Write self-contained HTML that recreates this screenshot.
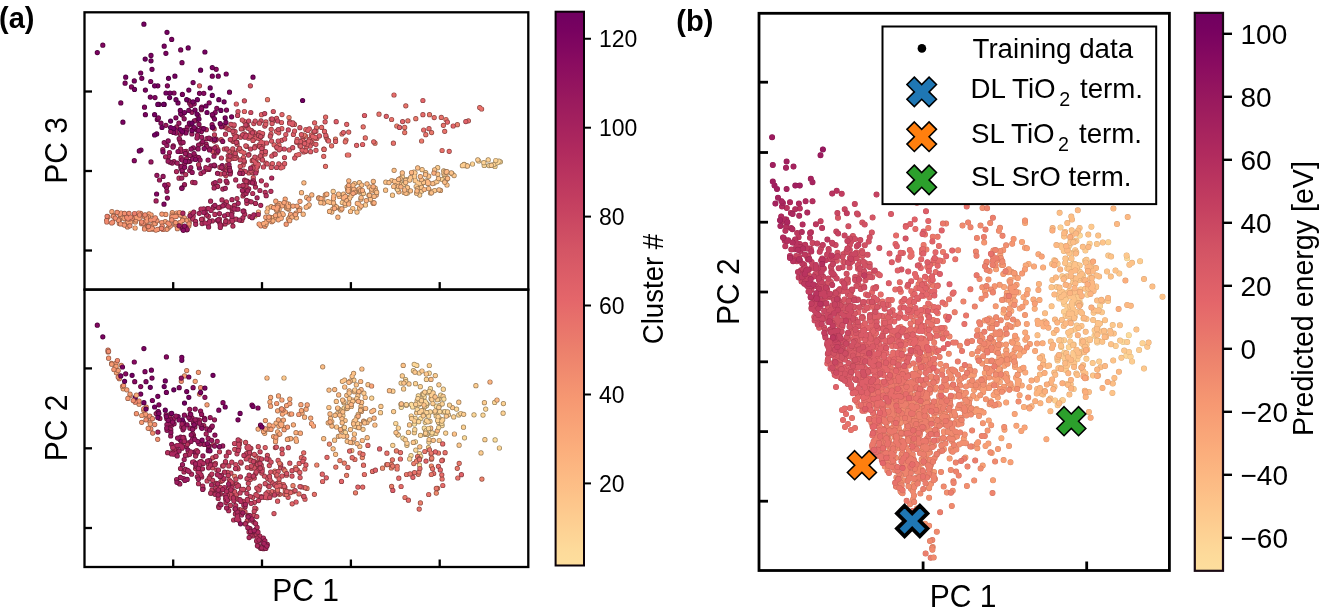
<!DOCTYPE html>
<html><head><meta charset="utf-8"><style>
html,body{margin:0;padding:0;background:#fff;width:1322px;height:608px;overflow:hidden}
svg{display:block;font-family:"Liberation Sans",sans-serif;filter:blur(0.35px)}
</style></head><body>
<svg width="1322" height="608" viewBox="0 0 1322 608" font-family="Liberation Sans, sans-serif"><defs><linearGradient id="ga" x1="0" y1="1" x2="0" y2="0"><stop offset="0.0000" stop-color="#fdde9d"/><stop offset="0.0300" stop-color="#fdda9a"/><stop offset="0.1200" stop-color="#fdc48a"/><stop offset="0.2100" stop-color="#fbae7c"/><stop offset="0.3000" stop-color="#f69872"/><stop offset="0.3900" stop-color="#ec806c"/><stop offset="0.4800" stop-color="#e4666a"/><stop offset="0.5700" stop-color="#d45565"/><stop offset="0.6600" stop-color="#c33e60"/><stop offset="0.7500" stop-color="#b02a5e"/><stop offset="0.8400" stop-color="#9a1a5e"/><stop offset="0.9060" stop-color="#8a0c60"/><stop offset="0.9660" stop-color="#780260"/><stop offset="1.0000" stop-color="#700060"/></linearGradient><linearGradient id="gb" x1="0" y1="1" x2="0" y2="0"><stop offset="0.0000" stop-color="#fdde9d"/><stop offset="0.0300" stop-color="#fdda9a"/><stop offset="0.1200" stop-color="#fdc48a"/><stop offset="0.2100" stop-color="#fbae7c"/><stop offset="0.3000" stop-color="#f69872"/><stop offset="0.3900" stop-color="#ec806c"/><stop offset="0.4800" stop-color="#e4666a"/><stop offset="0.5700" stop-color="#d45565"/><stop offset="0.6600" stop-color="#c33e60"/><stop offset="0.7500" stop-color="#b02a5e"/><stop offset="0.8400" stop-color="#9a1a5e"/><stop offset="0.9060" stop-color="#8a0c60"/><stop offset="0.9660" stop-color="#780260"/><stop offset="1.0000" stop-color="#700060"/></linearGradient><clipPath id="ca1"><rect x="84.5" y="12.3" width="443.79999999999995" height="277.3"/></clipPath><clipPath id="ca2"><rect x="84.5" y="289.6" width="443.79999999999995" height="277.4"/></clipPath><clipPath id="cb"><rect x="759" y="13.3" width="410.4000000000001" height="557.2"/></clipPath></defs>
<g clip-path="url(#ca1)" fill="none" stroke-linecap="round">
<path d="M407.4 193.0h0" stroke="#9c825b" stroke-width="5.20"/>
<path d="M407.4 193.0h0" stroke="#fdd294" stroke-width="3.80"/>
<path d="M428.2 182.3h0M422.0 183.5h0M426.3 180.9h0M446.2 179.7h0M437.7 167.7h0" stroke="#9c7f59" stroke-width="5.20"/>
<path d="M428.2 182.3h0M422.0 183.5h0M426.3 180.9h0M446.2 179.7h0M437.7 167.7h0" stroke="#fdcd91" stroke-width="3.80"/>
<path d="M401.2 184.6h0M444.9 176.6h0M333.2 191.4h0M400.2 181.3h0M425.7 172.6h0M446.0 174.2h0" stroke="#9c7c57" stroke-width="5.20"/>
<path d="M401.2 184.6h0M444.9 176.6h0M333.2 191.4h0M400.2 181.3h0M425.7 172.6h0M446.0 174.2h0" stroke="#fdc88d" stroke-width="3.80"/>
<path d="M385.8 182.2h0M385.6 190.2h0M359.4 182.7h0M404.1 192.5h0M407.5 187.7h0M347.1 187.1h0M391.8 180.5h0" stroke="#9c7854" stroke-width="5.20"/>
<path d="M385.8 182.2h0M385.6 190.2h0M359.4 182.7h0M404.1 192.5h0M407.5 187.7h0M347.1 187.1h0M391.8 180.5h0" stroke="#fdc389" stroke-width="3.80"/>
<path d="M440.5 190.4h0M308.2 206.2h0M394.1 170.3h0M375.2 188.1h0" stroke="#9c7553" stroke-width="5.20"/>
<path d="M440.5 190.4h0M308.2 206.2h0M394.1 170.3h0M375.2 188.1h0" stroke="#fcbe86" stroke-width="3.80"/>
<path d="M303.2 214.2h0M371.7 191.0h0M398.8 191.8h0M289.7 217.0h0M298.7 208.6h0M301.5 192.7h0M375.8 190.9h0M306.7 197.4h0M354.7 189.5h0M322.8 199.2h0M303.9 182.8h0M355.4 192.0h0M360.9 199.2h0" stroke="#9c7251" stroke-width="5.20"/>
<path d="M303.2 214.2h0M371.7 191.0h0M398.8 191.8h0M289.7 217.0h0M298.7 208.6h0M301.5 192.7h0M375.8 190.9h0M306.7 197.4h0M354.7 189.5h0M322.8 199.2h0M303.9 182.8h0M355.4 192.0h0M360.9 199.2h0" stroke="#fcb983" stroke-width="3.80"/>
<path d="M309.2 204.8h0M318.7 197.8h0M311.8 194.9h0M306.2 207.2h0M348.8 180.8h0M288.6 204.2h0M347.7 189.7h0M323.7 203.1h0M376.2 194.9h0" stroke="#9c6f4f" stroke-width="5.20"/>
<path d="M309.2 204.8h0M318.7 197.8h0M311.8 194.9h0M306.2 207.2h0M348.8 180.8h0M288.6 204.2h0M347.7 189.7h0M323.7 203.1h0M376.2 194.9h0" stroke="#fcb480" stroke-width="3.80"/>
<path d="M272.8 217.6h0M325.3 194.8h0M319.0 198.2h0M254.9 216.0h0M286.5 207.9h0" stroke="#9b6b4c" stroke-width="5.20"/>
<path d="M272.8 217.6h0M325.3 194.8h0M319.0 198.2h0M254.9 216.0h0M286.5 207.9h0" stroke="#fbae7c" stroke-width="3.80"/>
<path d="M321.0 198.7h0M285.2 199.1h0" stroke="#9b684b" stroke-width="5.20"/>
<path d="M321.0 198.7h0M285.2 199.1h0" stroke="#faa97a" stroke-width="3.80"/>
<path d="M271.8 221.7h0M308.8 199.1h0M290.6 214.4h0M270.3 218.4h0" stroke="#9a654a" stroke-width="5.20"/>
<path d="M271.8 221.7h0M308.8 199.1h0M290.6 214.4h0M270.3 218.4h0" stroke="#f9a478" stroke-width="3.80"/>
<path d="M259.1 224.0h0M260.9 225.8h0" stroke="#996248" stroke-width="5.20"/>
<path d="M259.1 224.0h0M260.9 225.8h0" stroke="#f89f75" stroke-width="3.80"/>
<path d="M286.2 224.2h0M264.9 226.2h0" stroke="#985f47" stroke-width="5.20"/>
<path d="M286.2 224.2h0M264.9 226.2h0" stroke="#f69a73" stroke-width="3.80"/>
<path d="M296.4 217.8h0M267.0 211.8h0M278.6 205.8h0M269.4 218.4h0M268.0 208.2h0M299.5 209.6h0" stroke="#9c7251" stroke-width="5.20"/>
<path d="M296.4 217.8h0M267.0 211.8h0M278.6 205.8h0M269.4 218.4h0M268.0 208.2h0M299.5 209.6h0" stroke="#fcb983" stroke-width="3.80"/>
<path d="M272.6 217.6h0M271.2 206.7h0M279.1 209.4h0M288.7 209.2h0" stroke="#9c6f4f" stroke-width="5.20"/>
<path d="M272.6 217.6h0M271.2 206.7h0M279.1 209.4h0M288.7 209.2h0" stroke="#fcb480" stroke-width="3.80"/>
<path d="M277.5 209.5h0M267.4 218.2h0M283.2 214.6h0M282.4 213.5h0M274.2 207.6h0M258.5 212.0h0M287.9 208.2h0M288.4 219.1h0M266.1 224.3h0M276.1 217.6h0M299.9 208.5h0M273.0 220.8h0M292.0 217.1h0M276.7 210.4h0" stroke="#9b6b4c" stroke-width="5.20"/>
<path d="M277.5 209.5h0M267.4 218.2h0M283.2 214.6h0M282.4 213.5h0M274.2 207.6h0M258.5 212.0h0M287.9 208.2h0M288.4 219.1h0M266.1 224.3h0M276.1 217.6h0M299.9 208.5h0M273.0 220.8h0M292.0 217.1h0M276.7 210.4h0" stroke="#fbae7c" stroke-width="3.80"/>
<path d="M279.6 203.7h0M279.1 214.8h0M268.3 217.6h0M286.4 203.5h0M289.7 220.7h0M278.3 219.8h0M269.4 217.2h0M296.0 213.1h0M299.5 210.4h0M266.4 222.0h0M282.3 205.8h0M281.2 218.2h0M288.4 206.7h0M263.6 223.7h0M276.4 206.4h0" stroke="#9b684b" stroke-width="5.20"/>
<path d="M279.6 203.7h0M279.1 214.8h0M268.3 217.6h0M286.4 203.5h0M289.7 220.7h0M278.3 219.8h0M269.4 217.2h0M296.0 213.1h0M299.5 210.4h0M266.4 222.0h0M282.3 205.8h0M281.2 218.2h0M288.4 206.7h0M263.6 223.7h0M276.4 206.4h0" stroke="#faa97a" stroke-width="3.80"/>
<path d="M297.1 206.1h0M284.1 202.6h0M300.0 201.3h0M268.8 219.7h0M275.8 201.2h0M278.0 205.3h0M295.4 214.6h0M275.5 215.6h0M265.8 217.2h0M293.0 206.1h0" stroke="#9a654a" stroke-width="5.20"/>
<path d="M297.1 206.1h0M284.1 202.6h0M300.0 201.3h0M268.8 219.7h0M275.8 201.2h0M278.0 205.3h0M295.4 214.6h0M275.5 215.6h0M265.8 217.2h0M293.0 206.1h0" stroke="#f9a478" stroke-width="3.80"/>
<path d="M268.9 217.1h0M273.5 207.6h0M276.8 209.0h0M277.6 207.1h0" stroke="#996248" stroke-width="5.20"/>
<path d="M268.9 217.1h0M273.5 207.6h0M276.8 209.0h0M277.6 207.1h0" stroke="#f89f75" stroke-width="3.80"/>
<path d="M372.8 202.5h0" stroke="#9c7f59" stroke-width="5.20"/>
<path d="M372.8 202.5h0" stroke="#fdcd91" stroke-width="3.80"/>
<path d="M359.5 192.1h0M349.1 197.7h0M332.8 209.2h0M342.3 202.5h0M365.5 205.0h0M363.4 193.4h0" stroke="#9c7c57" stroke-width="5.20"/>
<path d="M359.5 192.1h0M349.1 197.7h0M332.8 209.2h0M342.3 202.5h0M365.5 205.0h0M363.4 193.4h0" stroke="#fdc88d" stroke-width="3.80"/>
<path d="M339.9 208.8h0M352.8 208.5h0M357.0 212.1h0M348.9 191.4h0M354.6 183.6h0M347.8 189.4h0M350.0 189.1h0M360.0 191.2h0M345.2 205.2h0" stroke="#9c7854" stroke-width="5.20"/>
<path d="M339.9 208.8h0M352.8 208.5h0M357.0 212.1h0M348.9 191.4h0M354.6 183.6h0M347.8 189.4h0M350.0 189.1h0M360.0 191.2h0M345.2 205.2h0" stroke="#fdc389" stroke-width="3.80"/>
<path d="M340.9 209.9h0M369.2 186.9h0M334.6 205.7h0M351.1 195.7h0M370.4 199.3h0M343.5 194.2h0M331.8 212.1h0M359.5 207.9h0M349.7 187.8h0M376.7 192.4h0M330.5 202.4h0M339.3 196.5h0M350.5 211.5h0M327.9 201.7h0M349.6 198.3h0M361.7 185.1h0M336.5 207.5h0M368.9 195.2h0M348.7 202.6h0" stroke="#9c7553" stroke-width="5.20"/>
<path d="M340.9 209.9h0M369.2 186.9h0M334.6 205.7h0M351.1 195.7h0M370.4 199.3h0M343.5 194.2h0M331.8 212.1h0M359.5 207.9h0M349.7 187.8h0M376.7 192.4h0M330.5 202.4h0M339.3 196.5h0M350.5 211.5h0M327.9 201.7h0M349.6 198.3h0M361.7 185.1h0M336.5 207.5h0M368.9 195.2h0M348.7 202.6h0" stroke="#fcbe86" stroke-width="3.80"/>
<path d="M369.5 195.3h0M360.6 189.7h0M374.1 196.4h0M333.5 202.9h0M361.1 197.7h0M373.3 181.4h0M320.8 202.7h0M336.3 206.8h0M353.0 185.2h0M338.6 194.2h0M345.1 203.5h0M371.7 189.1h0M329.5 211.4h0M359.2 188.8h0M367.0 183.8h0" stroke="#9c7251" stroke-width="5.20"/>
<path d="M369.5 195.3h0M360.6 189.7h0M374.1 196.4h0M333.5 202.9h0M361.1 197.7h0M373.3 181.4h0M320.8 202.7h0M336.3 206.8h0M353.0 185.2h0M338.6 194.2h0M345.1 203.5h0M371.7 189.1h0M329.5 211.4h0M359.2 188.8h0M367.0 183.8h0" stroke="#fcb983" stroke-width="3.80"/>
<path d="M357.3 203.4h0M333.8 196.0h0M337.9 217.2h0M373.4 203.5h0M361.2 206.1h0M366.3 200.6h0M346.3 200.1h0M353.8 189.5h0M358.7 203.8h0M333.5 198.6h0M360.7 190.7h0" stroke="#9c6f4f" stroke-width="5.20"/>
<path d="M357.3 203.4h0M333.8 196.0h0M337.9 217.2h0M373.4 203.5h0M361.2 206.1h0M366.3 200.6h0M346.3 200.1h0M353.8 189.5h0M358.7 203.8h0M333.5 198.6h0M360.7 190.7h0" stroke="#fcb480" stroke-width="3.80"/>
<path d="M374.1 202.9h0M348.7 204.0h0M348.3 188.0h0M348.2 191.1h0M354.8 192.3h0M341.9 208.8h0M343.4 197.9h0M345.4 196.4h0M362.4 190.5h0M326.8 194.2h0M373.2 186.7h0" stroke="#9b6b4c" stroke-width="5.20"/>
<path d="M374.1 202.9h0M348.7 204.0h0M348.3 188.0h0M348.2 191.1h0M354.8 192.3h0M341.9 208.8h0M343.4 197.9h0M345.4 196.4h0M362.4 190.5h0M326.8 194.2h0M373.2 186.7h0" stroke="#fbae7c" stroke-width="3.80"/>
<path d="M334.4 208.5h0M348.7 185.3h0" stroke="#9b684b" stroke-width="5.20"/>
<path d="M334.4 208.5h0M348.7 185.3h0" stroke="#faa97a" stroke-width="3.80"/>
<path d="M353.1 193.3h0" stroke="#9a654a" stroke-width="5.20"/>
<path d="M353.1 193.3h0" stroke="#f9a478" stroke-width="3.80"/>
<path d="M396.9 188.4h0" stroke="#9c855e" stroke-width="5.20"/>
<path d="M396.9 188.4h0" stroke="#fdd798" stroke-width="3.80"/>
<path d="M442.2 179.6h0M452.1 173.7h0M406.9 179.6h0" stroke="#9c825b" stroke-width="5.20"/>
<path d="M442.2 179.6h0M452.1 173.7h0M406.9 179.6h0" stroke="#fdd294" stroke-width="3.80"/>
<path d="M421.7 191.1h0M402.3 176.7h0M397.6 189.6h0M420.4 187.6h0M444.1 174.4h0M419.7 195.1h0M403.5 184.6h0M398.8 180.4h0" stroke="#9c7f59" stroke-width="5.20"/>
<path d="M421.7 191.1h0M402.3 176.7h0M397.6 189.6h0M420.4 187.6h0M444.1 174.4h0M419.7 195.1h0M403.5 184.6h0M398.8 180.4h0" stroke="#fdcd91" stroke-width="3.80"/>
<path d="M445.0 181.6h0M422.1 169.7h0M430.5 193.0h0M437.0 181.6h0M443.7 170.9h0M415.2 180.7h0M454.1 175.6h0M415.0 172.8h0M417.9 182.8h0M416.2 186.5h0M414.4 176.5h0M405.5 180.1h0M431.6 191.3h0M420.2 183.9h0M434.1 183.0h0M415.3 180.4h0M413.9 172.2h0M392.5 195.2h0M443.9 172.8h0M434.7 190.6h0" stroke="#9c7c57" stroke-width="5.20"/>
<path d="M445.0 181.6h0M422.1 169.7h0M430.5 193.0h0M437.0 181.6h0M443.7 170.9h0M415.2 180.7h0M454.1 175.6h0M415.0 172.8h0M417.9 182.8h0M416.2 186.5h0M414.4 176.5h0M405.5 180.1h0M431.6 191.3h0M420.2 183.9h0M434.1 183.0h0M415.3 180.4h0M413.9 172.2h0M392.5 195.2h0M443.9 172.8h0M434.7 190.6h0" stroke="#fdc88d" stroke-width="3.80"/>
<path d="M400.1 178.6h0M445.2 171.6h0M409.7 180.1h0M416.6 193.2h0M421.6 187.4h0M451.3 172.9h0M428.7 176.2h0M438.5 178.6h0M396.0 183.5h0M447.0 185.0h0M437.8 174.2h0M423.6 182.4h0M434.6 169.8h0M410.6 177.6h0M405.6 180.5h0M417.5 188.8h0" stroke="#9c7854" stroke-width="5.20"/>
<path d="M400.1 178.6h0M445.2 171.6h0M409.7 180.1h0M416.6 193.2h0M421.6 187.4h0M451.3 172.9h0M428.7 176.2h0M438.5 178.6h0M396.0 183.5h0M447.0 185.0h0M437.8 174.2h0M423.6 182.4h0M434.6 169.8h0M410.6 177.6h0M405.6 180.5h0M417.5 188.8h0" stroke="#fdc389" stroke-width="3.80"/>
<path d="M432.7 183.6h0M428.6 188.6h0M439.0 189.8h0M402.3 172.9h0M394.5 181.3h0M398.5 186.3h0M410.5 190.8h0M397.8 182.0h0M425.5 174.7h0M405.7 182.5h0M393.7 186.5h0M406.0 193.3h0M431.5 192.8h0M389.0 182.6h0M444.8 182.2h0M417.7 167.9h0M421.4 179.5h0" stroke="#9c7553" stroke-width="5.20"/>
<path d="M432.7 183.6h0M428.6 188.6h0M439.0 189.8h0M402.3 172.9h0M394.5 181.3h0M398.5 186.3h0M410.5 190.8h0M397.8 182.0h0M425.5 174.7h0M405.7 182.5h0M393.7 186.5h0M406.0 193.3h0M431.5 192.8h0M389.0 182.6h0M444.8 182.2h0M417.7 167.9h0M421.4 179.5h0" stroke="#fcbe86" stroke-width="3.80"/>
<path d="M417.0 190.9h0M420.3 176.6h0M446.4 172.2h0M427.7 181.6h0M446.9 171.6h0M398.6 179.4h0M447.6 178.4h0M428.7 183.2h0M404.6 190.0h0M427.8 183.4h0M424.2 189.5h0" stroke="#9c7251" stroke-width="5.20"/>
<path d="M417.0 190.9h0M420.3 176.6h0M446.4 172.2h0M427.7 181.6h0M446.9 171.6h0M398.6 179.4h0M447.6 178.4h0M428.7 183.2h0M404.6 190.0h0M427.8 183.4h0M424.2 189.5h0" stroke="#fcb983" stroke-width="3.80"/>
<path d="M411.5 172.5h0M400.9 186.8h0" stroke="#9c6f4f" stroke-width="5.20"/>
<path d="M411.5 172.5h0M400.9 186.8h0" stroke="#fcb480" stroke-width="3.80"/>
<path d="M433.9 173.1h0" stroke="#9b6b4c" stroke-width="5.20"/>
<path d="M433.9 173.1h0" stroke="#fbae7c" stroke-width="3.80"/>
<path d="M500.4 161.8h0M495.0 166.5h0" stroke="#9c8760" stroke-width="5.20"/>
<path d="M500.4 161.8h0M495.0 166.5h0" stroke="#fddb9b" stroke-width="3.80"/>
<path d="M484.2 165.4h0M499.0 161.2h0M489.0 165.6h0M497.7 162.6h0M495.4 163.4h0" stroke="#9c855e" stroke-width="5.20"/>
<path d="M484.2 165.4h0M499.0 161.2h0M489.0 165.6h0M497.7 162.6h0M495.4 163.4h0" stroke="#fdd798" stroke-width="3.80"/>
<path d="M488.2 159.9h0M464.1 164.4h0M491.4 165.2h0M472.5 164.0h0M495.8 160.5h0M467.1 165.8h0M493.8 164.6h0M483.8 162.7h0M478.7 161.0h0" stroke="#9c825b" stroke-width="5.20"/>
<path d="M488.2 159.9h0M464.1 164.4h0M491.4 165.2h0M472.5 164.0h0M495.8 160.5h0M467.1 165.8h0M493.8 164.6h0M483.8 162.7h0M478.7 161.0h0" stroke="#fdd294" stroke-width="3.80"/>
<path d="M491.3 165.3h0M477.8 159.8h0M462.4 165.7h0M465.6 165.7h0M464.0 164.6h0" stroke="#9c7f59" stroke-width="5.20"/>
<path d="M491.3 165.3h0M477.8 159.8h0M462.4 165.7h0M465.6 165.7h0M464.0 164.6h0" stroke="#fdcd91" stroke-width="3.80"/>
<path d="M467.4 166.0h0" stroke="#9c7c57" stroke-width="5.20"/>
<path d="M467.4 166.0h0" stroke="#fdc88d" stroke-width="3.80"/>
<path d="M190.7 213.3h0M135.1 228.0h0" stroke="#9b684b" stroke-width="5.20"/>
<path d="M190.7 213.3h0M135.1 228.0h0" stroke="#faa97a" stroke-width="3.80"/>
<path d="M153.0 224.1h0M168.2 227.9h0M172.3 212.7h0M111.9 211.7h0M165.3 221.6h0M148.0 225.8h0M135.4 221.9h0M184.4 217.8h0M183.1 217.9h0" stroke="#9a654a" stroke-width="5.20"/>
<path d="M153.0 224.1h0M168.2 227.9h0M172.3 212.7h0M111.9 211.7h0M165.3 221.6h0M148.0 225.8h0M135.4 221.9h0M184.4 217.8h0M183.1 217.9h0" stroke="#f9a478" stroke-width="3.80"/>
<path d="M135.2 215.3h0M130.4 222.3h0M172.0 215.2h0M144.8 222.3h0M182.6 220.0h0M155.3 223.4h0M124.2 218.5h0M176.7 213.0h0M136.0 219.9h0M175.4 224.8h0M149.0 213.9h0M127.5 216.1h0M127.4 222.1h0M120.5 216.9h0M180.3 224.7h0M148.5 227.2h0M152.5 229.2h0M173.6 215.3h0M151.1 214.8h0M165.8 214.4h0" stroke="#996248" stroke-width="5.20"/>
<path d="M135.2 215.3h0M130.4 222.3h0M172.0 215.2h0M144.8 222.3h0M182.6 220.0h0M155.3 223.4h0M124.2 218.5h0M176.7 213.0h0M136.0 219.9h0M175.4 224.8h0M149.0 213.9h0M127.5 216.1h0M127.4 222.1h0M120.5 216.9h0M180.3 224.7h0M148.5 227.2h0M152.5 229.2h0M173.6 215.3h0M151.1 214.8h0M165.8 214.4h0" stroke="#f89f75" stroke-width="3.80"/>
<path d="M177.4 228.7h0M127.5 226.9h0M139.2 214.8h0M174.7 222.9h0M182.6 227.0h0M148.3 216.8h0M178.3 214.3h0M189.2 222.6h0M132.3 218.3h0M138.9 216.6h0M108.0 216.9h0M119.6 213.8h0M161.9 214.1h0M154.9 223.7h0M182.5 220.4h0M180.8 215.3h0M180.1 222.3h0M119.5 219.8h0M144.4 216.8h0M144.8 227.8h0M171.8 218.0h0M139.2 218.5h0M128.0 214.5h0M113.8 215.6h0M172.8 216.4h0M124.3 224.0h0M187.1 220.3h0M136.2 217.2h0M175.9 215.8h0M147.1 217.7h0M166.8 229.3h0M141.5 223.7h0M119.3 223.5h0" stroke="#985f47" stroke-width="5.20"/>
<path d="M177.4 228.7h0M127.5 226.9h0M139.2 214.8h0M174.7 222.9h0M182.6 227.0h0M148.3 216.8h0M178.3 214.3h0M189.2 222.6h0M132.3 218.3h0M138.9 216.6h0M108.0 216.9h0M119.6 213.8h0M161.9 214.1h0M154.9 223.7h0M182.5 220.4h0M180.8 215.3h0M180.1 222.3h0M119.5 219.8h0M144.4 216.8h0M144.8 227.8h0M171.8 218.0h0M139.2 218.5h0M128.0 214.5h0M113.8 215.6h0M172.8 216.4h0M124.3 224.0h0M187.1 220.3h0M136.2 217.2h0M175.9 215.8h0M147.1 217.7h0M166.8 229.3h0M141.5 223.7h0M119.3 223.5h0" stroke="#f69a73" stroke-width="3.80"/>
<path d="M146.5 217.7h0M118.4 220.2h0M188.8 226.1h0M190.3 218.8h0M170.3 226.0h0M144.5 229.0h0M174.7 216.7h0M149.6 226.1h0M124.4 225.1h0M150.4 228.6h0M113.4 216.3h0M175.7 222.6h0M172.0 217.0h0M156.9 220.7h0M149.1 229.5h0M176.1 216.4h0M161.8 222.5h0M147.4 220.8h0M120.5 223.9h0M157.6 229.4h0M145.1 222.1h0M160.6 228.5h0M152.2 228.3h0M140.6 213.4h0M155.9 230.1h0M120.0 214.3h0M179.5 212.5h0M121.0 213.0h0" stroke="#975c46" stroke-width="5.20"/>
<path d="M146.5 217.7h0M118.4 220.2h0M188.8 226.1h0M190.3 218.8h0M170.3 226.0h0M144.5 229.0h0M174.7 216.7h0M149.6 226.1h0M124.4 225.1h0M150.4 228.6h0M113.4 216.3h0M175.7 222.6h0M172.0 217.0h0M156.9 220.7h0M149.1 229.5h0M176.1 216.4h0M161.8 222.5h0M147.4 220.8h0M120.5 223.9h0M157.6 229.4h0M145.1 222.1h0M160.6 228.5h0M152.2 228.3h0M140.6 213.4h0M155.9 230.1h0M120.0 214.3h0M179.5 212.5h0M121.0 213.0h0" stroke="#f59571" stroke-width="3.80"/>
<path d="M143.1 223.5h0M147.9 226.6h0M154.1 219.4h0M132.0 218.5h0M129.9 225.8h0M150.7 220.1h0M155.3 217.8h0M111.7 222.9h0M163.0 229.5h0M138.7 213.0h0M171.8 219.9h0M129.3 218.9h0M117.1 212.3h0M162.2 226.1h0M115.3 218.1h0M124.5 213.4h0M169.3 224.1h0M112.7 222.2h0M189.0 223.9h0M168.0 223.1h0" stroke="#965845" stroke-width="5.20"/>
<path d="M143.1 223.5h0M147.9 226.6h0M154.1 219.4h0M132.0 218.5h0M129.9 225.8h0M150.7 220.1h0M155.3 217.8h0M111.7 222.9h0M163.0 229.5h0M138.7 213.0h0M171.8 219.9h0M129.3 218.9h0M117.1 212.3h0M162.2 226.1h0M115.3 218.1h0M124.5 213.4h0M169.3 224.1h0M112.7 222.2h0M189.0 223.9h0M168.0 223.1h0" stroke="#f28f70" stroke-width="3.80"/>
<path d="M139.6 215.0h0M148.4 226.6h0M130.7 217.1h0M141.7 222.0h0M106.8 222.0h0M106.6 220.3h0M128.0 218.8h0M129.0 213.3h0M126.7 217.3h0M145.0 214.9h0" stroke="#945544" stroke-width="5.20"/>
<path d="M139.6 215.0h0M148.4 226.6h0M130.7 217.1h0M141.7 222.0h0M106.8 222.0h0M106.6 220.3h0M128.0 218.8h0M129.0 213.3h0M126.7 217.3h0M145.0 214.9h0" stroke="#f08a6e" stroke-width="3.80"/>
<path d="M161.6 228.4h0M107.1 216.3h0" stroke="#935143" stroke-width="5.20"/>
<path d="M161.6 228.4h0M107.1 216.3h0" stroke="#ee846d" stroke-width="3.80"/>
<path d="M134.5 213.5h0" stroke="#914e42" stroke-width="5.20"/>
<path d="M134.5 213.5h0" stroke="#eb7e6c" stroke-width="3.80"/>
<path d="M313.7 132.1h0" stroke="#935143" stroke-width="5.20"/>
<path d="M313.7 132.1h0" stroke="#ee846d" stroke-width="3.80"/>
<path d="M457.4 124.7h0M396.8 126.0h0M375.0 143.2h0M335.5 139.2h0" stroke="#914e42" stroke-width="5.20"/>
<path d="M457.4 124.7h0M396.8 126.0h0M375.0 143.2h0M335.5 139.2h0" stroke="#eb7e6c" stroke-width="3.80"/>
<path d="M407.9 120.8h0M415.8 118.7h0M429.5 114.7h0M446.0 119.5h0M431.6 132.6h0M404.7 127.4h0M404.7 132.6h0M421.6 141.0h0M342.0 134.0h0M346.0 140.0h0" stroke="#914a42" stroke-width="5.20"/>
<path d="M407.9 120.8h0M415.8 118.7h0M429.5 114.7h0M446.0 119.5h0M431.6 132.6h0M404.7 127.4h0M404.7 132.6h0M421.6 141.0h0M342.0 134.0h0M346.0 140.0h0" stroke="#ea786b" stroke-width="3.80"/>
<path d="M405.8 105.8h0M479.7 107.6h0M481.6 109.0h0M379.0 114.2h0M391.6 119.5h0M434.2 117.6h0M441.3 117.4h0M468.4 120.8h0M443.4 125.3h0M444.7 131.3h0M425.8 134.7h0M442.1 150.5h0M393.4 143.2h0M363.2 126.8h0M365.3 137.9h0M345.3 141.8h0M326.3 137.4h0M347.4 155.0h0M348.7 155.0h0M325.5 166.3h0M331.6 145.8h0" stroke="#8f4642" stroke-width="5.20"/>
<path d="M405.8 105.8h0M479.7 107.6h0M481.6 109.0h0M379.0 114.2h0M391.6 119.5h0M434.2 117.6h0M441.3 117.4h0M468.4 120.8h0M443.4 125.3h0M444.7 131.3h0M425.8 134.7h0M442.1 150.5h0M393.4 143.2h0M363.2 126.8h0M365.3 137.9h0M345.3 141.8h0M326.3 137.4h0M347.4 155.0h0M348.7 155.0h0M325.5 166.3h0M331.6 145.8h0" stroke="#e8726b" stroke-width="3.80"/>
<path d="M394.0 95.0h0M422.9 114.7h0M423.7 130.0h0M429.0 128.7h0M449.2 151.3h0M373.7 141.8h0M348.7 132.1h0M321.6 127.4h0M305.8 129.5h0M323.7 156.3h0" stroke="#8e4241" stroke-width="5.20"/>
<path d="M394.0 95.0h0M422.9 114.7h0M423.7 130.0h0M429.0 128.7h0M449.2 151.3h0M373.7 141.8h0M348.7 132.1h0M321.6 127.4h0M305.8 129.5h0M323.7 156.3h0" stroke="#e66c6a" stroke-width="3.80"/>
<path d="M422.9 100.5h0M402.6 121.6h0M447.4 122.1h0M453.2 126.0h0M362.6 144.5h0M356.6 145.3h0M327.6 140.0h0M312.6 136.6h0" stroke="#8d3f41" stroke-width="5.20"/>
<path d="M422.9 100.5h0M402.6 121.6h0M447.4 122.1h0M453.2 126.0h0M362.6 144.5h0M356.6 145.3h0M327.6 140.0h0M312.6 136.6h0" stroke="#e4666a" stroke-width="3.80"/>
<path d="M386.3 116.3h0M465.8 121.6h0M399.5 127.4h0M343.4 132.6h0" stroke="#8a3c41" stroke-width="5.20"/>
<path d="M386.3 116.3h0M465.8 121.6h0M399.5 127.4h0M343.4 132.6h0" stroke="#e06269" stroke-width="3.80"/>
<path d="M364.5 115.5h0" stroke="#893a40" stroke-width="5.20"/>
<path d="M364.5 115.5h0" stroke="#dd5e68" stroke-width="3.80"/>
<path d="M304.0 136.8h0" stroke="#914a42" stroke-width="5.20"/>
<path d="M304.0 136.8h0" stroke="#ea786b" stroke-width="3.80"/>
<path d="M305.5 136.0h0M305.3 151.5h0M312.2 143.6h0" stroke="#8f4642" stroke-width="5.20"/>
<path d="M305.5 136.0h0M305.3 151.5h0M312.2 143.6h0" stroke="#e8726b" stroke-width="3.80"/>
<path d="M316.8 138.5h0M311.3 135.1h0M299.8 143.8h0M314.3 137.2h0" stroke="#8e4241" stroke-width="5.20"/>
<path d="M316.8 138.5h0M311.3 135.1h0M299.8 143.8h0M314.3 137.2h0" stroke="#e66c6a" stroke-width="3.80"/>
<path d="M323.9 149.2h0M312.2 139.7h0" stroke="#8d3f41" stroke-width="5.20"/>
<path d="M323.9 149.2h0M312.2 139.7h0" stroke="#e4666a" stroke-width="3.80"/>
<path d="M303.8 151.9h0M309.4 139.3h0M312.6 136.5h0M304.0 141.9h0M302.4 140.0h0M306.3 147.0h0M315.4 137.5h0" stroke="#8a3c41" stroke-width="5.20"/>
<path d="M303.8 151.9h0M309.4 139.3h0M312.6 136.5h0M304.0 141.9h0M302.4 140.0h0M306.3 147.0h0M315.4 137.5h0" stroke="#e06269" stroke-width="3.80"/>
<path d="M310.2 146.1h0M310.6 151.7h0M310.7 141.7h0M307.7 142.2h0" stroke="#893a40" stroke-width="5.20"/>
<path d="M310.2 146.1h0M310.6 151.7h0M310.7 141.7h0M307.7 142.2h0" stroke="#dd5e68" stroke-width="3.80"/>
<path d="M324.1 149.4h0M325.6 117.1h0M316.5 127.8h0M294.5 124.4h0" stroke="#8e4241" stroke-width="5.20"/>
<path d="M324.1 149.4h0M325.6 117.1h0M316.5 127.8h0M294.5 124.4h0" stroke="#e66c6a" stroke-width="3.80"/>
<path d="M314.6 122.8h0M324.5 131.4h0M346.7 124.3h0M328.6 140.9h0M296.6 142.3h0" stroke="#8d3f41" stroke-width="5.20"/>
<path d="M314.6 122.8h0M324.5 131.4h0M346.7 124.3h0M328.6 140.9h0M296.6 142.3h0" stroke="#e4666a" stroke-width="3.80"/>
<path d="M305.8 150.9h0M307.0 144.5h0M315.9 144.3h0M315.9 131.3h0M297.1 139.4h0M335.6 141.4h0M300.0 145.9h0M325.1 121.8h0M302.1 150.1h0M308.8 141.1h0M316.0 150.3h0" stroke="#8a3c41" stroke-width="5.20"/>
<path d="M305.8 150.9h0M307.0 144.5h0M315.9 144.3h0M315.9 131.3h0M297.1 139.4h0M335.6 141.4h0M300.0 145.9h0M325.1 121.8h0M302.1 150.1h0M308.8 141.1h0M316.0 150.3h0" stroke="#e06269" stroke-width="3.80"/>
<path d="M293.4 134.4h0M336.2 121.7h0M300.5 141.7h0M309.3 128.8h0M307.9 130.5h0M302.7 136.3h0M319.4 135.9h0M325.8 135.4h0M285.8 134.5h0" stroke="#893a40" stroke-width="5.20"/>
<path d="M293.4 134.4h0M336.2 121.7h0M300.5 141.7h0M309.3 128.8h0M307.9 130.5h0M302.7 136.3h0M319.4 135.9h0M325.8 135.4h0M285.8 134.5h0" stroke="#dd5e68" stroke-width="3.80"/>
<path d="M314.6 131.2h0" stroke="#86373f" stroke-width="5.20"/>
<path d="M314.6 131.2h0" stroke="#d95a67" stroke-width="3.80"/>
<path d="M299.9 127.7h0" stroke="#84353e" stroke-width="5.20"/>
<path d="M299.9 127.7h0" stroke="#d55665" stroke-width="3.80"/>
<path d="M289.0 117.6h0" stroke="#914e42" stroke-width="5.20"/>
<path d="M289.0 117.6h0" stroke="#eb7e6c" stroke-width="3.80"/>
<path d="M304.1 135.1h0" stroke="#914a42" stroke-width="5.20"/>
<path d="M304.1 135.1h0" stroke="#ea786b" stroke-width="3.80"/>
<path d="M279.0 145.0h0M274.1 154.1h0" stroke="#8e4241" stroke-width="5.20"/>
<path d="M279.0 145.0h0M274.1 154.1h0" stroke="#e66c6a" stroke-width="3.80"/>
<path d="M282.0 114.6h0M274.1 144.8h0M298.9 154.5h0M281.8 128.7h0M296.4 155.3h0M256.3 166.1h0" stroke="#8d3f41" stroke-width="5.20"/>
<path d="M282.0 114.6h0M274.1 144.8h0M298.9 154.5h0M281.8 128.7h0M296.4 155.3h0M256.3 166.1h0" stroke="#e4666a" stroke-width="3.80"/>
<path d="M278.7 132.8h0M271.0 134.0h0M257.1 163.5h0M265.9 121.9h0M300.8 146.1h0M265.1 154.0h0M262.6 146.7h0M296.9 141.5h0M262.0 135.7h0M282.3 165.5h0M249.8 134.9h0M272.4 163.7h0M282.8 167.0h0M262.0 135.1h0M246.6 146.4h0M289.3 149.9h0M272.8 121.1h0M280.9 167.8h0M276.4 131.3h0M281.5 122.5h0" stroke="#8a3c41" stroke-width="5.20"/>
<path d="M278.7 132.8h0M271.0 134.0h0M257.1 163.5h0M265.9 121.9h0M300.8 146.1h0M265.1 154.0h0M262.6 146.7h0M296.9 141.5h0M262.0 135.7h0M282.3 165.5h0M249.8 134.9h0M272.4 163.7h0M282.8 167.0h0M262.0 135.1h0M246.6 146.4h0M289.3 149.9h0M272.8 121.1h0M280.9 167.8h0M276.4 131.3h0M281.5 122.5h0" stroke="#e06269" stroke-width="3.80"/>
<path d="M271.2 119.2h0M261.7 156.0h0M294.6 131.0h0M233.4 152.1h0M281.7 140.3h0M258.2 157.9h0M271.2 129.3h0M243.5 157.5h0M278.8 163.9h0M265.9 163.0h0M260.3 137.6h0M241.3 151.2h0M284.6 163.7h0M244.0 152.8h0M233.3 131.0h0M261.5 158.2h0M255.6 158.7h0M248.8 138.2h0M301.4 134.7h0M277.1 147.9h0M289.8 121.8h0M238.5 149.8h0M304.7 143.6h0M252.2 160.7h0M255.5 134.8h0" stroke="#893a40" stroke-width="5.20"/>
<path d="M271.2 119.2h0M261.7 156.0h0M294.6 131.0h0M233.4 152.1h0M281.7 140.3h0M258.2 157.9h0M271.2 129.3h0M243.5 157.5h0M278.8 163.9h0M265.9 163.0h0M260.3 137.6h0M241.3 151.2h0M284.6 163.7h0M244.0 152.8h0M233.3 131.0h0M261.5 158.2h0M255.6 158.7h0M248.8 138.2h0M301.4 134.7h0M277.1 147.9h0M289.8 121.8h0M238.5 149.8h0M304.7 143.6h0M252.2 160.7h0M255.5 134.8h0" stroke="#dd5e68" stroke-width="3.80"/>
<path d="M292.4 124.6h0M294.7 158.1h0M271.3 167.4h0M276.6 118.4h0M245.8 145.8h0M257.1 136.5h0M261.1 142.0h0M233.3 141.4h0M261.4 133.5h0M248.9 172.9h0M233.5 125.9h0M226.9 128.2h0M284.7 139.0h0M257.5 166.4h0M272.1 123.6h0M262.6 133.5h0M253.3 177.7h0M292.9 122.9h0M254.3 132.6h0M254.7 138.6h0M289.6 123.2h0M236.6 136.4h0M253.1 166.7h0M259.3 144.9h0M255.6 162.2h0M271.6 141.1h0M259.5 132.7h0M228.1 159.7h0M244.5 121.5h0M217.8 149.3h0M258.6 138.3h0M264.1 143.0h0M243.2 165.0h0M262.5 151.1h0M253.2 159.9h0" stroke="#86373f" stroke-width="5.20"/>
<path d="M292.4 124.6h0M294.7 158.1h0M271.3 167.4h0M276.6 118.4h0M245.8 145.8h0M257.1 136.5h0M261.1 142.0h0M233.3 141.4h0M261.4 133.5h0M248.9 172.9h0M233.5 125.9h0M226.9 128.2h0M284.7 139.0h0M257.5 166.4h0M272.1 123.6h0M262.6 133.5h0M253.3 177.7h0M292.9 122.9h0M254.3 132.6h0M254.7 138.6h0M289.6 123.2h0M236.6 136.4h0M253.1 166.7h0M259.3 144.9h0M255.6 162.2h0M271.6 141.1h0M259.5 132.7h0M228.1 159.7h0M244.5 121.5h0M217.8 149.3h0M258.6 138.3h0M264.1 143.0h0M243.2 165.0h0M262.5 151.1h0M253.2 159.9h0" stroke="#d95a67" stroke-width="3.80"/>
<path d="M248.2 135.5h0M240.2 166.4h0M279.2 149.8h0M253.6 160.3h0M267.2 163.9h0M228.9 151.3h0M255.4 163.0h0M244.5 133.9h0M271.8 156.0h0M231.7 156.1h0M258.9 135.8h0M225.1 170.2h0M243.0 128.3h0M258.3 164.4h0M284.5 157.6h0M216.4 146.8h0M243.8 171.1h0M251.8 130.8h0M253.8 123.6h0M249.7 136.7h0M246.9 124.9h0M232.8 158.5h0M276.8 147.1h0M261.9 152.2h0M259.9 146.8h0M252.6 172.5h0M255.1 146.3h0M256.9 167.0h0M264.8 126.1h0M266.6 143.0h0M280.4 148.7h0M292.7 147.7h0M278.2 141.0h0M236.4 157.3h0M237.1 144.2h0M256.4 170.9h0M254.3 168.0h0M253.0 140.4h0M251.5 135.3h0M239.6 148.3h0" stroke="#84353e" stroke-width="5.20"/>
<path d="M248.2 135.5h0M240.2 166.4h0M279.2 149.8h0M253.6 160.3h0M267.2 163.9h0M228.9 151.3h0M255.4 163.0h0M244.5 133.9h0M271.8 156.0h0M231.7 156.1h0M258.9 135.8h0M225.1 170.2h0M243.0 128.3h0M258.3 164.4h0M284.5 157.6h0M216.4 146.8h0M243.8 171.1h0M251.8 130.8h0M253.8 123.6h0M249.7 136.7h0M246.9 124.9h0M232.8 158.5h0M276.8 147.1h0M261.9 152.2h0M259.9 146.8h0M252.6 172.5h0M255.1 146.3h0M256.9 167.0h0M264.8 126.1h0M266.6 143.0h0M280.4 148.7h0M292.7 147.7h0M278.2 141.0h0M236.4 157.3h0M237.1 144.2h0M256.4 170.9h0M254.3 168.0h0M253.0 140.4h0M251.5 135.3h0M239.6 148.3h0" stroke="#d55665" stroke-width="3.80"/>
<path d="M248.1 128.2h0M241.3 128.9h0M250.8 130.3h0M224.4 149.0h0M260.5 155.9h0M262.5 159.9h0M229.1 159.9h0M261.0 120.9h0M244.4 161.9h0M211.5 149.0h0M240.5 137.2h0M258.6 135.4h0M232.8 148.8h0M240.7 172.7h0M255.2 121.0h0M263.4 167.0h0M254.9 157.1h0M235.1 131.6h0M234.2 124.9h0M254.6 147.8h0M250.9 170.9h0M247.5 126.7h0M265.5 151.6h0M230.9 124.3h0M276.6 167.5h0M235.0 158.5h0M278.3 129.6h0M253.0 167.9h0M270.3 136.2h0M259.7 146.5h0M234.0 133.7h0M236.8 142.0h0M275.2 154.2h0" stroke="#81323e" stroke-width="5.20"/>
<path d="M248.1 128.2h0M241.3 128.9h0M250.8 130.3h0M224.4 149.0h0M260.5 155.9h0M262.5 159.9h0M229.1 159.9h0M261.0 120.9h0M244.4 161.9h0M211.5 149.0h0M240.5 137.2h0M258.6 135.4h0M232.8 148.8h0M240.7 172.7h0M255.2 121.0h0M263.4 167.0h0M254.9 157.1h0M235.1 131.6h0M234.2 124.9h0M254.6 147.8h0M250.9 170.9h0M247.5 126.7h0M265.5 151.6h0M230.9 124.3h0M276.6 167.5h0M235.0 158.5h0M278.3 129.6h0M253.0 167.9h0M270.3 136.2h0M259.7 146.5h0M234.0 133.7h0M236.8 142.0h0M275.2 154.2h0" stroke="#d15264" stroke-width="3.80"/>
<path d="M229.1 129.6h0M214.2 128.9h0M235.1 155.2h0M212.9 151.6h0M224.9 127.0h0M261.8 148.4h0M246.5 125.3h0M244.0 160.8h0M228.2 155.8h0M235.2 154.5h0M232.9 131.3h0M228.0 167.3h0M221.2 139.5h0M216.9 152.8h0M234.6 138.2h0M240.2 159.9h0M284.3 149.0h0M288.3 129.9h0M260.7 136.6h0M249.0 154.5h0M225.9 175.6h0M242.7 134.9h0M236.0 136.5h0M231.8 140.0h0" stroke="#7f2f3d" stroke-width="5.20"/>
<path d="M229.1 129.6h0M214.2 128.9h0M235.1 155.2h0M212.9 151.6h0M224.9 127.0h0M261.8 148.4h0M246.5 125.3h0M244.0 160.8h0M228.2 155.8h0M235.2 154.5h0M232.9 131.3h0M228.0 167.3h0M221.2 139.5h0M216.9 152.8h0M234.6 138.2h0M240.2 159.9h0M284.3 149.0h0M288.3 129.9h0M260.7 136.6h0M249.0 154.5h0M225.9 175.6h0M242.7 134.9h0M236.0 136.5h0M231.8 140.0h0" stroke="#ce4c63" stroke-width="3.80"/>
<path d="M235.2 153.4h0M227.3 165.2h0M214.2 141.1h0M250.5 149.0h0M252.5 132.8h0M230.3 139.6h0M248.5 155.1h0M220.6 174.0h0M214.5 134.8h0M246.1 135.5h0M245.3 171.5h0M237.6 115.4h0M245.1 137.2h0" stroke="#7d2c3c" stroke-width="5.20"/>
<path d="M235.2 153.4h0M227.3 165.2h0M214.2 141.1h0M250.5 149.0h0M252.5 132.8h0M230.3 139.6h0M248.5 155.1h0M220.6 174.0h0M214.5 134.8h0M246.1 135.5h0M245.3 171.5h0M237.6 115.4h0M245.1 137.2h0" stroke="#ca4762" stroke-width="3.80"/>
<path d="M225.5 134.2h0M240.8 170.8h0M219.9 167.3h0M221.4 158.0h0M226.8 148.9h0M236.3 142.3h0M245.8 124.9h0" stroke="#7a283c" stroke-width="5.20"/>
<path d="M225.5 134.2h0M240.8 170.8h0M219.9 167.3h0M221.4 158.0h0M226.8 148.9h0M236.3 142.3h0M245.8 124.9h0" stroke="#c64261" stroke-width="3.80"/>
<path d="M216.8 151.7h0M230.0 156.1h0M216.2 139.2h0" stroke="#78253b" stroke-width="5.20"/>
<path d="M216.8 151.7h0M230.0 156.1h0M216.2 139.2h0" stroke="#c23d60" stroke-width="3.80"/>
<path d="M201.8 128.7h0" stroke="#721f3a" stroke-width="5.20"/>
<path d="M201.8 128.7h0" stroke="#b9335f" stroke-width="3.80"/>
<path d="M186.2 151.3h0" stroke="#6f1d3a" stroke-width="5.20"/>
<path d="M186.2 151.3h0" stroke="#b42f5e" stroke-width="3.80"/>
<path d="M206.3 129.7h0" stroke="#6d1a3a" stroke-width="5.20"/>
<path d="M206.3 129.7h0" stroke="#b02a5e" stroke-width="3.80"/>
<path d="M180.6 148.9h0M180.8 151.4h0M215.9 140.0h0M201.1 143.7h0M214.8 147.8h0M206.9 138.7h0" stroke="#6a173a" stroke-width="5.20"/>
<path d="M180.6 148.9h0M180.8 151.4h0M215.9 140.0h0M201.1 143.7h0M214.8 147.8h0M206.9 138.7h0" stroke="#ab265e" stroke-width="3.80"/>
<path d="M197.0 138.1h0M180.4 134.0h0M181.1 143.2h0M197.5 135.2h0M189.7 170.5h0M197.5 157.4h0M208.9 169.4h0M174.0 161.6h0M169.5 152.5h0M186.4 158.8h0M214.0 156.2h0M194.4 155.5h0M187.0 154.0h0" stroke="#66153a" stroke-width="5.20"/>
<path d="M197.0 138.1h0M180.4 134.0h0M181.1 143.2h0M197.5 135.2h0M189.7 170.5h0M197.5 157.4h0M208.9 169.4h0M174.0 161.6h0M169.5 152.5h0M186.4 158.8h0M214.0 156.2h0M194.4 155.5h0M187.0 154.0h0" stroke="#a6235e" stroke-width="3.80"/>
<path d="M181.1 159.1h0M179.8 140.2h0M168.6 156.5h0M206.1 144.2h0M177.2 163.1h0M201.6 137.2h0M198.5 145.1h0M181.2 157.5h0M180.6 141.8h0M176.8 127.5h0M184.4 151.5h0M172.2 163.1h0M191.9 133.9h0M195.2 156.7h0M176.8 126.9h0M162.8 149.6h0M211.0 139.2h0M173.3 145.8h0M180.8 166.4h0" stroke="#63133a" stroke-width="5.20"/>
<path d="M181.1 159.1h0M179.8 140.2h0M168.6 156.5h0M206.1 144.2h0M177.2 163.1h0M201.6 137.2h0M198.5 145.1h0M181.2 157.5h0M180.6 141.8h0M176.8 127.5h0M184.4 151.5h0M172.2 163.1h0M191.9 133.9h0M195.2 156.7h0M176.8 126.9h0M162.8 149.6h0M211.0 139.2h0M173.3 145.8h0M180.8 166.4h0" stroke="#a11f5e" stroke-width="3.80"/>
<path d="M179.2 138.6h0M210.9 165.9h0M208.1 160.1h0M198.7 157.6h0M185.4 153.7h0M190.0 155.5h0M209.4 148.8h0M218.0 151.0h0M196.8 120.2h0M190.8 167.5h0M176.0 130.8h0M184.7 163.5h0M183.1 142.4h0M206.7 146.6h0M176.0 133.1h0M182.3 172.0h0M184.1 130.4h0M209.0 138.1h0M170.1 162.2h0" stroke="#60103a" stroke-width="5.20"/>
<path d="M179.2 138.6h0M210.9 165.9h0M208.1 160.1h0M198.7 157.6h0M185.4 153.7h0M190.0 155.5h0M209.4 148.8h0M218.0 151.0h0M196.8 120.2h0M190.8 167.5h0M176.0 130.8h0M184.7 163.5h0M183.1 142.4h0M206.7 146.6h0M176.0 133.1h0M182.3 172.0h0M184.1 130.4h0M209.0 138.1h0M170.1 162.2h0" stroke="#9c1b5e" stroke-width="3.80"/>
<path d="M192.2 172.4h0M198.1 148.9h0M164.2 142.6h0M173.0 147.1h0M182.3 160.0h0M194.0 153.7h0M222.2 165.7h0M200.7 129.6h0M193.3 147.9h0M187.3 127.1h0M195.7 129.1h0M200.1 160.0h0M189.8 161.3h0M209.5 149.9h0M166.9 145.4h0M181.5 166.3h0M202.8 141.7h0M181.1 168.6h0" stroke="#5d0e3a" stroke-width="5.20"/>
<path d="M192.2 172.4h0M198.1 148.9h0M164.2 142.6h0M173.0 147.1h0M182.3 160.0h0M194.0 153.7h0M222.2 165.7h0M200.7 129.6h0M193.3 147.9h0M187.3 127.1h0M195.7 129.1h0M200.1 160.0h0M189.8 161.3h0M209.5 149.9h0M166.9 145.4h0M181.5 166.3h0M202.8 141.7h0M181.1 168.6h0" stroke="#97175e" stroke-width="3.80"/>
<path d="M188.0 161.6h0M191.1 149.1h0M214.8 165.8h0M168.2 140.9h0M182.2 170.4h0M192.7 158.9h0M178.0 151.5h0M186.4 130.7h0M199.4 168.0h0M222.7 141.4h0" stroke="#5a0b3a" stroke-width="5.20"/>
<path d="M188.0 161.6h0M191.1 149.1h0M214.8 165.8h0M168.2 140.9h0M182.2 170.4h0M192.7 158.9h0M178.0 151.5h0M186.4 130.7h0M199.4 168.0h0M222.7 141.4h0" stroke="#92135f" stroke-width="3.80"/>
<path d="M184.7 167.3h0M185.5 161.3h0M204.2 148.6h0M185.9 132.9h0M192.2 129.6h0M214.6 139.6h0M195.6 159.5h0" stroke="#56083b" stroke-width="5.20"/>
<path d="M184.7 167.3h0M185.5 161.3h0M204.2 148.6h0M185.9 132.9h0M192.2 129.6h0M214.6 139.6h0M195.6 159.5h0" stroke="#8c0e60" stroke-width="3.80"/>
<path d="M173.5 132.5h0" stroke="#53063b" stroke-width="5.20"/>
<path d="M173.5 132.5h0" stroke="#870a60" stroke-width="3.80"/>
<path d="M201.4 109.7h0" stroke="#66153a" stroke-width="5.20"/>
<path d="M201.4 109.7h0" stroke="#a6235e" stroke-width="3.80"/>
<path d="M192.0 112.3h0M201.3 108.0h0M189.7 103.2h0M223.0 125.7h0" stroke="#60103a" stroke-width="5.20"/>
<path d="M192.0 112.3h0M201.3 108.0h0M189.7 103.2h0M223.0 125.7h0" stroke="#9c1b5e" stroke-width="3.80"/>
<path d="M198.2 115.5h0M194.4 120.9h0M170.7 131.4h0M221.4 126.8h0M178.9 123.2h0M191.1 105.5h0M165.9 125.3h0" stroke="#5d0e3a" stroke-width="5.20"/>
<path d="M198.2 115.5h0M194.4 120.9h0M170.7 131.4h0M221.4 126.8h0M178.9 123.2h0M191.1 105.5h0M165.9 125.3h0" stroke="#97175e" stroke-width="3.80"/>
<path d="M212.1 124.7h0M197.4 130.2h0M190.3 124.4h0M182.3 115.0h0M201.4 131.5h0M188.7 100.6h0M194.2 103.8h0M199.0 124.4h0M184.2 118.8h0" stroke="#5a0b3a" stroke-width="5.20"/>
<path d="M212.1 124.7h0M197.4 130.2h0M190.3 124.4h0M182.3 115.0h0M201.4 131.5h0M188.7 100.6h0M194.2 103.8h0M199.0 124.4h0M184.2 118.8h0" stroke="#92135f" stroke-width="3.80"/>
<path d="M213.2 127.3h0M209.2 102.8h0M201.7 107.1h0M216.8 108.3h0M213.0 116.2h0M198.7 130.5h0" stroke="#56083b" stroke-width="5.20"/>
<path d="M213.2 127.3h0M209.2 102.8h0M201.7 107.1h0M216.8 108.3h0M213.0 116.2h0M198.7 130.5h0" stroke="#8c0e60" stroke-width="3.80"/>
<path d="M175.9 117.8h0M215.2 112.5h0M201.7 108.7h0M226.5 110.1h0" stroke="#53063b" stroke-width="5.20"/>
<path d="M175.9 117.8h0M215.2 112.5h0M201.7 108.7h0M226.5 110.1h0" stroke="#870a60" stroke-width="3.80"/>
<path d="M189.4 123.1h0M225.9 122.4h0M157.3 119.4h0M180.7 113.8h0M220.2 123.7h0" stroke="#4f043b" stroke-width="5.20"/>
<path d="M189.4 123.1h0M225.9 122.4h0M157.3 119.4h0M180.7 113.8h0M220.2 123.7h0" stroke="#810760" stroke-width="3.80"/>
<path d="M192.0 130.6h0" stroke="#4b013b" stroke-width="5.20"/>
<path d="M192.0 130.6h0" stroke="#7a0360" stroke-width="3.80"/>
<path d="M206.6 169.4h0M247.5 182.4h0" stroke="#78253b" stroke-width="5.20"/>
<path d="M206.6 169.4h0M247.5 182.4h0" stroke="#c23d60" stroke-width="3.80"/>
<path d="M244.1 185.7h0M225.4 171.1h0M198.6 164.7h0" stroke="#75223a" stroke-width="5.20"/>
<path d="M244.1 185.7h0M225.4 171.1h0M198.6 164.7h0" stroke="#bd385f" stroke-width="3.80"/>
<path d="M179.0 178.2h0M192.6 182.3h0M255.8 173.0h0M185.7 174.6h0M224.4 173.7h0" stroke="#721f3a" stroke-width="5.20"/>
<path d="M179.0 178.2h0M192.6 182.3h0M255.8 173.0h0M185.7 174.6h0M224.4 173.7h0" stroke="#b9335f" stroke-width="3.80"/>
<path d="M229.3 167.5h0M229.7 171.1h0M248.7 188.8h0M244.6 180.2h0M235.7 179.9h0M219.8 180.9h0M227.1 182.7h0M213.5 183.5h0M250.7 168.2h0M168.1 184.7h0" stroke="#6f1d3a" stroke-width="5.20"/>
<path d="M229.3 167.5h0M229.7 171.1h0M248.7 188.8h0M244.6 180.2h0M235.7 179.9h0M219.8 180.9h0M227.1 182.7h0M213.5 183.5h0M250.7 168.2h0M168.1 184.7h0" stroke="#b42f5e" stroke-width="3.80"/>
<path d="M200.9 173.5h0M222.8 168.6h0M242.6 173.4h0M217.6 186.4h0M176.5 171.6h0M230.5 172.2h0M271.7 178.0h0M208.9 168.4h0M222.8 189.1h0M250.7 182.1h0M205.8 167.6h0" stroke="#6d1a3a" stroke-width="5.20"/>
<path d="M200.9 173.5h0M222.8 168.6h0M242.6 173.4h0M217.6 186.4h0M176.5 171.6h0M230.5 172.2h0M271.7 178.0h0M208.9 168.4h0M222.8 189.1h0M250.7 182.1h0M205.8 167.6h0" stroke="#b02a5e" stroke-width="3.80"/>
<path d="M226.2 181.1h0M221.8 167.5h0M247.0 181.1h0M229.4 167.8h0M195.0 182.7h0M230.2 174.0h0M214.1 188.0h0" stroke="#6a173a" stroke-width="5.20"/>
<path d="M226.2 181.1h0M221.8 167.5h0M247.0 181.1h0M229.4 167.8h0M195.0 182.7h0M230.2 174.0h0M214.1 188.0h0" stroke="#ab265e" stroke-width="3.80"/>
<path d="M181.8 178.1h0M203.7 171.8h0M217.5 173.3h0M229.9 170.3h0M239.7 173.3h0M215.2 182.6h0M225.3 188.3h0" stroke="#66153a" stroke-width="5.20"/>
<path d="M181.8 178.1h0M203.7 171.8h0M217.5 173.3h0M229.9 170.3h0M239.7 173.3h0M215.2 182.6h0M225.3 188.3h0" stroke="#a6235e" stroke-width="3.80"/>
<path d="M184.5 184.7h0M214.2 165.1h0M229.0 164.5h0" stroke="#63133a" stroke-width="5.20"/>
<path d="M184.5 184.7h0M214.2 165.1h0M229.0 164.5h0" stroke="#a11f5e" stroke-width="3.80"/>
<path d="M243.0 195.9h0M243.8 194.4h0M244.3 190.2h0" stroke="#78253b" stroke-width="5.20"/>
<path d="M243.0 195.9h0M243.8 194.4h0M244.3 190.2h0" stroke="#c23d60" stroke-width="3.80"/>
<path d="M246.1 181.5h0M246.1 186.0h0M266.3 185.0h0M249.0 201.4h0M261.4 180.8h0" stroke="#75223a" stroke-width="5.20"/>
<path d="M246.1 181.5h0M246.1 186.0h0M266.3 185.0h0M249.0 201.4h0M261.4 180.8h0" stroke="#bd385f" stroke-width="3.80"/>
<path d="M265.2 192.3h0M252.7 193.5h0M239.2 186.0h0M270.9 191.3h0M255.5 187.1h0M243.0 185.4h0" stroke="#721f3a" stroke-width="5.20"/>
<path d="M265.2 192.3h0M252.7 193.5h0M239.2 186.0h0M270.9 191.3h0M255.5 187.1h0M243.0 185.4h0" stroke="#b9335f" stroke-width="3.80"/>
<path d="M266.2 195.7h0M259.9 190.5h0M255.5 203.4h0M244.1 194.3h0" stroke="#6f1d3a" stroke-width="5.20"/>
<path d="M266.2 195.7h0M259.9 190.5h0M255.5 203.4h0M244.1 194.3h0" stroke="#b42f5e" stroke-width="3.80"/>
<path d="M254.4 183.2h0M246.1 193.4h0M253.5 180.9h0" stroke="#6d1a3a" stroke-width="5.20"/>
<path d="M254.4 183.2h0M246.1 193.4h0M253.5 180.9h0" stroke="#b02a5e" stroke-width="3.80"/>
<path d="M257.1 197.8h0M252.5 182.8h0M242.4 190.6h0M247.6 190.8h0" stroke="#6a173a" stroke-width="5.20"/>
<path d="M257.1 197.8h0M252.5 182.8h0M242.4 190.6h0M247.6 190.8h0" stroke="#ab265e" stroke-width="3.80"/>
<path d="M231.6 220.9h0M219.5 219.1h0M192.4 218.1h0" stroke="#78253b" stroke-width="5.20"/>
<path d="M231.6 220.9h0M219.5 219.1h0M192.4 218.1h0" stroke="#c23d60" stroke-width="3.80"/>
<path d="M202.7 219.0h0M232.2 209.5h0M207.5 208.5h0M228.2 222.1h0M226.2 220.5h0M246.8 203.3h0M241.8 220.4h0M237.0 198.6h0M220.1 207.0h0M226.4 201.8h0" stroke="#75223a" stroke-width="5.20"/>
<path d="M202.7 219.0h0M232.2 209.5h0M207.5 208.5h0M228.2 222.1h0M226.2 220.5h0M246.8 203.3h0M241.8 220.4h0M237.0 198.6h0M220.1 207.0h0M226.4 201.8h0" stroke="#bd385f" stroke-width="3.80"/>
<path d="M258.2 214.5h0M232.3 221.2h0M232.0 219.5h0M214.9 214.4h0M236.1 219.2h0M232.9 226.1h0M201.5 219.4h0M208.4 216.3h0M225.1 223.9h0M249.9 216.5h0M213.3 207.7h0M227.7 214.4h0M231.8 207.8h0M192.9 219.1h0M236.0 209.1h0M193.2 216.2h0" stroke="#721f3a" stroke-width="5.20"/>
<path d="M258.2 214.5h0M232.3 221.2h0M232.0 219.5h0M214.9 214.4h0M236.1 219.2h0M232.9 226.1h0M201.5 219.4h0M208.4 216.3h0M225.1 223.9h0M249.9 216.5h0M213.3 207.7h0M227.7 214.4h0M231.8 207.8h0M192.9 219.1h0M236.0 209.1h0M193.2 216.2h0" stroke="#b9335f" stroke-width="3.80"/>
<path d="M212.4 220.9h0M221.1 225.3h0M232.0 213.0h0M222.0 199.9h0M202.1 223.6h0M227.1 205.6h0M243.9 211.0h0M234.4 205.3h0M201.0 209.0h0M225.7 221.3h0M218.5 207.7h0M195.6 221.4h0M203.6 208.9h0M244.7 214.2h0M251.2 201.8h0M242.9 217.8h0M219.4 222.3h0M228.7 206.9h0" stroke="#6f1d3a" stroke-width="5.20"/>
<path d="M212.4 220.9h0M221.1 225.3h0M232.0 213.0h0M222.0 199.9h0M202.1 223.6h0M227.1 205.6h0M243.9 211.0h0M234.4 205.3h0M201.0 209.0h0M225.7 221.3h0M218.5 207.7h0M195.6 221.4h0M203.6 208.9h0M244.7 214.2h0M251.2 201.8h0M242.9 217.8h0M219.4 222.3h0M228.7 206.9h0" stroke="#b42f5e" stroke-width="3.80"/>
<path d="M252.3 217.7h0M205.1 223.0h0M232.0 199.7h0M208.3 208.5h0M220.2 225.0h0M208.3 223.9h0M246.6 200.3h0M191.8 214.3h0M239.4 220.1h0M220.3 227.5h0M193.8 212.2h0M260.7 205.3h0M199.2 213.3h0M224.2 204.6h0M213.4 206.9h0M182.9 213.2h0M211.1 210.5h0M206.5 214.9h0M209.5 221.4h0M219.5 213.6h0M210.6 201.2h0M217.4 220.3h0M195.7 224.3h0" stroke="#6d1a3a" stroke-width="5.20"/>
<path d="M252.3 217.7h0M205.1 223.0h0M232.0 199.7h0M208.3 208.5h0M220.2 225.0h0M208.3 223.9h0M246.6 200.3h0M191.8 214.3h0M239.4 220.1h0M220.3 227.5h0M193.8 212.2h0M260.7 205.3h0M199.2 213.3h0M224.2 204.6h0M213.4 206.9h0M182.9 213.2h0M211.1 210.5h0M206.5 214.9h0M209.5 221.4h0M219.5 213.6h0M210.6 201.2h0M217.4 220.3h0M195.7 224.3h0" stroke="#b02a5e" stroke-width="3.80"/>
<path d="M238.2 203.3h0M208.6 227.0h0M237.9 209.2h0M222.9 205.8h0M234.1 208.9h0M218.2 219.9h0M253.9 214.8h0M232.0 216.5h0M205.2 212.1h0M252.0 217.5h0M231.4 214.6h0M224.5 215.8h0M243.1 211.2h0" stroke="#6a173a" stroke-width="5.20"/>
<path d="M238.2 203.3h0M208.6 227.0h0M237.9 209.2h0M222.9 205.8h0M234.1 208.9h0M218.2 219.9h0M253.9 214.8h0M232.0 216.5h0M205.2 212.1h0M252.0 217.5h0M231.4 214.6h0M224.5 215.8h0M243.1 211.2h0" stroke="#ab265e" stroke-width="3.80"/>
<path d="M203.9 212.5h0M189.9 215.8h0M214.9 205.3h0" stroke="#66153a" stroke-width="5.20"/>
<path d="M203.9 212.5h0M189.9 215.8h0M214.9 205.3h0" stroke="#a6235e" stroke-width="3.80"/>
<path d="M186.9 229.8h0" stroke="#63133a" stroke-width="5.20"/>
<path d="M186.9 229.8h0" stroke="#a11f5e" stroke-width="3.80"/>
<path d="M179.2 225.8h0" stroke="#60103a" stroke-width="5.20"/>
<path d="M179.2 225.8h0" stroke="#9c1b5e" stroke-width="3.80"/>
<path d="M183.1 228.0h0M182.6 228.7h0M187.1 229.5h0M185.9 227.6h0" stroke="#5d0e3a" stroke-width="5.20"/>
<path d="M183.1 228.0h0M182.6 228.7h0M187.1 229.5h0M185.9 227.6h0" stroke="#97175e" stroke-width="3.80"/>
<path d="M184.5 226.0h0" stroke="#5a0b3a" stroke-width="5.20"/>
<path d="M184.5 226.0h0" stroke="#92135f" stroke-width="3.80"/>
<path d="M183.3 230.3h0" stroke="#56083b" stroke-width="5.20"/>
<path d="M183.3 230.3h0" stroke="#8c0e60" stroke-width="3.80"/>
<path d="M131.5 86.9h0M167.4 85.8h0M174.0 93.0h0M216.2 69.3h0M203.8 93.3h0M158.4 117.9h0M161.0 123.2h0M134.3 160.7h0M163.0 151.8h0" stroke="#53063b" stroke-width="5.20"/>
<path d="M131.5 86.9h0M167.4 85.8h0M174.0 93.0h0M216.2 69.3h0M203.8 93.3h0M158.4 117.9h0M161.0 123.2h0M134.3 160.7h0M163.0 151.8h0" stroke="#870a60" stroke-width="3.80"/>
<path d="M102.8 45.2h0M180.7 49.9h0M182.0 62.7h0M125.1 83.2h0M150.7 81.5h0M155.0 97.6h0M193.1 82.6h0M212.3 76.2h0M218.3 76.2h0M226.2 74.0h0M199.5 93.3h0M229.5 92.2h0M120.8 102.9h0M144.5 107.2h0M158.9 104.4h0M188.8 110.4h0M194.2 127.5h0M212.3 114.7h0M214.5 119.0h0M231.6 116.8h0M203.8 128.6h0M141.0 150.0h0M164.0 204.2h0" stroke="#4f043b" stroke-width="5.20"/>
<path d="M102.8 45.2h0M180.7 49.9h0M182.0 62.7h0M125.1 83.2h0M150.7 81.5h0M155.0 97.6h0M193.1 82.6h0M212.3 76.2h0M218.3 76.2h0M226.2 74.0h0M199.5 93.3h0M229.5 92.2h0M120.8 102.9h0M144.5 107.2h0M158.9 104.4h0M188.8 110.4h0M194.2 127.5h0M212.3 114.7h0M214.5 119.0h0M231.6 116.8h0M203.8 128.6h0M141.0 150.0h0M164.0 204.2h0" stroke="#810760" stroke-width="3.80"/>
<path d="M97.3 52.6h0M171.7 39.4h0M164.2 46.2h0M165.9 53.3h0M151.0 55.4h0M152.0 69.3h0M140.7 73.0h0M134.3 80.9h0M141.8 78.3h0M145.4 90.1h0M157.8 85.8h0M150.3 97.1h0M178.0 102.9h0M182.4 94.4h0M188.8 90.1h0M212.3 67.6h0M253.0 77.2h0M193.0 101.8h0M122.9 122.2h0M145.4 114.7h0M180.3 129.6h0M182.4 131.8h0M180.3 110.4h0M184.5 112.5h0M195.0 110.0h0M206.0 106.0h0M224.1 101.8h0M225.2 117.9h0M139.3 150.9h0" stroke="#4b013b" stroke-width="5.20"/>
<path d="M97.3 52.6h0M171.7 39.4h0M164.2 46.2h0M165.9 53.3h0M151.0 55.4h0M152.0 69.3h0M140.7 73.0h0M134.3 80.9h0M141.8 78.3h0M145.4 90.1h0M157.8 85.8h0M150.3 97.1h0M178.0 102.9h0M182.4 94.4h0M188.8 90.1h0M212.3 67.6h0M253.0 77.2h0M193.0 101.8h0M122.9 122.2h0M145.4 114.7h0M180.3 129.6h0M182.4 131.8h0M180.3 110.4h0M184.5 112.5h0M195.0 110.0h0M206.0 106.0h0M224.1 101.8h0M225.2 117.9h0M139.3 150.9h0" stroke="#7a0360" stroke-width="3.80"/>
<path d="M143.9 24.2h0M167.0 32.3h0M188.2 47.9h0M204.9 52.0h0M151.0 60.8h0M125.7 77.2h0M134.5 89.4h0M154.6 85.8h0M174.9 76.2h0M166.0 93.0h0M170.0 93.0h0M200.6 70.2h0M210.2 87.9h0M197.4 99.7h0M154.6 114.7h0M164.2 104.4h0M162.0 127.5h0M156.7 133.9h0M170.6 127.5h0M173.8 128.6h0M197.0 114.0h0M199.0 119.0h0M207.0 112.5h0M218.8 99.7h0M220.9 110.4h0" stroke="#48003b" stroke-width="5.20"/>
<path d="M143.9 24.2h0M167.0 32.3h0M188.2 47.9h0M204.9 52.0h0M151.0 60.8h0M125.7 77.2h0M134.5 89.4h0M154.6 85.8h0M174.9 76.2h0M166.0 93.0h0M170.0 93.0h0M200.6 70.2h0M210.2 87.9h0M197.4 99.7h0M154.6 114.7h0M164.2 104.4h0M162.0 127.5h0M156.7 133.9h0M170.6 127.5h0M173.8 128.6h0M197.0 114.0h0M199.0 119.0h0M207.0 112.5h0M218.8 99.7h0M220.9 110.4h0" stroke="#750160" stroke-width="3.80"/>
<path d="M145.2 59.1h0M157.8 104.4h0M163.6 104.4h0M168.5 78.3h0M169.6 97.6h0M176.0 99.7h0M212.3 95.4h0M186.7 99.7h0M154.6 135.0h0M170.6 121.1h0M192.0 123.2h0M212.3 127.5h0M302.6 100.5h0" stroke="#45003b" stroke-width="5.20"/>
<path d="M145.2 59.1h0M157.8 104.4h0M163.6 104.4h0M168.5 78.3h0M169.6 97.6h0M176.0 99.7h0M212.3 95.4h0M186.7 99.7h0M154.6 135.0h0M170.6 121.1h0M192.0 123.2h0M212.3 127.5h0M302.6 100.5h0" stroke="#700060" stroke-width="3.80"/>
<path d="M267.5 99.7h0" stroke="#914a42" stroke-width="5.20"/>
<path d="M267.5 99.7h0" stroke="#ea786b" stroke-width="3.80"/>
<path d="M244.4 111.5h0M261.5 114.7h0" stroke="#8d3f41" stroke-width="5.20"/>
<path d="M244.4 111.5h0M261.5 114.7h0" stroke="#e4666a" stroke-width="3.80"/>
<path d="M236.3 104.0h0" stroke="#8a3c41" stroke-width="5.20"/>
<path d="M236.3 104.0h0" stroke="#e06269" stroke-width="3.80"/>
<path d="M199.5 85.8h0M265.8 124.3h0" stroke="#893a40" stroke-width="5.20"/>
<path d="M199.5 85.8h0M265.8 124.3h0" stroke="#dd5e68" stroke-width="3.80"/>
<path d="M242.3 120.0h0" stroke="#86373f" stroke-width="5.20"/>
<path d="M242.3 120.0h0" stroke="#d95a67" stroke-width="3.80"/>
<path d="M250.4 85.8h0M244.4 100.8h0M273.3 111.5h0M259.4 123.2h0" stroke="#84353e" stroke-width="5.20"/>
<path d="M250.4 85.8h0M244.4 100.8h0M273.3 111.5h0M259.4 123.2h0" stroke="#d55665" stroke-width="3.80"/>
<path d="M238.0 111.5h0" stroke="#81323e" stroke-width="5.20"/>
<path d="M238.0 111.5h0" stroke="#d15264" stroke-width="3.80"/>
<path d="M250.8 112.5h0M272.2 119.0h0" stroke="#7f2f3d" stroke-width="5.20"/>
<path d="M250.8 112.5h0M272.2 119.0h0" stroke="#ce4c63" stroke-width="3.80"/>
<path d="M264.7 113.6h0M248.7 121.0h0M277.6 121.0h0" stroke="#7d2c3c" stroke-width="5.20"/>
<path d="M264.7 113.6h0M248.7 121.0h0M277.6 121.0h0" stroke="#ca4762" stroke-width="3.80"/>
<path d="M165.6 156.8h0" stroke="#6a173a" stroke-width="5.20"/>
<path d="M165.6 156.8h0" stroke="#ab265e" stroke-width="3.80"/>
<path d="M156.1 200.9h0" stroke="#66153a" stroke-width="5.20"/>
<path d="M156.1 200.9h0" stroke="#a6235e" stroke-width="3.80"/>
<path d="M159.5 180.0h0" stroke="#63133a" stroke-width="5.20"/>
<path d="M159.5 180.0h0" stroke="#a11f5e" stroke-width="3.80"/>
<path d="M166.9 191.3h0M168.1 161.2h0" stroke="#60103a" stroke-width="5.20"/>
<path d="M166.9 191.3h0M168.1 161.2h0" stroke="#9c1b5e" stroke-width="3.80"/>
<path d="M151.0 161.9h0M163.1 176.4h0M166.5 187.5h0M156.9 175.3h0" stroke="#5d0e3a" stroke-width="5.20"/>
<path d="M151.0 161.9h0M163.1 176.4h0M166.5 187.5h0M156.9 175.3h0" stroke="#97175e" stroke-width="3.80"/>
<path d="M167.4 198.1h0M182.0 187.9h0M164.7 185.1h0" stroke="#5a0b3a" stroke-width="5.20"/>
<path d="M167.4 198.1h0M182.0 187.9h0M164.7 185.1h0" stroke="#92135f" stroke-width="3.80"/>
<path d="M181.8 188.3h0" stroke="#56083b" stroke-width="5.20"/>
<path d="M181.8 188.3h0" stroke="#8c0e60" stroke-width="3.80"/>
<path d="M156.6 194.0h0" stroke="#4f043b" stroke-width="5.20"/>
<path d="M156.6 194.0h0" stroke="#810760" stroke-width="3.80"/>
</g>
<g clip-path="url(#ca2)" fill="none" stroke-linecap="round">
<path d="M288.8 438.9h0" stroke="#9c7251" stroke-width="5.20"/>
<path d="M288.8 438.9h0" stroke="#fcb983" stroke-width="3.80"/>
<path d="M283.1 409.8h0M304.6 417.2h0M264.7 433.3h0M277.6 431.8h0M278.5 434.5h0M267.6 429.2h0M276.1 423.2h0" stroke="#9c6f4f" stroke-width="5.20"/>
<path d="M283.1 409.8h0M304.6 417.2h0M264.7 433.3h0M277.6 431.8h0M278.5 434.5h0M267.6 429.2h0M276.1 423.2h0" stroke="#fcb480" stroke-width="3.80"/>
<path d="M296.0 432.7h0M295.9 438.8h0M302.1 413.1h0M290.7 438.7h0M289.8 399.1h0M278.9 426.2h0M258.1 429.1h0M293.4 424.8h0M284.3 427.8h0M296.4 441.2h0" stroke="#9b6b4c" stroke-width="5.20"/>
<path d="M296.0 432.7h0M295.9 438.8h0M302.1 413.1h0M290.7 438.7h0M289.8 399.1h0M278.9 426.2h0M258.1 429.1h0M293.4 424.8h0M284.3 427.8h0M296.4 441.2h0" stroke="#fbae7c" stroke-width="3.80"/>
<path d="M269.9 402.0h0M270.6 397.4h0M263.5 431.4h0M290.0 414.1h0M285.4 412.0h0M273.6 436.6h0M301.4 410.7h0M278.5 395.9h0M281.4 408.8h0M306.1 409.2h0M277.6 410.8h0M275.7 439.5h0M281.5 425.5h0M287.4 439.4h0M281.8 424.2h0M283.4 420.1h0M310.7 418.1h0M275.5 441.7h0M280.4 424.2h0M300.4 433.2h0M278.4 419.8h0M282.4 414.1h0" stroke="#9b684b" stroke-width="5.20"/>
<path d="M269.9 402.0h0M270.6 397.4h0M263.5 431.4h0M290.0 414.1h0M285.4 412.0h0M273.6 436.6h0M301.4 410.7h0M278.5 395.9h0M281.4 408.8h0M306.1 409.2h0M277.6 410.8h0M275.7 439.5h0M281.5 425.5h0M287.4 439.4h0M281.8 424.2h0M283.4 420.1h0M310.7 418.1h0M275.5 441.7h0M280.4 424.2h0M300.4 433.2h0M278.4 419.8h0M282.4 414.1h0" stroke="#faa97a" stroke-width="3.80"/>
<path d="M269.3 425.1h0M279.8 434.0h0M311.5 423.5h0M313.5 426.0h0M300.9 404.7h0M281.9 400.0h0M273.1 426.0h0M270.6 406.2h0M307.2 404.9h0M265.4 420.6h0" stroke="#9a654a" stroke-width="5.20"/>
<path d="M269.3 425.1h0M279.8 434.0h0M311.5 423.5h0M313.5 426.0h0M300.9 404.7h0M281.9 400.0h0M273.1 426.0h0M270.6 406.2h0M307.2 404.9h0M265.4 420.6h0" stroke="#f9a478" stroke-width="3.80"/>
<path d="M265.3 428.9h0M286.6 405.6h0M289.8 403.6h0M291.7 414.0h0M275.9 437.1h0M284.1 429.7h0M271.0 429.4h0" stroke="#996248" stroke-width="5.20"/>
<path d="M265.3 428.9h0M286.6 405.6h0M289.8 403.6h0M291.7 414.0h0M275.9 437.1h0M284.1 429.7h0M271.0 429.4h0" stroke="#f89f75" stroke-width="3.80"/>
<path d="M298.8 414.5h0M276.7 403.5h0M287.5 427.1h0M283.0 409.9h0" stroke="#985f47" stroke-width="5.20"/>
<path d="M298.8 414.5h0M276.7 403.5h0M287.5 427.1h0M283.0 409.9h0" stroke="#f69a73" stroke-width="3.80"/>
<path d="M281.8 409.0h0" stroke="#975c46" stroke-width="5.20"/>
<path d="M281.8 409.0h0" stroke="#f59571" stroke-width="3.80"/>
<path d="M371.7 398.1h0" stroke="#9c825b" stroke-width="5.20"/>
<path d="M371.7 398.1h0" stroke="#fdd294" stroke-width="3.80"/>
<path d="M357.5 400.5h0M342.9 415.6h0M340.0 409.9h0M356.8 426.9h0M353.9 380.2h0" stroke="#9c7f59" stroke-width="5.20"/>
<path d="M357.5 400.5h0M342.9 415.6h0M340.0 409.9h0M356.8 426.9h0M353.9 380.2h0" stroke="#fdcd91" stroke-width="3.80"/>
<path d="M356.9 417.2h0M363.9 393.2h0M354.7 426.3h0M358.2 414.4h0M343.9 402.8h0M366.5 422.1h0" stroke="#9c7c57" stroke-width="5.20"/>
<path d="M356.9 417.2h0M363.9 393.2h0M354.7 426.3h0M358.2 414.4h0M343.9 402.8h0M366.5 422.1h0" stroke="#fdc88d" stroke-width="3.80"/>
<path d="M357.9 395.9h0M336.3 401.4h0M368.0 384.7h0M358.8 392.3h0M352.1 376.3h0M336.6 427.0h0M361.0 406.4h0M342.4 381.3h0M352.2 442.6h0M334.6 440.2h0M328.9 407.5h0M353.6 373.3h0M337.0 413.8h0M365.2 397.5h0M350.4 429.6h0M356.3 384.8h0M347.2 441.3h0M344.6 380.1h0M343.7 427.8h0" stroke="#9c7854" stroke-width="5.20"/>
<path d="M357.9 395.9h0M336.3 401.4h0M368.0 384.7h0M358.8 392.3h0M352.1 376.3h0M336.6 427.0h0M361.0 406.4h0M342.4 381.3h0M352.2 442.6h0M334.6 440.2h0M328.9 407.5h0M353.6 373.3h0M337.0 413.8h0M365.2 397.5h0M350.4 429.6h0M356.3 384.8h0M347.2 441.3h0M344.6 380.1h0M343.7 427.8h0" stroke="#fdc389" stroke-width="3.80"/>
<path d="M361.6 402.4h0M338.4 436.3h0M346.8 395.3h0M363.7 421.0h0M344.7 387.0h0M367.2 437.7h0M330.5 418.3h0M359.8 446.5h0M333.1 448.8h0M350.2 381.2h0M367.0 422.5h0M361.0 409.4h0M352.5 400.0h0M323.7 438.7h0M331.8 421.5h0M374.9 425.0h0M329.0 390.1h0M359.8 424.3h0M354.4 391.7h0M328.2 422.8h0M335.1 415.3h0M335.6 454.3h0M341.3 430.9h0" stroke="#9c7553" stroke-width="5.20"/>
<path d="M361.6 402.4h0M338.4 436.3h0M346.8 395.3h0M363.7 421.0h0M344.7 387.0h0M367.2 437.7h0M330.5 418.3h0M359.8 446.5h0M333.1 448.8h0M350.2 381.2h0M367.0 422.5h0M361.0 409.4h0M352.5 400.0h0M323.7 438.7h0M331.8 421.5h0M374.9 425.0h0M329.0 390.1h0M359.8 424.3h0M354.4 391.7h0M328.2 422.8h0M335.1 415.3h0M335.6 454.3h0M341.3 430.9h0" stroke="#fcbe86" stroke-width="3.80"/>
<path d="M371.8 411.6h0M330.0 413.9h0M362.3 440.5h0M363.8 421.6h0M361.4 411.4h0M349.2 390.9h0M351.8 450.6h0M360.7 381.5h0M346.7 436.2h0M331.9 426.1h0M373.7 410.3h0M348.9 382.3h0M334.7 389.6h0M338.7 394.9h0M365.7 408.5h0M338.0 408.5h0" stroke="#9c7251" stroke-width="5.20"/>
<path d="M371.8 411.6h0M330.0 413.9h0M362.3 440.5h0M363.8 421.6h0M361.4 411.4h0M349.2 390.9h0M351.8 450.6h0M360.7 381.5h0M346.7 436.2h0M331.9 426.1h0M373.7 410.3h0M348.9 382.3h0M334.7 389.6h0M338.7 394.9h0M365.7 408.5h0M338.0 408.5h0" stroke="#fcb983" stroke-width="3.80"/>
<path d="M353.9 438.8h0M374.1 418.2h0M361.1 389.6h0" stroke="#9c6f4f" stroke-width="5.20"/>
<path d="M353.9 438.8h0M374.1 418.2h0M361.1 389.6h0" stroke="#fcb480" stroke-width="3.80"/>
<path d="M358.1 416.2h0M340.5 429.6h0M330.1 421.9h0" stroke="#9b6b4c" stroke-width="5.20"/>
<path d="M358.1 416.2h0M340.5 429.6h0M330.1 421.9h0" stroke="#fbae7c" stroke-width="3.80"/>
<path d="M371.6 386.0h0" stroke="#9a654a" stroke-width="5.20"/>
<path d="M371.6 386.0h0" stroke="#f9a478" stroke-width="3.80"/>
<path d="M345.4 432.6h0M344.2 408.2h0" stroke="#9c825b" stroke-width="5.20"/>
<path d="M345.4 432.6h0M344.2 408.2h0" stroke="#fdd294" stroke-width="3.80"/>
<path d="M344.5 427.4h0M346.7 408.6h0" stroke="#9c7f59" stroke-width="5.20"/>
<path d="M344.5 427.4h0M346.7 408.6h0" stroke="#fdcd91" stroke-width="3.80"/>
<path d="M357.5 423.5h0M354.8 390.0h0M363.0 429.3h0M356.8 398.6h0M349.7 402.7h0" stroke="#9c7c57" stroke-width="5.20"/>
<path d="M357.5 423.5h0M354.8 390.0h0M363.0 429.3h0M356.8 398.6h0M349.7 402.7h0" stroke="#fdc88d" stroke-width="3.80"/>
<path d="M349.4 398.7h0M354.1 421.4h0M347.3 408.2h0M355.6 420.0h0M349.2 393.0h0M359.0 427.7h0M345.1 420.5h0M343.9 401.7h0M352.8 401.3h0M351.3 406.5h0M354.4 434.0h0M369.6 419.8h0" stroke="#9c7854" stroke-width="5.20"/>
<path d="M349.4 398.7h0M354.1 421.4h0M347.3 408.2h0M355.6 420.0h0M349.2 393.0h0M359.0 427.7h0M345.1 420.5h0M343.9 401.7h0M352.8 401.3h0M351.3 406.5h0M354.4 434.0h0M369.6 419.8h0" stroke="#fdc389" stroke-width="3.80"/>
<path d="M360.5 410.3h0M342.6 400.1h0M342.8 411.9h0M353.5 423.8h0M337.7 408.0h0M347.6 406.6h0M343.6 436.2h0M341.9 418.6h0M357.1 443.6h0M340.3 435.8h0M364.7 422.9h0M358.8 427.5h0M342.2 422.8h0" stroke="#9c7553" stroke-width="5.20"/>
<path d="M360.5 410.3h0M342.6 400.1h0M342.8 411.9h0M353.5 423.8h0M337.7 408.0h0M347.6 406.6h0M343.6 436.2h0M341.9 418.6h0M357.1 443.6h0M340.3 435.8h0M364.7 422.9h0M358.8 427.5h0M342.2 422.8h0" stroke="#fcbe86" stroke-width="3.80"/>
<path d="M339.8 415.1h0M350.4 442.4h0M358.9 391.6h0" stroke="#9c7251" stroke-width="5.20"/>
<path d="M339.8 415.1h0M350.4 442.4h0M358.9 391.6h0" stroke="#fcb983" stroke-width="3.80"/>
<path d="M351.2 404.6h0" stroke="#9c6f4f" stroke-width="5.20"/>
<path d="M351.2 404.6h0" stroke="#fcb480" stroke-width="3.80"/>
<path d="M358.4 401.3h0" stroke="#9b6b4c" stroke-width="5.20"/>
<path d="M358.4 401.3h0" stroke="#fbae7c" stroke-width="3.80"/>
<path d="M420.8 418.5h0M403.0 438.1h0M415.4 441.8h0M401.3 407.3h0" stroke="#9c8961" stroke-width="5.20"/>
<path d="M420.8 418.5h0M403.0 438.1h0M415.4 441.8h0M401.3 407.3h0" stroke="#fdde9d" stroke-width="3.80"/>
<path d="M411.0 455.6h0M419.5 453.7h0M440.7 395.1h0M442.1 425.6h0M428.0 392.7h0M436.2 413.3h0M400.9 404.3h0M397.9 434.8h0M405.6 379.7h0M419.5 465.2h0" stroke="#9c8760" stroke-width="5.20"/>
<path d="M411.0 455.6h0M419.5 453.7h0M440.7 395.1h0M442.1 425.6h0M428.0 392.7h0M436.2 413.3h0M400.9 404.3h0M397.9 434.8h0M405.6 379.7h0M419.5 465.2h0" stroke="#fddb9b" stroke-width="3.80"/>
<path d="M439.3 405.6h0M422.9 410.3h0M429.2 373.2h0M420.7 456.4h0M395.8 423.5h0M414.2 364.3h0M435.9 433.4h0M436.2 415.9h0M416.8 365.4h0M439.7 405.5h0M413.4 370.7h0M415.8 450.1h0M428.9 442.1h0" stroke="#9c855e" stroke-width="5.20"/>
<path d="M439.3 405.6h0M422.9 410.3h0M429.2 373.2h0M420.7 456.4h0M395.8 423.5h0M414.2 364.3h0M435.9 433.4h0M436.2 415.9h0M416.8 365.4h0M439.7 405.5h0M413.4 370.7h0M415.8 450.1h0M428.9 442.1h0" stroke="#fdd798" stroke-width="3.80"/>
<path d="M463.5 427.2h0M429.3 365.5h0M438.9 399.3h0M453.7 416.9h0M409.7 458.9h0M417.1 400.9h0M438.5 420.8h0M428.5 447.6h0M401.1 383.1h0M411.2 416.0h0M445.7 433.1h0M430.0 421.3h0M420.5 435.3h0M405.8 381.6h0M419.2 373.0h0M406.9 445.3h0M426.9 434.5h0M414.3 432.7h0M434.7 412.2h0M398.3 428.0h0M426.4 379.4h0M427.2 404.1h0M392.8 445.3h0M429.8 428.7h0" stroke="#9c825b" stroke-width="5.20"/>
<path d="M463.5 427.2h0M429.3 365.5h0M438.9 399.3h0M453.7 416.9h0M409.7 458.9h0M417.1 400.9h0M438.5 420.8h0M428.5 447.6h0M401.1 383.1h0M411.2 416.0h0M445.7 433.1h0M430.0 421.3h0M420.5 435.3h0M405.8 381.6h0M419.2 373.0h0M406.9 445.3h0M426.9 434.5h0M414.3 432.7h0M434.7 412.2h0M398.3 428.0h0M426.4 379.4h0M427.2 404.1h0M392.8 445.3h0M429.8 428.7h0" stroke="#fdd294" stroke-width="3.80"/>
<path d="M435.3 375.6h0M408.4 432.4h0M440.4 419.2h0M442.9 412.0h0M425.2 434.4h0M438.6 422.4h0M416.6 412.8h0M380.5 412.7h0M392.9 391.2h0M438.9 384.8h0M443.1 396.3h0M405.2 439.7h0M402.3 375.9h0M403.6 388.9h0M407.0 443.3h0M393.6 411.6h0M398.2 434.8h0M448.4 414.8h0M422.7 393.9h0" stroke="#9c7f59" stroke-width="5.20"/>
<path d="M435.3 375.6h0M408.4 432.4h0M440.4 419.2h0M442.9 412.0h0M425.2 434.4h0M438.6 422.4h0M416.6 412.8h0M380.5 412.7h0M392.9 391.2h0M438.9 384.8h0M443.1 396.3h0M405.2 439.7h0M402.3 375.9h0M403.6 388.9h0M407.0 443.3h0M393.6 411.6h0M398.2 434.8h0M448.4 414.8h0M422.7 393.9h0" stroke="#fdcd91" stroke-width="3.80"/>
<path d="M415.0 372.2h0M425.3 429.7h0M452.4 407.6h0M426.3 374.0h0M406.3 405.2h0M413.3 442.4h0M439.2 440.5h0M429.1 439.6h0M427.9 412.5h0M380.9 406.4h0M409.5 424.9h0M431.1 398.7h0M409.0 383.9h0M446.3 416.1h0" stroke="#9c7c57" stroke-width="5.20"/>
<path d="M415.0 372.2h0M425.3 429.7h0M452.4 407.6h0M426.3 374.0h0M406.3 405.2h0M413.3 442.4h0M439.2 440.5h0M429.1 439.6h0M427.9 412.5h0M380.9 406.4h0M409.5 424.9h0M431.1 398.7h0M409.0 383.9h0M446.3 416.1h0" stroke="#fdc88d" stroke-width="3.80"/>
<path d="M396.0 432.6h0M403.9 383.1h0M419.8 446.8h0M433.3 440.3h0" stroke="#9c7854" stroke-width="5.20"/>
<path d="M396.0 432.6h0M403.9 383.1h0M419.8 446.8h0M433.3 440.3h0" stroke="#fdc389" stroke-width="3.80"/>
<path d="M430.7 428.2h0M401.4 403.9h0M431.0 379.4h0M389.4 390.7h0" stroke="#9c7553" stroke-width="5.20"/>
<path d="M430.7 428.2h0M401.4 403.9h0M431.0 379.4h0M389.4 390.7h0" stroke="#fcbe86" stroke-width="3.80"/>
<path d="M437.3 430.8h0" stroke="#9c7251" stroke-width="5.20"/>
<path d="M437.3 430.8h0" stroke="#fcb983" stroke-width="3.80"/>
<path d="M436.3 406.2h0M414.4 424.0h0M424.3 428.1h0M443.9 399.1h0M438.8 420.0h0" stroke="#9c8961" stroke-width="5.20"/>
<path d="M436.3 406.2h0M414.4 424.0h0M424.3 428.1h0M443.9 399.1h0M438.8 420.0h0" stroke="#fdde9d" stroke-width="3.80"/>
<path d="M426.3 430.7h0M422.9 413.4h0M426.4 405.8h0M418.3 395.8h0M430.4 388.7h0M412.7 406.9h0M411.4 404.4h0M441.8 423.5h0M425.3 422.3h0M423.4 415.1h0M431.7 434.3h0M424.2 396.9h0" stroke="#9c8760" stroke-width="5.20"/>
<path d="M426.3 430.7h0M422.9 413.4h0M426.4 405.8h0M418.3 395.8h0M430.4 388.7h0M412.7 406.9h0M411.4 404.4h0M441.8 423.5h0M425.3 422.3h0M423.4 415.1h0M431.7 434.3h0M424.2 396.9h0" stroke="#fddb9b" stroke-width="3.80"/>
<path d="M444.9 411.7h0M426.3 403.4h0M418.6 404.8h0M439.8 411.7h0M415.2 418.4h0M424.7 412.7h0M418.7 421.7h0M425.2 401.6h0M414.8 429.7h0M424.6 406.7h0M432.1 432.8h0M429.3 391.4h0M428.6 416.0h0M438.7 427.6h0M443.3 389.2h0M423.5 394.1h0M417.2 409.4h0M430.2 411.9h0M428.5 428.5h0M426.8 434.1h0" stroke="#9c855e" stroke-width="5.20"/>
<path d="M444.9 411.7h0M426.3 403.4h0M418.6 404.8h0M439.8 411.7h0M415.2 418.4h0M424.7 412.7h0M418.7 421.7h0M425.2 401.6h0M414.8 429.7h0M424.6 406.7h0M432.1 432.8h0M429.3 391.4h0M428.6 416.0h0M438.7 427.6h0M443.3 389.2h0M423.5 394.1h0M417.2 409.4h0M430.2 411.9h0M428.5 428.5h0M426.8 434.1h0" stroke="#fdd798" stroke-width="3.80"/>
<path d="M417.9 398.6h0M426.6 420.7h0M421.5 399.2h0M449.5 405.1h0M437.6 420.5h0M423.5 410.8h0M438.1 416.6h0M426.8 412.6h0M447.6 411.9h0M428.1 421.8h0M421.4 403.3h0M418.6 403.5h0M442.2 403.9h0M420.3 386.7h0M406.3 404.7h0M415.5 383.7h0M441.8 421.1h0M442.7 419.8h0M437.3 399.7h0" stroke="#9c825b" stroke-width="5.20"/>
<path d="M417.9 398.6h0M426.6 420.7h0M421.5 399.2h0M449.5 405.1h0M437.6 420.5h0M423.5 410.8h0M438.1 416.6h0M426.8 412.6h0M447.6 411.9h0M428.1 421.8h0M421.4 403.3h0M418.6 403.5h0M442.2 403.9h0M420.3 386.7h0M406.3 404.7h0M415.5 383.7h0M441.8 421.1h0M442.7 419.8h0M437.3 399.7h0" stroke="#fdd294" stroke-width="3.80"/>
<path d="M421.7 410.7h0M411.6 418.6h0M421.4 400.7h0M415.7 404.3h0M432.9 403.6h0M423.3 415.8h0M431.3 395.3h0M435.1 411.0h0M419.7 412.4h0M433.1 392.8h0M431.9 399.5h0M425.6 433.2h0M414.5 421.0h0M438.8 407.4h0M424.8 392.1h0" stroke="#9c7f59" stroke-width="5.20"/>
<path d="M421.7 410.7h0M411.6 418.6h0M421.4 400.7h0M415.7 404.3h0M432.9 403.6h0M423.3 415.8h0M431.3 395.3h0M435.1 411.0h0M419.7 412.4h0M433.1 392.8h0M431.9 399.5h0M425.6 433.2h0M414.5 421.0h0M438.8 407.4h0M424.8 392.1h0" stroke="#fdcd91" stroke-width="3.80"/>
<path d="M424.0 405.0h0M435.1 396.9h0" stroke="#9c7854" stroke-width="5.20"/>
<path d="M424.0 405.0h0M435.1 396.9h0" stroke="#fdc389" stroke-width="3.80"/>
<path d="M495.1 439.9h0" stroke="#9c8961" stroke-width="5.20"/>
<path d="M495.1 439.9h0" stroke="#fdde9d" stroke-width="3.80"/>
<path d="M464.5 437.8h0" stroke="#9c8760" stroke-width="5.20"/>
<path d="M464.5 437.8h0" stroke="#fddb9b" stroke-width="3.80"/>
<path d="M494.7 402.4h0M499.4 448.0h0M458.8 414.9h0M483.0 415.1h0M474.0 414.8h0M456.6 409.1h0M485.7 409.1h0" stroke="#9c855e" stroke-width="5.20"/>
<path d="M494.7 402.4h0M499.4 448.0h0M458.8 414.9h0M483.0 415.1h0M474.0 414.8h0M456.6 409.1h0M485.7 409.1h0" stroke="#fdd798" stroke-width="3.80"/>
<path d="M503.1 413.2h0M484.9 439.7h0M503.4 403.6h0M460.9 413.5h0" stroke="#9c825b" stroke-width="5.20"/>
<path d="M503.1 413.2h0M484.9 439.7h0M503.4 403.6h0M460.9 413.5h0" stroke="#fdd294" stroke-width="3.80"/>
<path d="M484.4 402.7h0M481.0 452.9h0M463.7 414.3h0M475.9 385.7h0" stroke="#9c7f59" stroke-width="5.20"/>
<path d="M484.4 402.7h0M481.0 452.9h0M463.7 414.3h0M475.9 385.7h0" stroke="#fdcd91" stroke-width="3.80"/>
<path d="M459.1 445.2h0M458.8 402.2h0" stroke="#9c7c57" stroke-width="5.20"/>
<path d="M459.1 445.2h0M458.8 402.2h0" stroke="#fdc88d" stroke-width="3.80"/>
<path d="M454.4 434.0h0" stroke="#9c7854" stroke-width="5.20"/>
<path d="M454.4 434.0h0" stroke="#fdc389" stroke-width="3.80"/>
<path d="M284.0 378.0h0M422.0 371.0h0" stroke="#9c7c57" stroke-width="5.20"/>
<path d="M284.0 378.0h0M422.0 371.0h0" stroke="#fdc88d" stroke-width="3.80"/>
<path d="M403.2 365.4h0" stroke="#9c7854" stroke-width="5.20"/>
<path d="M403.2 365.4h0" stroke="#fdc389" stroke-width="3.80"/>
<path d="M322.7 366.8h0M361.9 369.0h0" stroke="#9c7553" stroke-width="5.20"/>
<path d="M322.7 366.8h0M361.9 369.0h0" stroke="#fcbe86" stroke-width="3.80"/>
<path d="M267.0 378.0h0M497.0 400.0h0" stroke="#9c7251" stroke-width="5.20"/>
<path d="M267.0 378.0h0M497.0 400.0h0" stroke="#fcb983" stroke-width="3.80"/>
<path d="M490.0 382.0h0" stroke="#9c6f4f" stroke-width="5.20"/>
<path d="M490.0 382.0h0" stroke="#fcb480" stroke-width="3.80"/>
<path d="M436.3 493.1h0M391.4 467.9h0M362.3 457.6h0M382.5 468.2h0M431.4 466.0h0M329.4 444.1h0" stroke="#945544" stroke-width="5.20"/>
<path d="M436.3 493.1h0M391.4 467.9h0M362.3 457.6h0M382.5 468.2h0M431.4 466.0h0M329.4 444.1h0" stroke="#f08a6e" stroke-width="3.80"/>
<path d="M437.6 488.3h0M316.8 465.0h0M481.9 479.1h0M391.4 464.4h0M339.9 460.6h0" stroke="#935143" stroke-width="5.20"/>
<path d="M437.6 488.3h0M316.8 465.0h0M481.9 479.1h0M391.4 464.4h0M339.9 460.6h0" stroke="#ee846d" stroke-width="3.80"/>
<path d="M431.4 459.2h0M344.3 463.1h0M346.6 475.3h0M391.6 486.4h0M307.0 488.4h0M293.7 491.6h0M420.4 502.9h0M293.0 485.7h0M355.5 492.8h0M274.8 471.2h0M234.7 476.3h0M418.3 474.3h0" stroke="#914e42" stroke-width="5.20"/>
<path d="M431.4 459.2h0M344.3 463.1h0M346.6 475.3h0M391.6 486.4h0M307.0 488.4h0M293.7 491.6h0M420.4 502.9h0M293.0 485.7h0M355.5 492.8h0M274.8 471.2h0M234.7 476.3h0M418.3 474.3h0" stroke="#eb7e6c" stroke-width="3.80"/>
<path d="M297.5 470.0h0M354.9 459.5h0M459.2 463.3h0M360.0 453.0h0M457.3 468.3h0M335.8 467.1h0M405.0 497.5h0M279.7 494.3h0M436.3 488.4h0M417.6 456.6h0M295.7 467.5h0" stroke="#914a42" stroke-width="5.20"/>
<path d="M297.5 470.0h0M354.9 459.5h0M459.2 463.3h0M360.0 453.0h0M457.3 468.3h0M335.8 467.1h0M405.0 497.5h0M279.7 494.3h0M436.3 488.4h0M417.6 456.6h0M295.7 467.5h0" stroke="#ea786b" stroke-width="3.80"/>
<path d="M364.4 474.5h0M372.5 471.4h0M258.7 463.6h0M363.5 465.2h0M363.0 454.3h0M314.4 494.3h0M386.9 453.2h0M352.2 457.7h0M445.1 452.7h0M305.0 487.7h0M457.8 478.0h0M442.1 479.0h0M428.7 494.5h0M419.2 509.1h0M347.9 467.4h0" stroke="#8f4642" stroke-width="5.20"/>
<path d="M364.4 474.5h0M372.5 471.4h0M258.7 463.6h0M363.5 465.2h0M363.0 454.3h0M314.4 494.3h0M386.9 453.2h0M352.2 457.7h0M445.1 452.7h0M305.0 487.7h0M457.8 478.0h0M442.1 479.0h0M428.7 494.5h0M419.2 509.1h0M347.9 467.4h0" stroke="#e8726b" stroke-width="3.80"/>
<path d="M362.7 487.1h0M303.7 452.8h0M442.8 485.5h0M401.1 486.5h0M408.4 500.2h0M327.0 457.3h0M322.6 481.5h0M400.4 459.0h0M301.4 457.7h0M438.4 466.3h0M398.8 478.2h0M441.8 474.8h0M433.7 473.5h0M349.6 451.1h0M367.9 445.4h0M442.7 443.9h0" stroke="#8e4241" stroke-width="5.20"/>
<path d="M362.7 487.1h0M303.7 452.8h0M442.8 485.5h0M401.1 486.5h0M408.4 500.2h0M327.0 457.3h0M322.6 481.5h0M400.4 459.0h0M301.4 457.7h0M438.4 466.3h0M398.8 478.2h0M441.8 474.8h0M433.7 473.5h0M349.6 451.1h0M367.9 445.4h0M442.7 443.9h0" stroke="#e66c6a" stroke-width="3.80"/>
<path d="M357.9 487.1h0M322.3 474.2h0M341.5 481.4h0M412.9 477.3h0M440.3 469.9h0" stroke="#8d3f41" stroke-width="5.20"/>
<path d="M357.9 487.1h0M322.3 474.2h0M341.5 481.4h0M412.9 477.3h0M440.3 469.9h0" stroke="#e4666a" stroke-width="3.80"/>
<path d="M461.4 474.7h0M326.3 477.8h0M379.6 448.9h0M375.4 470.2h0" stroke="#8a3c41" stroke-width="5.20"/>
<path d="M461.4 474.7h0M326.3 477.8h0M379.6 448.9h0M375.4 470.2h0" stroke="#e06269" stroke-width="3.80"/>
<path d="M392.8 490.4h0" stroke="#893a40" stroke-width="5.20"/>
<path d="M392.8 490.4h0" stroke="#dd5e68" stroke-width="3.80"/>
<path d="M386.7 464.7h0" stroke="#935143" stroke-width="5.20"/>
<path d="M386.7 464.7h0" stroke="#ee846d" stroke-width="3.80"/>
<path d="M431.8 458.2h0M431.1 454.1h0M416.5 461.2h0M396.4 450.9h0M413.8 463.6h0M419.3 458.7h0" stroke="#914e42" stroke-width="5.20"/>
<path d="M431.8 458.2h0M431.1 454.1h0M416.5 461.2h0M396.4 450.9h0M413.8 463.6h0M419.3 458.7h0" stroke="#eb7e6c" stroke-width="3.80"/>
<path d="M406.5 474.5h0M392.4 459.8h0M397.1 469.0h0M424.8 451.5h0M438.5 453.0h0M392.7 466.1h0M387.6 464.5h0M397.2 466.3h0M419.0 471.9h0M431.3 453.1h0M429.5 449.8h0M431.3 474.5h0" stroke="#914a42" stroke-width="5.20"/>
<path d="M406.5 474.5h0M392.4 459.8h0M397.1 469.0h0M424.8 451.5h0M438.5 453.0h0M392.7 466.1h0M387.6 464.5h0M397.2 466.3h0M419.0 471.9h0M431.3 453.1h0M429.5 449.8h0M431.3 474.5h0" stroke="#ea786b" stroke-width="3.80"/>
<path d="M419.5 459.7h0M414.5 472.6h0M442.5 460.0h0M400.5 452.6h0M432.6 468.8h0M410.1 473.9h0" stroke="#8f4642" stroke-width="5.20"/>
<path d="M419.5 459.7h0M414.5 472.6h0M442.5 460.0h0M400.5 452.6h0M432.6 468.8h0M410.1 473.9h0" stroke="#e8726b" stroke-width="3.80"/>
<path d="M419.9 468.5h0M441.8 460.7h0" stroke="#8e4241" stroke-width="5.20"/>
<path d="M419.9 468.5h0M441.8 460.7h0" stroke="#e66c6a" stroke-width="3.80"/>
<path d="M426.0 461.1h0M435.4 451.8h0" stroke="#8d3f41" stroke-width="5.20"/>
<path d="M426.0 461.1h0M435.4 451.8h0" stroke="#e4666a" stroke-width="3.80"/>
<path d="M123.2 388.8h0" stroke="#9b6b4c" stroke-width="5.20"/>
<path d="M123.2 388.8h0" stroke="#fbae7c" stroke-width="3.80"/>
<path d="M116.4 372.7h0M130.1 395.6h0M122.5 386.3h0M147.0 417.7h0" stroke="#9a654a" stroke-width="5.20"/>
<path d="M116.4 372.7h0M130.1 395.6h0M122.5 386.3h0M147.0 417.7h0" stroke="#f9a478" stroke-width="3.80"/>
<path d="M139.1 404.2h0M143.8 410.5h0M116.2 369.1h0" stroke="#996248" stroke-width="5.20"/>
<path d="M139.1 404.2h0M143.8 410.5h0M116.2 369.1h0" stroke="#f89f75" stroke-width="3.80"/>
<path d="M146.2 407.2h0M111.6 363.4h0M121.3 365.3h0M144.9 414.4h0M119.5 376.0h0M145.8 414.5h0M141.7 422.3h0" stroke="#985f47" stroke-width="5.20"/>
<path d="M146.2 407.2h0M111.6 363.4h0M121.3 365.3h0M144.9 414.4h0M119.5 376.0h0M145.8 414.5h0M141.7 422.3h0" stroke="#f69a73" stroke-width="3.80"/>
<path d="M108.1 351.9h0M143.8 408.8h0M119.3 378.7h0M150.0 422.1h0M123.6 385.6h0M115.2 367.3h0M116.1 363.0h0M136.4 413.7h0" stroke="#975c46" stroke-width="5.20"/>
<path d="M108.1 351.9h0M143.8 408.8h0M119.3 378.7h0M150.0 422.1h0M123.6 385.6h0M115.2 367.3h0M116.1 363.0h0M136.4 413.7h0" stroke="#f59571" stroke-width="3.80"/>
<path d="M150.8 428.8h0M154.7 424.6h0M157.7 439.3h0M118.2 377.1h0M149.8 416.2h0M135.0 399.2h0" stroke="#965845" stroke-width="5.20"/>
<path d="M150.8 428.8h0M154.7 424.6h0M157.7 439.3h0M118.2 377.1h0M149.8 416.2h0M135.0 399.2h0" stroke="#f28f70" stroke-width="3.80"/>
<path d="M135.2 402.2h0M152.7 433.1h0M108.0 350.2h0M139.1 401.0h0M117.4 360.5h0" stroke="#945544" stroke-width="5.20"/>
<path d="M135.2 402.2h0M152.7 433.1h0M108.0 350.2h0M139.1 401.0h0M117.4 360.5h0" stroke="#f08a6e" stroke-width="3.80"/>
<path d="M195.2 381.3h0M184.5 375.9h0M207.0 404.8h0" stroke="#996248" stroke-width="5.20"/>
<path d="M195.2 381.3h0M184.5 375.9h0M207.0 404.8h0" stroke="#f89f75" stroke-width="3.80"/>
<path d="M186.7 370.6h0M198.4 372.3h0" stroke="#985f47" stroke-width="5.20"/>
<path d="M186.7 370.6h0M198.4 372.3h0" stroke="#f69a73" stroke-width="3.80"/>
<path d="M181.3 381.3h0M200.6 387.7h0" stroke="#965845" stroke-width="5.20"/>
<path d="M181.3 381.3h0M200.6 387.7h0" stroke="#f28f70" stroke-width="3.80"/>
<path d="M199.5 394.1h0" stroke="#945544" stroke-width="5.20"/>
<path d="M199.5 394.1h0" stroke="#f08a6e" stroke-width="3.80"/>
<path d="M272.1 491.7h0M275.4 447.6h0M275.3 472.7h0" stroke="#8d3f41" stroke-width="5.20"/>
<path d="M272.1 491.7h0M275.4 447.6h0M275.3 472.7h0" stroke="#e4666a" stroke-width="3.80"/>
<path d="M278.1 493.7h0M283.4 484.5h0M259.7 459.2h0M278.1 460.4h0M265.2 447.6h0M255.9 456.0h0" stroke="#8a3c41" stroke-width="5.20"/>
<path d="M278.1 493.7h0M283.4 484.5h0M259.7 459.2h0M278.1 460.4h0M265.2 447.6h0M255.9 456.0h0" stroke="#e06269" stroke-width="3.80"/>
<path d="M251.3 460.0h0M277.6 501.2h0M250.7 467.9h0M288.1 497.3h0M269.1 493.8h0M254.7 461.6h0M255.9 508.8h0" stroke="#893a40" stroke-width="5.20"/>
<path d="M251.3 460.0h0M277.6 501.2h0M250.7 467.9h0M288.1 497.3h0M269.1 493.8h0M254.7 461.6h0M255.9 508.8h0" stroke="#dd5e68" stroke-width="3.80"/>
<path d="M275.5 492.1h0M276.7 476.0h0M276.4 447.1h0M292.0 476.1h0M268.2 485.8h0M267.8 492.0h0M259.5 487.2h0M249.7 454.1h0M259.8 486.2h0M259.0 469.6h0M258.3 446.7h0M250.9 448.3h0M288.3 447.7h0M280.6 467.5h0M274.9 494.6h0M251.8 468.2h0M274.0 513.6h0M239.9 441.1h0" stroke="#86373f" stroke-width="5.20"/>
<path d="M275.5 492.1h0M276.7 476.0h0M276.4 447.1h0M292.0 476.1h0M268.2 485.8h0M267.8 492.0h0M259.5 487.2h0M249.7 454.1h0M259.8 486.2h0M259.0 469.6h0M258.3 446.7h0M250.9 448.3h0M288.3 447.7h0M280.6 467.5h0M274.9 494.6h0M251.8 468.2h0M274.0 513.6h0M239.9 441.1h0" stroke="#d95a67" stroke-width="3.80"/>
<path d="M247.3 467.6h0M258.2 489.7h0M245.6 442.4h0M277.3 483.3h0M259.3 458.4h0M269.3 465.6h0M284.7 494.3h0M249.1 450.8h0M269.2 476.9h0M267.8 478.7h0M282.0 449.2h0M256.0 465.8h0M270.7 472.0h0M242.4 510.3h0M241.2 463.1h0M269.9 496.4h0M280.5 464.3h0M272.2 482.6h0M278.2 471.4h0M264.4 476.1h0M245.0 511.7h0M239.9 512.1h0M292.0 470.7h0M250.3 479.6h0M254.3 454.4h0M274.7 485.1h0M259.7 470.1h0" stroke="#84353e" stroke-width="5.20"/>
<path d="M247.3 467.6h0M258.2 489.7h0M245.6 442.4h0M277.3 483.3h0M259.3 458.4h0M269.3 465.6h0M284.7 494.3h0M249.1 450.8h0M269.2 476.9h0M267.8 478.7h0M282.0 449.2h0M256.0 465.8h0M270.7 472.0h0M242.4 510.3h0M241.2 463.1h0M269.9 496.4h0M280.5 464.3h0M272.2 482.6h0M278.2 471.4h0M264.4 476.1h0M245.0 511.7h0M239.9 512.1h0M292.0 470.7h0M250.3 479.6h0M254.3 454.4h0M274.7 485.1h0M259.7 470.1h0" stroke="#d55665" stroke-width="3.80"/>
<path d="M236.4 494.8h0M264.8 497.5h0M267.4 497.7h0M265.9 493.8h0M270.1 480.1h0M212.7 457.8h0M252.7 497.3h0M239.9 509.6h0M238.1 468.8h0M283.7 469.2h0M247.3 520.7h0M269.0 459.7h0M250.8 460.7h0M221.0 481.3h0M258.9 490.0h0M256.8 488.1h0M253.8 515.4h0M265.2 483.7h0M261.8 473.1h0M266.8 495.1h0M254.6 468.0h0M234.6 491.6h0M269.5 476.5h0M212.6 467.8h0M234.7 449.3h0M230.6 496.8h0M248.2 515.3h0M262.2 468.6h0M261.3 465.0h0M230.9 473.2h0M261.4 496.6h0M284.9 487.3h0M252.1 466.7h0M267.4 455.3h0M271.1 462.1h0" stroke="#81323e" stroke-width="5.20"/>
<path d="M236.4 494.8h0M264.8 497.5h0M267.4 497.7h0M265.9 493.8h0M270.1 480.1h0M212.7 457.8h0M252.7 497.3h0M239.9 509.6h0M238.1 468.8h0M283.7 469.2h0M247.3 520.7h0M269.0 459.7h0M250.8 460.7h0M221.0 481.3h0M258.9 490.0h0M256.8 488.1h0M253.8 515.4h0M265.2 483.7h0M261.8 473.1h0M266.8 495.1h0M254.6 468.0h0M234.6 491.6h0M269.5 476.5h0M212.6 467.8h0M234.7 449.3h0M230.6 496.8h0M248.2 515.3h0M262.2 468.6h0M261.3 465.0h0M230.9 473.2h0M261.4 496.6h0M284.9 487.3h0M252.1 466.7h0M267.4 455.3h0M271.1 462.1h0" stroke="#d15264" stroke-width="3.80"/>
<path d="M227.7 472.3h0M250.0 448.1h0M255.9 494.7h0M236.1 498.4h0M269.2 486.6h0M231.5 495.3h0M248.5 455.9h0M247.4 448.1h0M231.0 495.1h0M248.7 446.5h0M246.2 458.9h0M257.5 495.8h0M254.8 508.0h0M240.7 462.1h0M248.5 488.3h0M235.9 479.2h0M254.3 478.1h0M256.1 494.7h0M258.0 470.6h0M235.8 464.5h0M248.3 483.3h0M255.7 473.6h0M257.1 463.6h0M242.7 490.0h0M280.7 464.7h0M201.4 461.6h0M247.0 447.3h0M239.5 444.0h0M237.3 467.3h0M274.9 484.8h0M222.4 480.6h0M251.3 466.0h0M229.4 480.0h0" stroke="#7f2f3d" stroke-width="5.20"/>
<path d="M227.7 472.3h0M250.0 448.1h0M255.9 494.7h0M236.1 498.4h0M269.2 486.6h0M231.5 495.3h0M248.5 455.9h0M247.4 448.1h0M231.0 495.1h0M248.7 446.5h0M246.2 458.9h0M257.5 495.8h0M254.8 508.0h0M240.7 462.1h0M248.5 488.3h0M235.9 479.2h0M254.3 478.1h0M256.1 494.7h0M258.0 470.6h0M235.8 464.5h0M248.3 483.3h0M255.7 473.6h0M257.1 463.6h0M242.7 490.0h0M280.7 464.7h0M201.4 461.6h0M247.0 447.3h0M239.5 444.0h0M237.3 467.3h0M274.9 484.8h0M222.4 480.6h0M251.3 466.0h0M229.4 480.0h0" stroke="#ce4c63" stroke-width="3.80"/>
<path d="M231.8 462.2h0M254.2 511.3h0M237.0 453.8h0M211.3 492.9h0M250.3 496.6h0M256.2 472.0h0M222.6 465.9h0M238.9 447.7h0M243.5 489.4h0M243.1 501.4h0M234.5 443.5h0M215.4 463.4h0M269.8 497.5h0M219.5 451.8h0M277.2 492.5h0M262.2 471.0h0M228.8 465.9h0M261.6 459.0h0M260.1 451.8h0M230.8 494.4h0M215.7 456.6h0M259.7 463.5h0M233.2 483.7h0M207.1 480.9h0M246.5 453.6h0M254.5 502.3h0M238.2 499.3h0M256.8 516.6h0M216.9 470.0h0M213.8 492.4h0M238.7 444.2h0M247.0 478.7h0M257.5 464.3h0M241.6 489.4h0M228.6 493.3h0M249.4 477.3h0M230.8 498.2h0" stroke="#7d2c3c" stroke-width="5.20"/>
<path d="M231.8 462.2h0M254.2 511.3h0M237.0 453.8h0M211.3 492.9h0M250.3 496.6h0M256.2 472.0h0M222.6 465.9h0M238.9 447.7h0M243.5 489.4h0M243.1 501.4h0M234.5 443.5h0M215.4 463.4h0M269.8 497.5h0M219.5 451.8h0M277.2 492.5h0M262.2 471.0h0M228.8 465.9h0M261.6 459.0h0M260.1 451.8h0M230.8 494.4h0M215.7 456.6h0M259.7 463.5h0M233.2 483.7h0M207.1 480.9h0M246.5 453.6h0M254.5 502.3h0M238.2 499.3h0M256.8 516.6h0M216.9 470.0h0M213.8 492.4h0M238.7 444.2h0M247.0 478.7h0M257.5 464.3h0M241.6 489.4h0M228.6 493.3h0M249.4 477.3h0M230.8 498.2h0" stroke="#ca4762" stroke-width="3.80"/>
<path d="M203.1 488.6h0M258.6 500.6h0M274.5 495.0h0M253.4 461.6h0M260.2 468.2h0M260.0 463.4h0M223.3 465.8h0M228.3 452.0h0M216.2 483.4h0M236.7 484.1h0M261.4 497.3h0M212.0 464.6h0M213.5 444.8h0M249.5 452.7h0M210.3 475.8h0M240.4 476.8h0M266.8 458.9h0M220.3 487.4h0M249.1 475.2h0M225.4 462.5h0M231.8 482.5h0M238.1 439.9h0M230.7 481.5h0" stroke="#7a283c" stroke-width="5.20"/>
<path d="M203.1 488.6h0M258.6 500.6h0M274.5 495.0h0M253.4 461.6h0M260.2 468.2h0M260.0 463.4h0M223.3 465.8h0M228.3 452.0h0M216.2 483.4h0M236.7 484.1h0M261.4 497.3h0M212.0 464.6h0M213.5 444.8h0M249.5 452.7h0M210.3 475.8h0M240.4 476.8h0M266.8 458.9h0M220.3 487.4h0M249.1 475.2h0M225.4 462.5h0M231.8 482.5h0M238.1 439.9h0M230.7 481.5h0" stroke="#c64261" stroke-width="3.80"/>
<path d="M227.4 495.3h0M253.4 476.1h0M238.5 485.7h0M243.9 455.4h0M251.1 503.3h0M212.7 480.3h0M228.2 475.4h0M237.1 486.3h0M226.3 456.0h0M235.5 468.6h0M216.0 456.3h0M229.2 452.5h0M220.8 475.8h0M225.6 499.0h0M246.9 493.3h0M247.5 500.9h0M247.3 499.4h0M212.0 490.1h0M225.5 461.7h0M240.1 493.0h0M238.3 450.4h0M209.2 478.2h0" stroke="#78253b" stroke-width="5.20"/>
<path d="M227.4 495.3h0M253.4 476.1h0M238.5 485.7h0M243.9 455.4h0M251.1 503.3h0M212.7 480.3h0M228.2 475.4h0M237.1 486.3h0M226.3 456.0h0M235.5 468.6h0M216.0 456.3h0M229.2 452.5h0M220.8 475.8h0M225.6 499.0h0M246.9 493.3h0M247.5 500.9h0M247.3 499.4h0M212.0 490.1h0M225.5 461.7h0M240.1 493.0h0M238.3 450.4h0M209.2 478.2h0" stroke="#c23d60" stroke-width="3.80"/>
<path d="M224.5 472.2h0M211.9 474.0h0M217.1 491.9h0M215.7 488.2h0M215.3 493.5h0M214.9 464.8h0M220.4 493.9h0M233.6 520.0h0" stroke="#75223a" stroke-width="5.20"/>
<path d="M224.5 472.2h0M211.9 474.0h0M217.1 491.9h0M215.7 488.2h0M215.3 493.5h0M214.9 464.8h0M220.4 493.9h0M233.6 520.0h0" stroke="#bd385f" stroke-width="3.80"/>
<path d="M216.6 490.9h0M202.7 486.2h0" stroke="#721f3a" stroke-width="5.20"/>
<path d="M216.6 490.9h0M202.7 486.2h0" stroke="#b9335f" stroke-width="3.80"/>
<path d="M211.6 484.9h0" stroke="#6d1a3a" stroke-width="5.20"/>
<path d="M211.6 484.9h0" stroke="#b02a5e" stroke-width="3.80"/>
<path d="M285.0 470.9h0" stroke="#914e42" stroke-width="5.20"/>
<path d="M285.0 470.9h0" stroke="#eb7e6c" stroke-width="3.80"/>
<path d="M279.6 463.3h0" stroke="#914a42" stroke-width="5.20"/>
<path d="M279.6 463.3h0" stroke="#ea786b" stroke-width="3.80"/>
<path d="M285.3 490.9h0M286.5 494.5h0M278.0 487.1h0M299.0 493.9h0" stroke="#8f4642" stroke-width="5.20"/>
<path d="M285.3 490.9h0M286.5 494.5h0M278.0 487.1h0M299.0 493.9h0" stroke="#e8726b" stroke-width="3.80"/>
<path d="M304.9 469.0h0M279.6 483.3h0M277.6 490.0h0M290.0 491.8h0M282.5 486.6h0" stroke="#8e4241" stroke-width="5.20"/>
<path d="M304.9 469.0h0M279.6 483.3h0M277.6 490.0h0M290.0 491.8h0M282.5 486.6h0" stroke="#e66c6a" stroke-width="3.80"/>
<path d="M290.6 492.6h0M303.7 496.3h0M299.2 463.4h0M296.1 469.4h0M292.2 503.8h0M305.0 499.2h0" stroke="#8d3f41" stroke-width="5.20"/>
<path d="M290.6 492.6h0M303.7 496.3h0M299.2 463.4h0M296.1 469.4h0M292.2 503.8h0M305.0 499.2h0" stroke="#e4666a" stroke-width="3.80"/>
<path d="M279.1 478.9h0M277.0 474.9h0M286.5 475.2h0M299.8 472.4h0" stroke="#8a3c41" stroke-width="5.20"/>
<path d="M279.1 478.9h0M277.0 474.9h0M286.5 475.2h0M299.8 472.4h0" stroke="#e06269" stroke-width="3.80"/>
<path d="M305.9 464.9h0M296.1 502.0h0M286.8 491.4h0M301.6 487.0h0M284.3 486.3h0M282.2 453.7h0M276.6 486.5h0M279.8 485.7h0M300.1 477.6h0M304.0 458.8h0" stroke="#893a40" stroke-width="5.20"/>
<path d="M305.9 464.9h0M296.1 502.0h0M286.8 491.4h0M301.6 487.0h0M284.3 486.3h0M282.2 453.7h0M276.6 486.5h0M279.8 485.7h0M300.1 477.6h0M304.0 458.8h0" stroke="#dd5e68" stroke-width="3.80"/>
<path d="M300.0 486.6h0M289.8 463.2h0M282.1 476.0h0M302.9 461.5h0" stroke="#86373f" stroke-width="5.20"/>
<path d="M300.0 486.6h0M289.8 463.2h0M282.1 476.0h0M302.9 461.5h0" stroke="#d95a67" stroke-width="3.80"/>
<path d="M303.9 496.5h0M295.1 490.6h0" stroke="#84353e" stroke-width="5.20"/>
<path d="M303.9 496.5h0M295.1 490.6h0" stroke="#d55665" stroke-width="3.80"/>
<path d="M286.7 473.7h0" stroke="#81323e" stroke-width="5.20"/>
<path d="M286.7 473.7h0" stroke="#d15264" stroke-width="3.80"/>
<path d="M203.8 425.6h0M181.9 446.6h0" stroke="#6d1a3a" stroke-width="5.20"/>
<path d="M203.8 425.6h0M181.9 446.6h0" stroke="#b02a5e" stroke-width="3.80"/>
<path d="M170.7 413.8h0M206.2 433.9h0M199.4 420.2h0M170.0 417.7h0M193.5 435.4h0M176.3 448.5h0M187.5 454.9h0M217.2 441.3h0" stroke="#6a173a" stroke-width="5.20"/>
<path d="M170.7 413.8h0M206.2 433.9h0M199.4 420.2h0M170.0 417.7h0M193.5 435.4h0M176.3 448.5h0M187.5 454.9h0M217.2 441.3h0" stroke="#ab265e" stroke-width="3.80"/>
<path d="M181.8 427.0h0M180.1 439.8h0M159.9 418.4h0M192.7 433.9h0M167.9 427.0h0M208.6 449.2h0" stroke="#66153a" stroke-width="5.20"/>
<path d="M181.8 427.0h0M180.1 439.8h0M159.9 418.4h0M192.7 433.9h0M167.9 427.0h0M208.6 449.2h0" stroke="#a6235e" stroke-width="3.80"/>
<path d="M166.8 418.7h0M201.7 426.7h0M171.9 424.9h0M189.9 428.2h0M202.9 455.9h0M208.2 438.4h0M194.9 427.0h0M169.2 429.2h0M188.3 442.9h0M195.3 452.3h0M209.0 446.9h0M190.2 414.0h0M171.7 444.3h0M157.9 432.1h0M193.4 423.1h0M204.2 444.4h0M192.0 417.9h0M204.6 444.4h0M169.0 424.6h0M170.8 429.7h0M156.2 413.6h0" stroke="#63133a" stroke-width="5.20"/>
<path d="M166.8 418.7h0M201.7 426.7h0M171.9 424.9h0M189.9 428.2h0M202.9 455.9h0M208.2 438.4h0M194.9 427.0h0M169.2 429.2h0M188.3 442.9h0M195.3 452.3h0M209.0 446.9h0M190.2 414.0h0M171.7 444.3h0M157.9 432.1h0M193.4 423.1h0M204.2 444.4h0M192.0 417.9h0M204.6 444.4h0M169.0 424.6h0M170.8 429.7h0M156.2 413.6h0" stroke="#a11f5e" stroke-width="3.80"/>
<path d="M192.7 428.4h0M195.8 423.6h0M186.3 446.4h0M191.0 441.5h0M174.1 423.7h0M170.7 435.9h0M196.9 419.9h0M174.0 418.6h0M170.4 423.2h0M189.7 409.3h0M181.1 438.2h0M183.6 426.9h0M167.0 430.3h0M222.7 445.9h0M200.8 424.8h0M183.0 429.8h0M206.9 428.9h0M211.4 427.4h0M200.1 444.1h0M204.5 418.4h0M201.3 427.0h0M211.6 440.3h0M192.7 438.9h0M190.1 419.4h0M166.9 424.6h0M198.8 443.5h0" stroke="#60103a" stroke-width="5.20"/>
<path d="M192.7 428.4h0M195.8 423.6h0M186.3 446.4h0M191.0 441.5h0M174.1 423.7h0M170.7 435.9h0M196.9 419.9h0M174.0 418.6h0M170.4 423.2h0M189.7 409.3h0M181.1 438.2h0M183.6 426.9h0M167.0 430.3h0M222.7 445.9h0M200.8 424.8h0M183.0 429.8h0M206.9 428.9h0M211.4 427.4h0M200.1 444.1h0M204.5 418.4h0M201.3 427.0h0M211.6 440.3h0M192.7 438.9h0M190.1 419.4h0M166.9 424.6h0M198.8 443.5h0" stroke="#9c1b5e" stroke-width="3.80"/>
<path d="M214.6 446.1h0M166.1 414.9h0M196.1 454.2h0M194.8 439.4h0M197.9 441.6h0M170.6 419.8h0M158.2 411.8h0M208.6 445.7h0M166.7 428.0h0M187.9 450.1h0M191.2 434.9h0M177.6 438.1h0M180.6 437.2h0" stroke="#5d0e3a" stroke-width="5.20"/>
<path d="M214.6 446.1h0M166.1 414.9h0M196.1 454.2h0M194.8 439.4h0M197.9 441.6h0M170.6 419.8h0M158.2 411.8h0M208.6 445.7h0M166.7 428.0h0M187.9 450.1h0M191.2 434.9h0M177.6 438.1h0M180.6 437.2h0" stroke="#97175e" stroke-width="3.80"/>
<path d="M192.6 429.4h0M184.2 439.6h0M214.9 435.1h0M188.8 417.6h0M170.9 432.5h0M184.4 415.2h0M183.3 439.8h0M208.3 450.7h0M209.6 430.2h0M195.0 451.9h0M172.6 422.1h0M187.1 424.8h0M181.5 441.3h0" stroke="#5a0b3a" stroke-width="5.20"/>
<path d="M192.6 429.4h0M184.2 439.6h0M214.9 435.1h0M188.8 417.6h0M170.9 432.5h0M184.4 415.2h0M183.3 439.8h0M208.3 450.7h0M209.6 430.2h0M195.0 451.9h0M172.6 422.1h0M187.1 424.8h0M181.5 441.3h0" stroke="#92135f" stroke-width="3.80"/>
<path d="M207.4 443.5h0M201.9 428.3h0M219.5 446.7h0M168.2 420.2h0M194.1 424.8h0M190.7 414.3h0M183.4 422.4h0" stroke="#56083b" stroke-width="5.20"/>
<path d="M207.4 443.5h0M201.9 428.3h0M219.5 446.7h0M168.2 420.2h0M194.1 424.8h0M190.7 414.3h0M183.4 422.4h0" stroke="#8c0e60" stroke-width="3.80"/>
<path d="M210.0 450.8h0M158.2 411.6h0M202.1 440.2h0" stroke="#53063b" stroke-width="5.20"/>
<path d="M210.0 450.8h0M158.2 411.6h0M202.1 440.2h0" stroke="#870a60" stroke-width="3.80"/>
<path d="M188.6 453.4h0M245.8 523.3h0" stroke="#7a283c" stroke-width="5.20"/>
<path d="M188.6 453.4h0M245.8 523.3h0" stroke="#c64261" stroke-width="3.80"/>
<path d="M237.8 510.2h0M230.4 505.4h0M258.7 546.2h0M256.3 529.2h0M255.1 535.0h0M195.6 468.6h0" stroke="#78253b" stroke-width="5.20"/>
<path d="M237.8 510.2h0M230.4 505.4h0M258.7 546.2h0M256.3 529.2h0M255.1 535.0h0M195.6 468.6h0" stroke="#c23d60" stroke-width="3.80"/>
<path d="M229.3 486.4h0M252.4 536.0h0M253.8 522.1h0M257.5 541.8h0M196.7 450.5h0M208.6 464.2h0" stroke="#75223a" stroke-width="5.20"/>
<path d="M229.3 486.4h0M252.4 536.0h0M253.8 522.1h0M257.5 541.8h0M196.7 450.5h0M208.6 464.2h0" stroke="#bd385f" stroke-width="3.80"/>
<path d="M181.2 445.2h0M249.0 532.0h0M235.1 508.9h0M218.2 498.5h0M235.7 505.7h0M210.7 493.2h0M235.4 513.9h0M198.9 470.4h0M171.0 452.9h0M265.0 545.1h0M187.3 444.3h0M220.3 476.4h0M259.8 536.0h0M232.1 488.0h0M228.7 510.7h0M218.7 506.4h0M248.0 516.1h0M201.7 477.0h0M233.9 501.1h0M198.5 483.7h0M196.3 466.6h0M226.0 502.4h0M245.1 506.8h0M174.3 449.8h0M218.5 470.0h0M259.6 536.3h0M233.4 497.9h0" stroke="#721f3a" stroke-width="5.20"/>
<path d="M181.2 445.2h0M249.0 532.0h0M235.1 508.9h0M218.2 498.5h0M235.7 505.7h0M210.7 493.2h0M235.4 513.9h0M198.9 470.4h0M171.0 452.9h0M265.0 545.1h0M187.3 444.3h0M220.3 476.4h0M259.8 536.0h0M232.1 488.0h0M228.7 510.7h0M218.7 506.4h0M248.0 516.1h0M201.7 477.0h0M233.9 501.1h0M198.5 483.7h0M196.3 466.6h0M226.0 502.4h0M245.1 506.8h0M174.3 449.8h0M218.5 470.0h0M259.6 536.3h0M233.4 497.9h0" stroke="#b9335f" stroke-width="3.80"/>
<path d="M260.6 548.3h0M195.6 456.1h0M237.9 512.2h0M236.9 518.7h0M201.1 475.2h0M226.6 491.2h0M257.1 538.1h0M257.1 527.4h0M250.0 528.5h0M258.2 540.9h0M237.7 517.1h0M236.4 519.3h0M198.1 471.9h0M245.4 523.9h0M217.8 491.7h0M240.0 499.7h0M250.7 520.1h0M238.8 520.2h0M253.8 531.8h0M238.2 515.3h0M255.6 523.5h0M239.8 512.9h0M225.1 494.9h0M172.7 447.7h0M252.0 519.8h0M219.0 494.3h0M199.8 473.2h0M224.0 478.7h0M263.5 548.7h0M256.6 540.9h0M237.4 515.9h0M221.6 475.3h0M210.5 464.9h0M251.7 531.4h0M184.0 471.9h0M209.8 460.9h0M175.1 446.7h0M230.9 490.0h0M219.0 507.5h0M240.9 501.5h0M224.5 487.5h0M225.1 495.2h0M167.6 452.7h0M250.9 535.2h0M243.8 504.9h0M208.6 467.8h0M215.1 494.3h0" stroke="#6f1d3a" stroke-width="5.20"/>
<path d="M260.6 548.3h0M195.6 456.1h0M237.9 512.2h0M236.9 518.7h0M201.1 475.2h0M226.6 491.2h0M257.1 538.1h0M257.1 527.4h0M250.0 528.5h0M258.2 540.9h0M237.7 517.1h0M236.4 519.3h0M198.1 471.9h0M245.4 523.9h0M217.8 491.7h0M240.0 499.7h0M250.7 520.1h0M238.8 520.2h0M253.8 531.8h0M238.2 515.3h0M255.6 523.5h0M239.8 512.9h0M225.1 494.9h0M172.7 447.7h0M252.0 519.8h0M219.0 494.3h0M199.8 473.2h0M224.0 478.7h0M263.5 548.7h0M256.6 540.9h0M237.4 515.9h0M221.6 475.3h0M210.5 464.9h0M251.7 531.4h0M184.0 471.9h0M209.8 460.9h0M175.1 446.7h0M230.9 490.0h0M219.0 507.5h0M240.9 501.5h0M224.5 487.5h0M225.1 495.2h0M167.6 452.7h0M250.9 535.2h0M243.8 504.9h0M208.6 467.8h0M215.1 494.3h0" stroke="#b42f5e" stroke-width="3.80"/>
<path d="M259.0 540.0h0M255.3 531.6h0M220.0 504.0h0M185.4 469.3h0M197.3 476.8h0M196.1 465.5h0M249.9 515.6h0M249.1 537.6h0M192.6 462.2h0M190.8 451.9h0M197.0 466.8h0M263.4 538.2h0M250.8 531.8h0M209.2 460.6h0M191.6 474.2h0M217.7 483.8h0M183.7 437.3h0M185.4 455.3h0M222.7 489.5h0M217.5 474.7h0M200.5 461.7h0M202.5 468.8h0M257.4 545.8h0M180.5 468.6h0M249.4 528.5h0M199.3 465.3h0M203.3 463.4h0M226.1 497.3h0M197.8 463.1h0M197.8 451.8h0M220.0 476.4h0M218.3 490.0h0M193.7 461.9h0M258.0 532.2h0M227.6 500.3h0M266.2 544.2h0M264.4 541.3h0M267.3 544.4h0M173.5 452.8h0M237.2 511.8h0M189.6 454.3h0M241.6 515.0h0" stroke="#6d1a3a" stroke-width="5.20"/>
<path d="M259.0 540.0h0M255.3 531.6h0M220.0 504.0h0M185.4 469.3h0M197.3 476.8h0M196.1 465.5h0M249.9 515.6h0M249.1 537.6h0M192.6 462.2h0M190.8 451.9h0M197.0 466.8h0M263.4 538.2h0M250.8 531.8h0M209.2 460.6h0M191.6 474.2h0M217.7 483.8h0M183.7 437.3h0M185.4 455.3h0M222.7 489.5h0M217.5 474.7h0M200.5 461.7h0M202.5 468.8h0M257.4 545.8h0M180.5 468.6h0M249.4 528.5h0M199.3 465.3h0M203.3 463.4h0M226.1 497.3h0M197.8 463.1h0M197.8 451.8h0M220.0 476.4h0M218.3 490.0h0M193.7 461.9h0M258.0 532.2h0M227.6 500.3h0M266.2 544.2h0M264.4 541.3h0M267.3 544.4h0M173.5 452.8h0M237.2 511.8h0M189.6 454.3h0M241.6 515.0h0" stroke="#b02a5e" stroke-width="3.80"/>
<path d="M198.4 468.4h0M262.9 542.9h0M181.2 445.9h0M180.0 445.1h0M250.5 531.4h0M245.4 504.5h0M265.8 548.4h0M226.6 507.9h0M221.0 504.7h0M184.3 441.4h0M171.6 454.0h0M177.0 445.5h0M176.3 453.0h0M247.8 527.7h0M183.0 437.7h0M218.1 494.9h0M182.4 446.8h0M252.0 519.0h0M264.9 540.9h0M207.4 461.0h0M173.8 454.2h0M261.7 547.9h0M182.1 448.2h0M187.7 470.4h0M235.3 508.8h0M189.0 471.6h0" stroke="#6a173a" stroke-width="5.20"/>
<path d="M198.4 468.4h0M262.9 542.9h0M181.2 445.9h0M180.0 445.1h0M250.5 531.4h0M245.4 504.5h0M265.8 548.4h0M226.6 507.9h0M221.0 504.7h0M184.3 441.4h0M171.6 454.0h0M177.0 445.5h0M176.3 453.0h0M247.8 527.7h0M183.0 437.7h0M218.1 494.9h0M182.4 446.8h0M252.0 519.0h0M264.9 540.9h0M207.4 461.0h0M173.8 454.2h0M261.7 547.9h0M182.1 448.2h0M187.7 470.4h0M235.3 508.8h0M189.0 471.6h0" stroke="#ab265e" stroke-width="3.80"/>
<path d="M184.2 459.5h0M198.4 479.1h0M228.6 484.0h0M248.1 516.8h0M202.7 489.4h0M254.2 530.6h0M179.1 451.1h0M195.5 463.9h0M264.0 543.5h0M177.2 455.9h0M266.9 546.1h0" stroke="#66153a" stroke-width="5.20"/>
<path d="M184.2 459.5h0M198.4 479.1h0M228.6 484.0h0M248.1 516.8h0M202.7 489.4h0M254.2 530.6h0M179.1 451.1h0M195.5 463.9h0M264.0 543.5h0M177.2 455.9h0M266.9 546.1h0" stroke="#a6235e" stroke-width="3.80"/>
<path d="M182.5 464.7h0M242.9 512.8h0" stroke="#63133a" stroke-width="5.20"/>
<path d="M182.5 464.7h0M242.9 512.8h0" stroke="#a11f5e" stroke-width="3.80"/>
<path d="M240.5 523.8h0" stroke="#5d0e3a" stroke-width="5.20"/>
<path d="M240.5 523.8h0" stroke="#97175e" stroke-width="3.80"/>
<path d="M178.9 483.1h0" stroke="#6a173a" stroke-width="5.20"/>
<path d="M178.9 483.1h0" stroke="#ab265e" stroke-width="3.80"/>
<path d="M176.6 479.5h0M179.8 484.0h0" stroke="#66153a" stroke-width="5.20"/>
<path d="M176.6 479.5h0M179.8 484.0h0" stroke="#a6235e" stroke-width="3.80"/>
<path d="M183.6 478.7h0M180.4 477.4h0" stroke="#63133a" stroke-width="5.20"/>
<path d="M183.6 478.7h0M180.4 477.4h0" stroke="#a11f5e" stroke-width="3.80"/>
<path d="M184.9 480.5h0M187.2 479.4h0M176.9 482.3h0" stroke="#60103a" stroke-width="5.20"/>
<path d="M184.9 480.5h0M187.2 479.4h0M176.9 482.3h0" stroke="#9c1b5e" stroke-width="3.80"/>
<path d="M181.3 378.1h0M204.9 397.3h0" stroke="#5a0b3a" stroke-width="5.20"/>
<path d="M181.3 378.1h0M204.9 397.3h0" stroke="#92135f" stroke-width="3.80"/>
<path d="M140.7 386.6h0" stroke="#56083b" stroke-width="5.20"/>
<path d="M140.7 386.6h0" stroke="#8c0e60" stroke-width="3.80"/>
<path d="M166.4 356.9h0M134.3 362.0h0M125.7 373.8h0M134.7 381.7h0M193.1 387.7h0M223.0 402.7h0M260.5 425.1h0M158.9 404.8h0M166.4 416.6h0M252.0 405.0h0M258.0 408.0h0" stroke="#53063b" stroke-width="5.20"/>
<path d="M166.4 356.9h0M134.3 362.0h0M125.7 373.8h0M134.7 381.7h0M193.1 387.7h0M223.0 402.7h0M260.5 425.1h0M158.9 404.8h0M166.4 416.6h0M252.0 405.0h0M258.0 408.0h0" stroke="#870a60" stroke-width="3.80"/>
<path d="M97.3 325.2h0M145.0 371.7h0M152.0 378.1h0M146.0 381.7h0M188.8 377.0h0M179.2 387.7h0M218.8 410.2h0M238.0 419.8h0M152.4 400.5h0M178.1 416.6h0M158.9 413.4h0" stroke="#4f043b" stroke-width="5.20"/>
<path d="M97.3 325.2h0M145.0 371.7h0M152.0 378.1h0M146.0 381.7h0M188.8 377.0h0M179.2 387.7h0M218.8 410.2h0M238.0 419.8h0M152.4 400.5h0M178.1 416.6h0M158.9 413.4h0" stroke="#810760" stroke-width="3.80"/>
<path d="M102.8 336.8h0M143.9 348.6h0M181.8 357.3h0M181.8 360.3h0M122.5 367.0h0M120.8 375.9h0M151.4 370.2h0M157.8 396.3h0M166.4 392.4h0M186.7 391.6h0M204.9 388.1h0M200.6 392.4h0M225.2 407.0h0M240.1 413.4h0M253.0 406.5h0M140.7 394.1h0M171.7 413.4h0M157.8 417.6h0" stroke="#4b013b" stroke-width="5.20"/>
<path d="M102.8 336.8h0M143.9 348.6h0M181.8 357.3h0M181.8 360.3h0M122.5 367.0h0M120.8 375.9h0M151.4 370.2h0M157.8 396.3h0M166.4 392.4h0M186.7 391.6h0M204.9 388.1h0M200.6 392.4h0M225.2 407.0h0M240.1 413.4h0M253.0 406.5h0M140.7 394.1h0M171.7 413.4h0M157.8 417.6h0" stroke="#7a0360" stroke-width="3.80"/>
<path d="M213.0 375.3h0M165.3 380.9h0M188.8 397.3h0M143.9 402.7h0M154.6 407.0h0M165.3 410.2h0M182.4 419.8h0M262.0 427.0h0" stroke="#48003b" stroke-width="5.20"/>
<path d="M213.0 375.3h0M165.3 380.9h0M188.8 397.3h0M143.9 402.7h0M154.6 407.0h0M165.3 410.2h0M182.4 419.8h0M262.0 427.0h0" stroke="#750160" stroke-width="3.80"/>
<path d="M132.1 375.3h0M124.6 381.3h0M150.3 387.3h0M164.2 386.6h0M173.8 389.8h0M184.5 403.1h0M135.3 397.3h0M146.0 409.1h0" stroke="#45003b" stroke-width="5.20"/>
<path d="M132.1 375.3h0M124.6 381.3h0M150.3 387.3h0M164.2 386.6h0M173.8 389.8h0M184.5 403.1h0M135.3 397.3h0M146.0 409.1h0" stroke="#700060" stroke-width="3.80"/>
<path d="M214.5 419.8h0M182.0 424.0h0" stroke="#63133a" stroke-width="5.20"/>
<path d="M214.5 419.8h0M182.0 424.0h0" stroke="#a11f5e" stroke-width="3.80"/>
<path d="M200.6 411.2h0M195.2 419.8h0M199.5 423.0h0M210.2 417.6h0M184.0 428.0h0" stroke="#60103a" stroke-width="5.20"/>
<path d="M200.6 411.2h0M195.2 419.8h0M199.5 423.0h0M210.2 417.6h0M184.0 428.0h0" stroke="#9c1b5e" stroke-width="3.80"/>
<path d="M195.2 409.1h0M201.6 414.4h0M212.3 426.2h0M176.0 416.0h0" stroke="#5d0e3a" stroke-width="5.20"/>
<path d="M195.2 409.1h0M201.6 414.4h0M212.3 426.2h0M176.0 416.0h0" stroke="#97175e" stroke-width="3.80"/>
<path d="M204.9 419.8h0" stroke="#5a0b3a" stroke-width="5.20"/>
<path d="M204.9 419.8h0" stroke="#92135f" stroke-width="3.80"/>
<path d="M179.0 420.0h0" stroke="#56083b" stroke-width="5.20"/>
<path d="M179.0 420.0h0" stroke="#8c0e60" stroke-width="3.80"/>
<path d="M136.4 395.2h0" stroke="#9b684b" stroke-width="5.20"/>
<path d="M136.4 395.2h0" stroke="#faa97a" stroke-width="3.80"/>
<path d="M150.3 424.1h0" stroke="#9a654a" stroke-width="5.20"/>
<path d="M150.3 424.1h0" stroke="#f9a478" stroke-width="3.80"/>
<path d="M116.1 366.3h0M126.8 389.8h0M141.8 415.5h0" stroke="#996248" stroke-width="5.20"/>
<path d="M116.1 366.3h0M126.8 389.8h0M141.8 415.5h0" stroke="#f89f75" stroke-width="3.80"/>
<path d="M111.8 364.2h0M118.2 370.6h0M130.0 394.1h0M127.9 398.4h0M148.2 428.3h0" stroke="#985f47" stroke-width="5.20"/>
<path d="M111.8 364.2h0M118.2 370.6h0M130.0 394.1h0M127.9 398.4h0M148.2 428.3h0" stroke="#f69a73" stroke-width="3.80"/>
<path d="M108.6 358.2h0M113.9 369.5h0" stroke="#975c46" stroke-width="5.20"/>
<path d="M108.6 358.2h0M113.9 369.5h0" stroke="#f59571" stroke-width="3.80"/>
<path d="M108.6 351.3h0M133.2 400.5h0M146.0 419.8h0M152.4 418.7h0" stroke="#965845" stroke-width="5.20"/>
<path d="M108.6 351.3h0M133.2 400.5h0M146.0 419.8h0M152.4 418.7h0" stroke="#f28f70" stroke-width="3.80"/>
</g>
<rect x="84.5" y="12.3" width="443.80" height="277.30" fill="none" stroke="#000" stroke-width="2.3"/>
<rect x="84.5" y="289.6" width="443.80" height="277.40" fill="none" stroke="#000" stroke-width="2.3"/>
<line x1="84.5" y1="91.5" x2="92.0" y2="91.5" stroke="#000" stroke-width="2.3"/>
<line x1="84.5" y1="171.0" x2="92.0" y2="171.0" stroke="#000" stroke-width="2.3"/>
<line x1="84.5" y1="250.5" x2="92.0" y2="250.5" stroke="#000" stroke-width="2.3"/>
<line x1="84.5" y1="368.4" x2="92.0" y2="368.4" stroke="#000" stroke-width="2.3"/>
<line x1="84.5" y1="448.3" x2="92.0" y2="448.3" stroke="#000" stroke-width="2.3"/>
<line x1="84.5" y1="528.0" x2="92.0" y2="528.0" stroke="#000" stroke-width="2.3"/>
<line x1="173.2" y1="289.6" x2="173.2" y2="282.1" stroke="#000" stroke-width="2.3"/>
<line x1="173.2" y1="567.0" x2="173.2" y2="559.5" stroke="#000" stroke-width="2.3"/>
<line x1="262.0" y1="289.6" x2="262.0" y2="282.1" stroke="#000" stroke-width="2.3"/>
<line x1="262.0" y1="567.0" x2="262.0" y2="559.5" stroke="#000" stroke-width="2.3"/>
<line x1="350.9" y1="289.6" x2="350.9" y2="282.1" stroke="#000" stroke-width="2.3"/>
<line x1="350.9" y1="567.0" x2="350.9" y2="559.5" stroke="#000" stroke-width="2.3"/>
<line x1="439.7" y1="289.6" x2="439.7" y2="282.1" stroke="#000" stroke-width="2.3"/>
<line x1="439.7" y1="567.0" x2="439.7" y2="559.5" stroke="#000" stroke-width="2.3"/>
<text x="-1" y="27.6" font-size="29" text-anchor="start" font-weight="bold">(a)</text>
<text x="0" y="0" font-size="30" text-anchor="middle" font-weight="normal" transform="translate(67.2 150.3) rotate(-90) scale(1 1.06)">PC 3</text>
<text x="0" y="0" font-size="30" text-anchor="middle" font-weight="normal" transform="translate(67 428) rotate(-90) scale(1 1.06)">PC 2</text>
<text x="0" y="0" font-size="30" text-anchor="middle" font-weight="normal" transform="translate(305.5 601) scale(1 1.06)">PC 1</text>
<rect x="555.6" y="11.7" width="28.4" height="553.8" fill="url(#ga)" stroke="#0a0008" stroke-width="2"/>
<line x1="584.2" y1="38.75" x2="591" y2="38.75" stroke="#000" stroke-width="2"/>
<text x="599" y="47.05" font-size="23" text-anchor="start" font-weight="normal">120</text>
<line x1="584.2" y1="127.7" x2="591" y2="127.7" stroke="#000" stroke-width="2"/>
<text x="599" y="136.0" font-size="23" text-anchor="start" font-weight="normal">100</text>
<line x1="584.2" y1="216.6" x2="591" y2="216.6" stroke="#000" stroke-width="2"/>
<text x="599" y="224.9" font-size="23" text-anchor="start" font-weight="normal">80</text>
<line x1="584.2" y1="305.5" x2="591" y2="305.5" stroke="#000" stroke-width="2"/>
<text x="599" y="313.8" font-size="23" text-anchor="start" font-weight="normal">60</text>
<line x1="584.2" y1="394.5" x2="591" y2="394.5" stroke="#000" stroke-width="2"/>
<text x="599" y="402.8" font-size="23" text-anchor="start" font-weight="normal">40</text>
<line x1="584.2" y1="483.4" x2="591" y2="483.4" stroke="#000" stroke-width="2"/>
<text x="599" y="491.7" font-size="23" text-anchor="start" font-weight="normal">20</text>
<text x="0" y="0" font-size="27.6" text-anchor="middle" font-weight="normal" transform="translate(662.5 289) rotate(-90) scale(1 1.05)">Cluster #</text>
<g clip-path="url(#cb)" fill="none" stroke-linecap="round">
<path d="M1128.8 335.2h0M1123.2 341.9h0M1127.1 258.2h0" stroke="#d9bc85" stroke-width="6.00"/>
<path d="M1128.8 335.2h0M1123.2 341.9h0M1127.1 258.2h0" stroke="#fddb9b" stroke-width="5.20"/>
<path d="M1076.8 298.7h0M1126.4 355.7h0M1079.8 235.6h0" stroke="#d9b882" stroke-width="6.00"/>
<path d="M1076.8 298.7h0M1126.4 355.7h0M1079.8 235.6h0" stroke="#fdd798" stroke-width="5.20"/>
<path d="M1130.6 356.7h0M1070.6 240.5h0M1068.8 347.3h0M1108.3 242.2h0M1094.5 335.7h0M1068.7 312.9h0M1073.1 263.4h0M1142.5 343.2h0M1100.1 305.9h0M1062.1 400.4h0" stroke="#d9b47f" stroke-width="6.00"/>
<path d="M1130.6 356.7h0M1070.6 240.5h0M1068.8 347.3h0M1108.3 242.2h0M1094.5 335.7h0M1068.7 312.9h0M1073.1 263.4h0M1142.5 343.2h0M1100.1 305.9h0M1062.1 400.4h0" stroke="#fdd294" stroke-width="5.20"/>
<path d="M1064.0 311.7h0M1059.2 295.3h0M1127.2 342.0h0M1060.9 368.0h0M1055.1 400.4h0M1083.0 275.4h0M1082.3 351.6h0M1140.1 261.2h0M1062.8 400.2h0M1064.3 352.7h0M1132.1 361.4h0M1066.5 310.9h0M1120.1 340.6h0M1076.4 302.4h0M1086.4 358.8h0M1086.0 340.2h0M1064.1 340.2h0M1129.0 351.9h0M1061.3 346.9h0M1069.0 310.1h0M1073.5 252.8h0M1064.2 303.9h0M1080.1 353.7h0M1085.1 260.7h0M1083.5 318.4h0M1076.5 267.8h0M1073.7 344.6h0M1060.5 227.4h0M1115.7 345.9h0M1087.4 294.8h0M1098.7 340.9h0M1089.6 292.3h0M1072.5 318.3h0M1068.7 246.6h0M1067.5 306.9h0M1067.4 359.6h0M1097.2 342.4h0M1070.8 358.9h0M1096.0 331.9h0M1085.4 250.5h0M1059.0 356.8h0M1089.6 243.7h0M1084.1 345.7h0M1099.2 361.6h0M1139.1 349.9h0M1077.4 359.2h0" stroke="#d9b07c" stroke-width="6.00"/>
<path d="M1064.0 311.7h0M1059.2 295.3h0M1127.2 342.0h0M1060.9 368.0h0M1055.1 400.4h0M1083.0 275.4h0M1082.3 351.6h0M1140.1 261.2h0M1062.8 400.2h0M1064.3 352.7h0M1132.1 361.4h0M1066.5 310.9h0M1120.1 340.6h0M1076.4 302.4h0M1086.4 358.8h0M1086.0 340.2h0M1064.1 340.2h0M1129.0 351.9h0M1061.3 346.9h0M1069.0 310.1h0M1073.5 252.8h0M1064.2 303.9h0M1080.1 353.7h0M1085.1 260.7h0M1083.5 318.4h0M1076.5 267.8h0M1073.7 344.6h0M1060.5 227.4h0M1115.7 345.9h0M1087.4 294.8h0M1098.7 340.9h0M1089.6 292.3h0M1072.5 318.3h0M1068.7 246.6h0M1067.5 306.9h0M1067.4 359.6h0M1097.2 342.4h0M1070.8 358.9h0M1096.0 331.9h0M1085.4 250.5h0M1059.0 356.8h0M1089.6 243.7h0M1084.1 345.7h0M1099.2 361.6h0M1139.1 349.9h0M1077.4 359.2h0" stroke="#fdcd91" stroke-width="5.20"/>
<path d="M1092.7 363.0h0M1101.9 312.3h0M1074.4 296.1h0M1079.3 279.9h0M1070.3 341.7h0M1076.7 325.5h0M1065.6 315.9h0M1079.8 271.8h0M1080.8 289.4h0M1121.4 357.8h0M1074.5 268.8h0M1069.3 360.9h0M1057.6 360.4h0M1126.6 255.4h0M1086.6 344.6h0M1059.1 298.4h0M1073.2 282.2h0M1079.5 300.1h0M1069.8 244.4h0M1093.6 312.8h0M1075.0 329.6h0M1063.6 301.5h0M1119.3 273.4h0M1054.3 260.2h0M1094.6 330.3h0M1077.3 296.8h0M1057.7 405.2h0M1144.0 368.6h0M1091.4 226.7h0M1067.3 268.6h0M1124.2 350.6h0M1057.6 263.7h0M1079.7 265.6h0M1073.2 303.6h0M1095.8 334.8h0M1065.8 299.3h0M1080.5 303.9h0M1074.0 318.5h0M1066.4 358.8h0M1065.8 259.3h0M1098.1 325.0h0M1079.2 351.8h0M1064.6 369.4h0M1076.4 240.7h0M1064.8 358.9h0M1069.1 265.3h0M1067.3 383.9h0M1075.2 250.2h0M1062.3 276.3h0M1078.7 303.0h0M1072.5 360.2h0M1147.3 346.8h0M1069.9 306.3h0M1076.0 240.8h0M1108.3 255.6h0M1073.7 389.1h0M1073.4 352.7h0M1056.7 287.0h0M1069.6 335.5h0M1096.9 244.1h0M1096.9 340.8h0M1060.7 340.3h0M1108.0 301.1h0M1066.0 370.1h0M1061.0 355.6h0M1055.3 263.2h0M1112.7 325.1h0M1075.0 356.3h0M1086.5 259.8h0M1073.2 355.1h0M1077.4 264.9h0" stroke="#d9ac79" stroke-width="6.00"/>
<path d="M1092.7 363.0h0M1101.9 312.3h0M1074.4 296.1h0M1079.3 279.9h0M1070.3 341.7h0M1076.7 325.5h0M1065.6 315.9h0M1079.8 271.8h0M1080.8 289.4h0M1121.4 357.8h0M1074.5 268.8h0M1069.3 360.9h0M1057.6 360.4h0M1126.6 255.4h0M1086.6 344.6h0M1059.1 298.4h0M1073.2 282.2h0M1079.5 300.1h0M1069.8 244.4h0M1093.6 312.8h0M1075.0 329.6h0M1063.6 301.5h0M1119.3 273.4h0M1054.3 260.2h0M1094.6 330.3h0M1077.3 296.8h0M1057.7 405.2h0M1144.0 368.6h0M1091.4 226.7h0M1067.3 268.6h0M1124.2 350.6h0M1057.6 263.7h0M1079.7 265.6h0M1073.2 303.6h0M1095.8 334.8h0M1065.8 299.3h0M1080.5 303.9h0M1074.0 318.5h0M1066.4 358.8h0M1065.8 259.3h0M1098.1 325.0h0M1079.2 351.8h0M1064.6 369.4h0M1076.4 240.7h0M1064.8 358.9h0M1069.1 265.3h0M1067.3 383.9h0M1075.2 250.2h0M1062.3 276.3h0M1078.7 303.0h0M1072.5 360.2h0M1147.3 346.8h0M1069.9 306.3h0M1076.0 240.8h0M1108.3 255.6h0M1073.7 389.1h0M1073.4 352.7h0M1056.7 287.0h0M1069.6 335.5h0M1096.9 244.1h0M1096.9 340.8h0M1060.7 340.3h0M1108.0 301.1h0M1066.0 370.1h0M1061.0 355.6h0M1055.3 263.2h0M1112.7 325.1h0M1075.0 356.3h0M1086.5 259.8h0M1073.2 355.1h0M1077.4 264.9h0" stroke="#fdc88d" stroke-width="5.20"/>
<path d="M1096.2 286.4h0M1105.0 320.2h0M1071.1 330.9h0M1107.0 271.4h0M1081.8 343.4h0M1065.1 294.4h0M1063.8 251.0h0M1081.9 340.4h0M1097.8 323.1h0M1078.7 355.5h0M1072.6 314.9h0M1060.1 291.6h0M1162.5 296.7h0M1102.3 341.7h0M1069.5 362.6h0M1111.1 256.5h0M1098.2 235.5h0M1069.4 312.2h0M1062.2 291.7h0M1074.5 241.8h0M1071.5 258.4h0M1066.0 365.7h0M1115.5 270.4h0M1073.1 345.2h0M1072.9 278.1h0M1065.1 263.0h0M1089.7 339.2h0M1073.2 309.2h0M1067.0 292.9h0M1043.1 394.6h0M1096.1 287.3h0M1088.3 234.5h0M1065.4 258.6h0M1129.4 264.8h0M1060.7 245.6h0M1079.5 305.0h0M1076.8 267.9h0M1074.8 264.1h0M1057.4 358.7h0M1087.2 349.4h0M1132.0 262.8h0M1074.1 267.2h0M1073.1 295.2h0M1113.8 333.5h0M1079.0 303.1h0M1101.1 331.5h0M1059.2 340.2h0M1051.6 306.3h0M1061.1 345.7h0M1064.1 236.6h0M1069.3 253.3h0M1074.2 299.4h0M1076.5 311.9h0M1078.5 278.3h0M1067.1 276.3h0M1099.9 323.6h0M1070.3 296.4h0M1111.0 344.2h0M1093.0 375.5h0M1090.2 278.2h0M1067.1 365.4h0M1112.4 392.9h0M1070.4 242.7h0M1051.5 287.3h0M1068.8 268.8h0M1148.6 342.6h0M1065.6 246.3h0M1110.8 276.6h0M1085.3 288.8h0M1071.8 305.2h0M1119.9 325.3h0M1068.3 315.7h0M1057.6 357.2h0M1068.2 332.6h0M1086.5 319.0h0M1076.3 373.5h0M1076.3 252.2h0M1069.6 315.5h0M1113.2 360.4h0M1068.1 363.4h0M1062.0 247.4h0M1136.4 329.5h0M1071.7 230.3h0M1093.1 320.1h0M1089.4 272.6h0M1073.9 277.9h0M1079.6 227.9h0M1069.3 291.3h0M1067.4 293.7h0M1081.5 325.9h0M1091.6 262.7h0M1097.3 326.8h0M1097.9 311.3h0M1074.7 316.7h0M1074.3 363.6h0M1090.0 340.0h0M1070.7 384.2h0M1070.7 291.7h0M1072.0 302.4h0M1092.7 268.2h0M1105.3 334.9h0M1068.8 251.9h0M1102.8 242.4h0" stroke="#d9a775" stroke-width="6.00"/>
<path d="M1096.2 286.4h0M1105.0 320.2h0M1071.1 330.9h0M1107.0 271.4h0M1081.8 343.4h0M1065.1 294.4h0M1063.8 251.0h0M1081.9 340.4h0M1097.8 323.1h0M1078.7 355.5h0M1072.6 314.9h0M1060.1 291.6h0M1162.5 296.7h0M1102.3 341.7h0M1069.5 362.6h0M1111.1 256.5h0M1098.2 235.5h0M1069.4 312.2h0M1062.2 291.7h0M1074.5 241.8h0M1071.5 258.4h0M1066.0 365.7h0M1115.5 270.4h0M1073.1 345.2h0M1072.9 278.1h0M1065.1 263.0h0M1089.7 339.2h0M1073.2 309.2h0M1067.0 292.9h0M1043.1 394.6h0M1096.1 287.3h0M1088.3 234.5h0M1065.4 258.6h0M1129.4 264.8h0M1060.7 245.6h0M1079.5 305.0h0M1076.8 267.9h0M1074.8 264.1h0M1057.4 358.7h0M1087.2 349.4h0M1132.0 262.8h0M1074.1 267.2h0M1073.1 295.2h0M1113.8 333.5h0M1079.0 303.1h0M1101.1 331.5h0M1059.2 340.2h0M1051.6 306.3h0M1061.1 345.7h0M1064.1 236.6h0M1069.3 253.3h0M1074.2 299.4h0M1076.5 311.9h0M1078.5 278.3h0M1067.1 276.3h0M1099.9 323.6h0M1070.3 296.4h0M1111.0 344.2h0M1093.0 375.5h0M1090.2 278.2h0M1067.1 365.4h0M1112.4 392.9h0M1070.4 242.7h0M1051.5 287.3h0M1068.8 268.8h0M1148.6 342.6h0M1065.6 246.3h0M1110.8 276.6h0M1085.3 288.8h0M1071.8 305.2h0M1119.9 325.3h0M1068.3 315.7h0M1057.6 357.2h0M1068.2 332.6h0M1086.5 319.0h0M1076.3 373.5h0M1076.3 252.2h0M1069.6 315.5h0M1113.2 360.4h0M1068.1 363.4h0M1062.0 247.4h0M1136.4 329.5h0M1071.7 230.3h0M1093.1 320.1h0M1089.4 272.6h0M1073.9 277.9h0M1079.6 227.9h0M1069.3 291.3h0M1067.4 293.7h0M1081.5 325.9h0M1091.6 262.7h0M1097.3 326.8h0M1097.9 311.3h0M1074.7 316.7h0M1074.3 363.6h0M1090.0 340.0h0M1070.7 384.2h0M1070.7 291.7h0M1072.0 302.4h0M1092.7 268.2h0M1105.3 334.9h0M1068.8 251.9h0M1102.8 242.4h0" stroke="#fdc389" stroke-width="5.20"/>
<path d="M1061.8 319.9h0M1144.0 279.1h0M1064.3 278.1h0M1088.9 391.9h0M1071.3 216.5h0M1078.5 291.7h0M1063.7 326.1h0M1078.4 303.4h0M1080.7 311.8h0M1078.5 353.1h0M1054.3 372.5h0M1089.8 285.7h0M1072.1 313.6h0M1152.4 286.5h0M1085.8 262.7h0M1050.8 341.6h0M1085.2 346.8h0M1059.6 212.8h0M1110.2 330.8h0M1076.5 349.7h0M1068.9 313.7h0M1067.3 223.1h0M1066.4 353.3h0M1085.4 373.4h0M1097.1 300.5h0M1110.7 333.5h0M1082.0 313.3h0M1082.8 246.8h0M1114.4 377.9h0M1074.2 318.0h0M1088.4 288.4h0M1073.7 292.2h0M1081.8 273.9h0M1064.1 294.6h0M1052.1 264.0h0M1084.4 352.2h0M1072.0 219.5h0M1052.4 279.9h0M1098.5 310.2h0M1054.5 386.7h0M1075.9 278.7h0M1053.8 333.1h0M1096.5 275.4h0M1050.3 398.5h0M1083.2 371.2h0M1093.9 310.3h0M1096.9 328.9h0M1078.1 230.7h0M1102.1 301.2h0M1059.5 287.5h0M1100.5 367.3h0M1083.1 365.2h0M1112.8 383.5h0M1061.3 297.0h0M1078.6 327.9h0M1045.0 313.3h0M1044.8 391.0h0M1073.3 242.3h0M1077.3 374.9h0M1065.1 231.9h0M1069.4 394.5h0M1058.4 368.2h0M1106.0 336.9h0M1085.7 331.8h0M1104.1 330.8h0M1079.7 276.0h0M1037.5 335.2h0M1097.4 334.8h0M1099.1 276.4h0" stroke="#d8a373" stroke-width="6.00"/>
<path d="M1061.8 319.9h0M1144.0 279.1h0M1064.3 278.1h0M1088.9 391.9h0M1071.3 216.5h0M1078.5 291.7h0M1063.7 326.1h0M1078.4 303.4h0M1080.7 311.8h0M1078.5 353.1h0M1054.3 372.5h0M1089.8 285.7h0M1072.1 313.6h0M1152.4 286.5h0M1085.8 262.7h0M1050.8 341.6h0M1085.2 346.8h0M1059.6 212.8h0M1110.2 330.8h0M1076.5 349.7h0M1068.9 313.7h0M1067.3 223.1h0M1066.4 353.3h0M1085.4 373.4h0M1097.1 300.5h0M1110.7 333.5h0M1082.0 313.3h0M1082.8 246.8h0M1114.4 377.9h0M1074.2 318.0h0M1088.4 288.4h0M1073.7 292.2h0M1081.8 273.9h0M1064.1 294.6h0M1052.1 264.0h0M1084.4 352.2h0M1072.0 219.5h0M1052.4 279.9h0M1098.5 310.2h0M1054.5 386.7h0M1075.9 278.7h0M1053.8 333.1h0M1096.5 275.4h0M1050.3 398.5h0M1083.2 371.2h0M1093.9 310.3h0M1096.9 328.9h0M1078.1 230.7h0M1102.1 301.2h0M1059.5 287.5h0M1100.5 367.3h0M1083.1 365.2h0M1112.8 383.5h0M1061.3 297.0h0M1078.6 327.9h0M1045.0 313.3h0M1044.8 391.0h0M1073.3 242.3h0M1077.3 374.9h0M1065.1 231.9h0M1069.4 394.5h0M1058.4 368.2h0M1106.0 336.9h0M1085.7 331.8h0M1104.1 330.8h0M1079.7 276.0h0M1037.5 335.2h0M1097.4 334.8h0M1099.1 276.4h0" stroke="#fcbe86" stroke-width="5.20"/>
<path d="M1113.4 208.5h0M1075.4 283.5h0M1071.6 236.1h0M1071.1 359.9h0M1075.3 270.4h0M1074.1 367.0h0M1052.6 228.1h0M1059.2 403.3h0M1087.5 267.4h0M1093.6 290.9h0M1083.1 341.6h0M1091.8 278.1h0M1044.8 321.5h0M1065.7 323.4h0M1047.4 365.9h0M1055.3 374.8h0M1056.4 245.1h0M1050.4 411.2h0M1063.6 279.2h0M1118.9 371.7h0M1127.7 217.0h0M1057.5 356.9h0M1043.3 360.8h0M1070.8 276.2h0M1084.3 317.9h0M1096.0 268.0h0M1054.4 294.4h0M1086.2 378.1h0M1084.8 390.7h0M1068.2 385.0h0M1041.7 393.8h0M1108.1 297.9h0M1089.4 266.7h0M1068.8 285.7h0M1049.1 365.6h0M1055.0 319.5h0M1081.3 367.4h0M1065.2 363.3h0M1117.0 224.1h0M1105.0 366.0h0M1130.8 305.8h0M1097.2 369.6h0M1037.2 388.9h0M1127.2 304.9h0M1069.7 321.7h0M1071.3 272.3h0M1055.9 277.4h0M1083.9 280.2h0M1091.2 287.4h0M1079.7 305.2h0M1075.8 253.6h0M1068.0 357.2h0M1076.0 233.5h0M1042.1 356.3h0M1067.4 250.2h0M1098.1 375.5h0M1101.4 299.8h0M1092.5 286.2h0M1104.6 336.9h0M1039.9 374.5h0M1092.7 271.4h0M1092.1 282.8h0M1077.8 210.3h0M1064.2 233.2h0M1088.9 411.9h0M1088.5 247.0h0" stroke="#d89f70" stroke-width="6.00"/>
<path d="M1113.4 208.5h0M1075.4 283.5h0M1071.6 236.1h0M1071.1 359.9h0M1075.3 270.4h0M1074.1 367.0h0M1052.6 228.1h0M1059.2 403.3h0M1087.5 267.4h0M1093.6 290.9h0M1083.1 341.6h0M1091.8 278.1h0M1044.8 321.5h0M1065.7 323.4h0M1047.4 365.9h0M1055.3 374.8h0M1056.4 245.1h0M1050.4 411.2h0M1063.6 279.2h0M1118.9 371.7h0M1127.7 217.0h0M1057.5 356.9h0M1043.3 360.8h0M1070.8 276.2h0M1084.3 317.9h0M1096.0 268.0h0M1054.4 294.4h0M1086.2 378.1h0M1084.8 390.7h0M1068.2 385.0h0M1041.7 393.8h0M1108.1 297.9h0M1089.4 266.7h0M1068.8 285.7h0M1049.1 365.6h0M1055.0 319.5h0M1081.3 367.4h0M1065.2 363.3h0M1117.0 224.1h0M1105.0 366.0h0M1130.8 305.8h0M1097.2 369.6h0M1037.2 388.9h0M1127.2 304.9h0M1069.7 321.7h0M1071.3 272.3h0M1055.9 277.4h0M1083.9 280.2h0M1091.2 287.4h0M1079.7 305.2h0M1075.8 253.6h0M1068.0 357.2h0M1076.0 233.5h0M1042.1 356.3h0M1067.4 250.2h0M1098.1 375.5h0M1101.4 299.8h0M1092.5 286.2h0M1104.6 336.9h0M1039.9 374.5h0M1092.7 271.4h0M1092.1 282.8h0M1077.8 210.3h0M1064.2 233.2h0M1088.9 411.9h0M1088.5 247.0h0" stroke="#fcb983" stroke-width="5.20"/>
<path d="M1085.4 280.2h0M1071.1 388.4h0M1066.3 246.2h0M1055.4 261.0h0M1060.2 269.4h0M1038.9 284.1h0M1085.7 397.1h0M1074.6 288.2h0M1070.8 323.3h0M1039.7 358.1h0M1080.1 292.0h0M1057.3 322.6h0M1090.5 293.9h0M1031.6 406.3h0M1040.4 403.2h0M1056.6 330.0h0M1087.9 271.1h0M1036.7 393.4h0M1053.2 344.9h0M1081.7 295.9h0M1058.9 355.1h0M1070.0 293.1h0M1068.3 373.3h0M1048.8 400.3h0M1102.5 387.9h0M1050.8 383.0h0M1052.0 348.1h0M1052.1 379.4h0M1079.2 306.1h0M1053.3 389.3h0M1039.1 390.9h0M1070.9 379.9h0M1042.9 364.8h0M1061.1 368.9h0M1077.8 335.2h0M1039.9 388.1h0M1065.6 284.8h0" stroke="#d89a6e" stroke-width="6.00"/>
<path d="M1085.4 280.2h0M1071.1 388.4h0M1066.3 246.2h0M1055.4 261.0h0M1060.2 269.4h0M1038.9 284.1h0M1085.7 397.1h0M1074.6 288.2h0M1070.8 323.3h0M1039.7 358.1h0M1080.1 292.0h0M1057.3 322.6h0M1090.5 293.9h0M1031.6 406.3h0M1040.4 403.2h0M1056.6 330.0h0M1087.9 271.1h0M1036.7 393.4h0M1053.2 344.9h0M1081.7 295.9h0M1058.9 355.1h0M1070.0 293.1h0M1068.3 373.3h0M1048.8 400.3h0M1102.5 387.9h0M1050.8 383.0h0M1052.0 348.1h0M1052.1 379.4h0M1079.2 306.1h0M1053.3 389.3h0M1039.1 390.9h0M1070.9 379.9h0M1042.9 364.8h0M1061.1 368.9h0M1077.8 335.2h0M1039.9 388.1h0M1065.6 284.8h0" stroke="#fcb480" stroke-width="5.20"/>
<path d="M1021.5 369.1h0M1086.0 350.2h0M1018.3 292.6h0M1062.4 383.3h0M1036.9 378.9h0M1118.6 309.0h0M995.0 394.6h0M1044.6 373.1h0M1070.1 237.1h0M1041.4 322.8h0M1054.3 265.2h0M1085.4 392.2h0M1028.6 263.9h0M1043.5 326.5h0M1036.8 379.7h0M1043.1 267.4h0M1107.7 382.1h0M1125.4 280.5h0M1035.2 401.2h0M1037.9 324.1h0M1045.0 391.6h0M1023.9 407.1h0M1091.4 307.5h0M1081.7 367.5h0M1042.6 343.3h0M1037.5 320.8h0M1046.8 384.6h0M1097.3 375.9h0M1048.4 327.7h0M1003.5 312.7h0M1087.5 284.3h0M1052.4 230.6h0M1034.7 308.8h0" stroke="#d7956a" stroke-width="6.00"/>
<path d="M1021.5 369.1h0M1086.0 350.2h0M1018.3 292.6h0M1062.4 383.3h0M1036.9 378.9h0M1118.6 309.0h0M995.0 394.6h0M1044.6 373.1h0M1070.1 237.1h0M1041.4 322.8h0M1054.3 265.2h0M1085.4 392.2h0M1028.6 263.9h0M1043.5 326.5h0M1036.8 379.7h0M1043.1 267.4h0M1107.7 382.1h0M1125.4 280.5h0M1035.2 401.2h0M1037.9 324.1h0M1045.0 391.6h0M1023.9 407.1h0M1091.4 307.5h0M1081.7 367.5h0M1042.6 343.3h0M1037.5 320.8h0M1046.8 384.6h0M1097.3 375.9h0M1048.4 327.7h0M1003.5 312.7h0M1087.5 284.3h0M1052.4 230.6h0M1034.7 308.8h0" stroke="#fbae7c" stroke-width="5.20"/>
<path d="M1025.3 372.4h0M1093.1 261.5h0M1040.2 367.8h0M1066.6 420.5h0M1001.4 438.2h0M1046.4 439.2h0M1027.7 290.0h0M1025.7 265.5h0M1011.3 310.9h0M1083.5 376.5h0M1039.5 300.0h0M1013.1 298.2h0M1020.1 369.8h0M1004.6 377.4h0M1015.4 276.7h0M1019.1 355.4h0M1046.6 323.3h0M1008.5 359.3h0M1033.4 299.6h0M1052.4 199.7h0M1038.4 289.9h0M1090.6 417.7h0M1038.4 254.3h0M1031.5 380.5h0M1029.3 387.2h0M1025.2 332.6h0M1029.0 407.4h0M1023.5 297.2h0M1021.8 385.5h0M1020.7 352.9h0M990.8 401.2h0M1035.1 351.1h0M1025.3 339.8h0M1025.1 223.1h0M1034.0 266.4h0M1017.6 344.4h0" stroke="#d79168" stroke-width="6.00"/>
<path d="M1025.3 372.4h0M1093.1 261.5h0M1040.2 367.8h0M1066.6 420.5h0M1001.4 438.2h0M1046.4 439.2h0M1027.7 290.0h0M1025.7 265.5h0M1011.3 310.9h0M1083.5 376.5h0M1039.5 300.0h0M1013.1 298.2h0M1020.1 369.8h0M1004.6 377.4h0M1015.4 276.7h0M1019.1 355.4h0M1046.6 323.3h0M1008.5 359.3h0M1033.4 299.6h0M1052.4 199.7h0M1038.4 289.9h0M1090.6 417.7h0M1038.4 254.3h0M1031.5 380.5h0M1029.3 387.2h0M1025.2 332.6h0M1029.0 407.4h0M1023.5 297.2h0M1021.8 385.5h0M1020.7 352.9h0M990.8 401.2h0M1035.1 351.1h0M1025.3 339.8h0M1025.1 223.1h0M1034.0 266.4h0M1017.6 344.4h0" stroke="#faa97a" stroke-width="5.20"/>
<path d="M1011.1 303.1h0M1015.2 338.6h0M1026.8 323.9h0M999.9 382.0h0M1007.8 357.3h0M1006.8 317.5h0M1006.0 376.0h0M1037.1 343.5h0M1017.8 382.0h0M1025.8 302.6h0M997.8 397.6h0M1029.6 408.5h0M1019.8 308.6h0M976.6 398.2h0M1014.7 388.5h0M991.7 452.9h0M1006.2 402.4h0M1014.7 414.1h0M980.2 386.7h0M1025.0 247.7h0M1017.6 385.0h0M988.8 420.6h0M1022.0 241.9h0M1024.6 427.5h0M1016.4 425.8h0M1017.7 384.5h0M1018.9 380.8h0M1019.6 369.7h0M1004.0 286.9h0M1079.8 197.2h0M1007.3 377.1h0M1085.0 378.2h0M1026.9 337.4h0M1041.7 256.6h0M1001.5 359.6h0M976.6 409.1h0M1019.6 395.2h0M1004.5 429.8h0M1015.0 367.1h0M1009.0 359.0h0M997.3 396.6h0M999.8 376.5h0M1003.0 356.3h0M1004.9 199.8h0M1021.3 430.9h0M1016.0 377.8h0M1006.3 350.1h0M1011.7 341.7h0" stroke="#d68d67" stroke-width="6.00"/>
<path d="M1011.1 303.1h0M1015.2 338.6h0M1026.8 323.9h0M999.9 382.0h0M1007.8 357.3h0M1006.8 317.5h0M1006.0 376.0h0M1037.1 343.5h0M1017.8 382.0h0M1025.8 302.6h0M997.8 397.6h0M1029.6 408.5h0M1019.8 308.6h0M976.6 398.2h0M1014.7 388.5h0M991.7 452.9h0M1006.2 402.4h0M1014.7 414.1h0M980.2 386.7h0M1025.0 247.7h0M1017.6 385.0h0M988.8 420.6h0M1022.0 241.9h0M1024.6 427.5h0M1016.4 425.8h0M1017.7 384.5h0M1018.9 380.8h0M1019.6 369.7h0M1004.0 286.9h0M1079.8 197.2h0M1007.3 377.1h0M1085.0 378.2h0M1026.9 337.4h0M1041.7 256.6h0M1001.5 359.6h0M976.6 409.1h0M1019.6 395.2h0M1004.5 429.8h0M1015.0 367.1h0M1009.0 359.0h0M997.3 396.6h0M999.8 376.5h0M1003.0 356.3h0M1004.9 199.8h0M1021.3 430.9h0M1016.0 377.8h0M1006.3 350.1h0M1011.7 341.7h0" stroke="#f9a478" stroke-width="5.20"/>
<path d="M998.9 404.5h0M993.6 395.0h0M965.4 457.6h0M988.4 443.5h0M971.7 374.5h0M993.6 405.5h0M982.7 465.5h0M1024.9 269.4h0M1016.7 339.1h0M984.8 372.9h0M1004.4 365.7h0M1000.3 254.5h0M1006.2 373.8h0M996.1 269.3h0M1010.5 279.9h0M985.5 445.9h0M1000.5 337.2h0M974.1 390.1h0M1013.9 295.0h0M1014.6 273.6h0M981.2 410.9h0M1016.9 321.8h0M964.9 397.8h0M981.5 379.2h0M1014.8 301.3h0M1017.8 278.1h0M1010.2 287.8h0M1010.7 385.1h0M1023.9 351.2h0M1009.0 446.1h0M997.9 403.7h0M1009.8 298.2h0M1011.6 271.8h0M1014.6 350.1h0M996.3 364.5h0M1034.8 303.6h0M1011.5 326.9h0M1001.8 265.0h0M1014.7 362.5h0M1010.5 462.2h0M1009.5 280.8h0M997.5 393.2h0M989.6 404.3h0M1017.6 374.8h0M1016.6 284.8h0M1003.6 460.1h0M1016.5 323.9h0M1023.5 367.7h0M973.8 385.2h0M1026.9 248.3h0M1005.3 361.1h0M995.6 392.1h0M1006.3 350.9h0M1026.8 294.2h0M993.0 480.3h0M1029.9 344.1h0M1006.8 292.8h0M1000.2 370.0h0" stroke="#d58864" stroke-width="6.00"/>
<path d="M998.9 404.5h0M993.6 395.0h0M965.4 457.6h0M988.4 443.5h0M971.7 374.5h0M993.6 405.5h0M982.7 465.5h0M1024.9 269.4h0M1016.7 339.1h0M984.8 372.9h0M1004.4 365.7h0M1000.3 254.5h0M1006.2 373.8h0M996.1 269.3h0M1010.5 279.9h0M985.5 445.9h0M1000.5 337.2h0M974.1 390.1h0M1013.9 295.0h0M1014.6 273.6h0M981.2 410.9h0M1016.9 321.8h0M964.9 397.8h0M981.5 379.2h0M1014.8 301.3h0M1017.8 278.1h0M1010.2 287.8h0M1010.7 385.1h0M1023.9 351.2h0M1009.0 446.1h0M997.9 403.7h0M1009.8 298.2h0M1011.6 271.8h0M1014.6 350.1h0M996.3 364.5h0M1034.8 303.6h0M1011.5 326.9h0M1001.8 265.0h0M1014.7 362.5h0M1010.5 462.2h0M1009.5 280.8h0M997.5 393.2h0M989.6 404.3h0M1017.6 374.8h0M1016.6 284.8h0M1003.6 460.1h0M1016.5 323.9h0M1023.5 367.7h0M973.8 385.2h0M1026.9 248.3h0M1005.3 361.1h0M995.6 392.1h0M1006.3 350.9h0M1026.8 294.2h0M993.0 480.3h0M1029.9 344.1h0M1006.8 292.8h0M1000.2 370.0h0" stroke="#f89f75" stroke-width="5.20"/>
<path d="M1007.8 324.9h0M1012.6 342.7h0M993.6 384.2h0M983.2 392.2h0M1014.1 273.0h0M995.0 378.1h0M949.6 458.6h0M973.1 395.7h0M996.8 392.1h0M975.6 410.0h0M1003.3 274.0h0M996.9 379.4h0M1018.0 323.5h0M1012.7 354.3h0M1008.6 383.4h0M996.3 384.9h0M913.8 483.9h0M961.8 392.4h0M969.3 375.1h0M973.8 375.0h0M1019.9 348.5h0M987.1 361.0h0M1003.7 309.6h0M986.0 368.0h0M973.3 373.2h0M990.2 403.7h0M999.2 369.0h0M1004.0 334.5h0M977.3 448.3h0M990.3 385.6h0M998.0 449.0h0M1022.5 306.7h0M991.8 336.1h0M1004.0 386.8h0M1015.0 364.4h0M1007.8 299.7h0M987.5 387.7h0M1009.5 308.5h0M926.2 454.7h0M999.1 360.2h0M1017.7 374.8h0M974.5 411.9h0M1015.9 347.9h0M1007.3 356.5h0M979.5 411.4h0M983.6 412.6h0M1012.7 359.5h0M1010.3 383.4h0M984.0 383.0h0M1022.1 273.6h0M934.1 472.1h0M989.3 318.5h0M1000.7 344.7h0M980.5 387.7h0M1015.1 335.7h0M932.1 443.6h0M1006.8 360.1h0M921.2 393.1h0M1007.6 355.2h0M1025.0 315.0h0M1008.3 272.2h0M1007.9 270.2h0M985.0 291.4h0M995.7 306.3h0M1006.0 344.5h0M1008.7 269.3h0M997.5 372.4h0M963.8 438.5h0M983.5 389.6h0M999.6 284.8h0M999.3 357.6h0M1001.6 260.3h0" stroke="#d38462" stroke-width="6.00"/>
<path d="M1007.8 324.9h0M1012.6 342.7h0M993.6 384.2h0M983.2 392.2h0M1014.1 273.0h0M995.0 378.1h0M949.6 458.6h0M973.1 395.7h0M996.8 392.1h0M975.6 410.0h0M1003.3 274.0h0M996.9 379.4h0M1018.0 323.5h0M1012.7 354.3h0M1008.6 383.4h0M996.3 384.9h0M913.8 483.9h0M961.8 392.4h0M969.3 375.1h0M973.8 375.0h0M1019.9 348.5h0M987.1 361.0h0M1003.7 309.6h0M986.0 368.0h0M973.3 373.2h0M990.2 403.7h0M999.2 369.0h0M1004.0 334.5h0M977.3 448.3h0M990.3 385.6h0M998.0 449.0h0M1022.5 306.7h0M991.8 336.1h0M1004.0 386.8h0M1015.0 364.4h0M1007.8 299.7h0M987.5 387.7h0M1009.5 308.5h0M926.2 454.7h0M999.1 360.2h0M1017.7 374.8h0M974.5 411.9h0M1015.9 347.9h0M1007.3 356.5h0M979.5 411.4h0M983.6 412.6h0M1012.7 359.5h0M1010.3 383.4h0M984.0 383.0h0M1022.1 273.6h0M934.1 472.1h0M989.3 318.5h0M1000.7 344.7h0M980.5 387.7h0M1015.1 335.7h0M932.1 443.6h0M1006.8 360.1h0M921.2 393.1h0M1007.6 355.2h0M1025.0 315.0h0M1008.3 272.2h0M1007.9 270.2h0M985.0 291.4h0M995.7 306.3h0M1006.0 344.5h0M1008.7 269.3h0M997.5 372.4h0M963.8 438.5h0M983.5 389.6h0M999.6 284.8h0M999.3 357.6h0M1001.6 260.3h0" stroke="#f69a73" stroke-width="5.20"/>
<path d="M984.0 379.9h0M982.2 363.6h0M989.2 387.9h0M995.6 361.8h0M929.0 488.2h0M999.4 338.9h0M1011.0 288.2h0M1007.6 363.8h0M972.0 354.1h0M945.5 417.4h0M954.3 437.4h0M917.8 481.4h0M951.1 448.9h0M969.6 369.0h0M1003.2 250.2h0M948.2 417.2h0M943.9 449.3h0M1002.1 360.5h0M1012.2 291.7h0M1028.2 397.5h0M950.5 433.6h0M908.1 413.9h0M911.3 488.9h0M979.2 361.1h0M969.6 382.4h0M994.7 286.2h0M921.6 459.6h0M987.6 430.6h0M987.3 342.1h0M1000.1 388.9h0M968.9 404.5h0M984.7 350.1h0M976.7 444.0h0M977.7 357.9h0M1025.0 220.4h0M979.0 416.1h0M978.1 442.2h0M1013.6 238.9h0M982.9 423.2h0M967.1 408.5h0M985.9 399.3h0M954.3 396.4h0M934.7 458.0h0M996.8 362.9h0M1006.2 378.3h0M1003.7 375.4h0M980.3 395.3h0M1006.5 354.2h0M997.9 344.7h0M1007.1 317.1h0M1016.1 292.1h0M984.8 320.4h0M898.9 410.1h0M907.3 422.3h0M969.7 399.6h0M979.4 348.0h0M992.2 324.1h0M1007.3 380.6h0M1010.3 282.2h0M984.2 242.5h0M992.6 289.8h0M1003.5 389.9h0M988.4 279.6h0M1014.6 286.4h0M989.2 377.5h0M1026.8 347.4h0M998.4 363.4h0M1012.2 243.8h0M900.3 431.7h0M991.2 425.2h0M1014.2 357.4h0M927.8 440.8h0M925.0 523.7h0M926.1 411.5h0M1003.1 265.0h0M1004.0 299.5h0" stroke="#d28061" stroke-width="6.00"/>
<path d="M984.0 379.9h0M982.2 363.6h0M989.2 387.9h0M995.6 361.8h0M929.0 488.2h0M999.4 338.9h0M1011.0 288.2h0M1007.6 363.8h0M972.0 354.1h0M945.5 417.4h0M954.3 437.4h0M917.8 481.4h0M951.1 448.9h0M969.6 369.0h0M1003.2 250.2h0M948.2 417.2h0M943.9 449.3h0M1002.1 360.5h0M1012.2 291.7h0M1028.2 397.5h0M950.5 433.6h0M908.1 413.9h0M911.3 488.9h0M979.2 361.1h0M969.6 382.4h0M994.7 286.2h0M921.6 459.6h0M987.6 430.6h0M987.3 342.1h0M1000.1 388.9h0M968.9 404.5h0M984.7 350.1h0M976.7 444.0h0M977.7 357.9h0M1025.0 220.4h0M979.0 416.1h0M978.1 442.2h0M1013.6 238.9h0M982.9 423.2h0M967.1 408.5h0M985.9 399.3h0M954.3 396.4h0M934.7 458.0h0M996.8 362.9h0M1006.2 378.3h0M1003.7 375.4h0M980.3 395.3h0M1006.5 354.2h0M997.9 344.7h0M1007.1 317.1h0M1016.1 292.1h0M984.8 320.4h0M898.9 410.1h0M907.3 422.3h0M969.7 399.6h0M979.4 348.0h0M992.2 324.1h0M1007.3 380.6h0M1010.3 282.2h0M984.2 242.5h0M992.6 289.8h0M1003.5 389.9h0M988.4 279.6h0M1014.6 286.4h0M989.2 377.5h0M1026.8 347.4h0M998.4 363.4h0M1012.2 243.8h0M900.3 431.7h0M991.2 425.2h0M1014.2 357.4h0M927.8 440.8h0M925.0 523.7h0M926.1 411.5h0M1003.1 265.0h0M1004.0 299.5h0" stroke="#f59571" stroke-width="5.20"/>
<path d="M990.8 289.6h0M958.1 407.9h0M922.8 384.0h0M1002.0 300.1h0M901.6 454.6h0M989.7 368.8h0M947.7 418.1h0M959.8 384.7h0M992.2 370.5h0M905.9 431.5h0M946.9 492.6h0M922.1 443.1h0M943.9 431.4h0M942.8 438.2h0M959.1 444.5h0M974.2 480.4h0M894.5 437.1h0M1000.0 227.8h0M930.2 377.3h0M986.4 262.8h0M965.9 392.8h0M943.7 415.7h0M900.4 423.0h0M998.1 348.2h0M901.2 404.4h0M957.7 396.0h0M938.4 426.0h0M1018.5 401.5h0M937.1 378.4h0M932.7 547.0h0M942.4 412.6h0M941.3 414.4h0M1001.9 391.8h0M989.8 328.1h0M944.1 432.5h0M966.0 386.4h0M961.4 404.6h0M998.2 362.4h0M994.3 346.9h0M951.7 415.1h0M982.2 343.3h0M912.9 439.6h0M964.7 434.4h0M991.0 361.2h0M911.9 438.2h0M983.1 348.7h0M983.3 384.5h0M951.5 450.9h0M897.9 486.6h0M951.9 441.1h0M969.3 366.6h0M939.0 405.5h0M929.1 525.7h0M968.8 410.8h0M969.6 410.1h0M929.2 487.6h0M964.8 406.9h0M993.4 250.4h0M976.4 387.0h0M986.3 347.2h0M970.8 385.1h0M955.3 371.4h0M969.0 402.8h0M963.0 395.8h0M977.5 387.2h0M919.4 402.7h0M926.4 416.7h0M934.6 415.4h0M1000.8 258.0h0M904.9 470.8h0M923.9 473.3h0M1004.2 427.0h0M968.0 408.2h0M893.6 459.5h0M950.4 369.8h0M984.0 378.4h0M962.3 442.9h0M982.5 207.9h0M998.9 230.8h0M908.9 400.8h0M982.3 287.3h0M934.9 389.5h0M1017.2 389.1h0M1006.1 245.3h0M900.4 416.3h0M959.2 380.4h0M1010.2 326.2h0M901.5 492.6h0M929.9 452.4h0M916.9 508.4h0M889.6 449.1h0M1000.2 250.9h0M951.2 426.7h0M999.9 362.3h0M920.9 417.5h0M966.9 485.9h0M993.0 341.5h0M1009.1 313.9h0M989.1 372.7h0M966.0 443.2h0M952.4 428.7h0M884.8 466.5h0M919.0 402.9h0M999.9 331.5h0M913.0 499.4h0M1012.5 199.3h0M954.4 432.1h0M886.5 427.6h0M989.6 271.1h0M930.2 473.7h0M1007.1 359.5h0M1001.2 360.3h0M899.0 486.2h0M977.4 330.2h0M904.0 480.4h0M978.1 382.3h0M955.2 415.9h0M960.6 404.9h0M952.1 378.5h0M940.5 364.0h0M941.7 444.9h0M916.2 413.7h0M943.0 421.6h0M929.1 497.7h0M1014.3 361.5h0M961.8 369.0h0M1014.4 304.9h0M974.7 371.3h0M921.4 469.5h0M992.7 320.5h0M942.9 422.7h0M916.9 429.7h0M931.0 483.8h0M902.0 418.9h0M1006.7 296.1h0M989.0 321.9h0M996.5 352.0h0M921.2 428.8h0M911.0 488.5h0M980.6 468.5h0M993.4 350.0h0M990.4 452.3h0M952.7 490.7h0M915.8 441.0h0" stroke="#d07a60" stroke-width="6.00"/>
<path d="M990.8 289.6h0M958.1 407.9h0M922.8 384.0h0M1002.0 300.1h0M901.6 454.6h0M989.7 368.8h0M947.7 418.1h0M959.8 384.7h0M992.2 370.5h0M905.9 431.5h0M946.9 492.6h0M922.1 443.1h0M943.9 431.4h0M942.8 438.2h0M959.1 444.5h0M974.2 480.4h0M894.5 437.1h0M1000.0 227.8h0M930.2 377.3h0M986.4 262.8h0M965.9 392.8h0M943.7 415.7h0M900.4 423.0h0M998.1 348.2h0M901.2 404.4h0M957.7 396.0h0M938.4 426.0h0M1018.5 401.5h0M937.1 378.4h0M932.7 547.0h0M942.4 412.6h0M941.3 414.4h0M1001.9 391.8h0M989.8 328.1h0M944.1 432.5h0M966.0 386.4h0M961.4 404.6h0M998.2 362.4h0M994.3 346.9h0M951.7 415.1h0M982.2 343.3h0M912.9 439.6h0M964.7 434.4h0M991.0 361.2h0M911.9 438.2h0M983.1 348.7h0M983.3 384.5h0M951.5 450.9h0M897.9 486.6h0M951.9 441.1h0M969.3 366.6h0M939.0 405.5h0M929.1 525.7h0M968.8 410.8h0M969.6 410.1h0M929.2 487.6h0M964.8 406.9h0M993.4 250.4h0M976.4 387.0h0M986.3 347.2h0M970.8 385.1h0M955.3 371.4h0M969.0 402.8h0M963.0 395.8h0M977.5 387.2h0M919.4 402.7h0M926.4 416.7h0M934.6 415.4h0M1000.8 258.0h0M904.9 470.8h0M923.9 473.3h0M1004.2 427.0h0M968.0 408.2h0M893.6 459.5h0M950.4 369.8h0M984.0 378.4h0M962.3 442.9h0M982.5 207.9h0M998.9 230.8h0M908.9 400.8h0M982.3 287.3h0M934.9 389.5h0M1017.2 389.1h0M1006.1 245.3h0M900.4 416.3h0M959.2 380.4h0M1010.2 326.2h0M901.5 492.6h0M929.9 452.4h0M916.9 508.4h0M889.6 449.1h0M1000.2 250.9h0M951.2 426.7h0M999.9 362.3h0M920.9 417.5h0M966.9 485.9h0M993.0 341.5h0M1009.1 313.9h0M989.1 372.7h0M966.0 443.2h0M952.4 428.7h0M884.8 466.5h0M919.0 402.9h0M999.9 331.5h0M913.0 499.4h0M1012.5 199.3h0M954.4 432.1h0M886.5 427.6h0M989.6 271.1h0M930.2 473.7h0M1007.1 359.5h0M1001.2 360.3h0M899.0 486.2h0M977.4 330.2h0M904.0 480.4h0M978.1 382.3h0M955.2 415.9h0M960.6 404.9h0M952.1 378.5h0M940.5 364.0h0M941.7 444.9h0M916.2 413.7h0M943.0 421.6h0M929.1 497.7h0M1014.3 361.5h0M961.8 369.0h0M1014.4 304.9h0M974.7 371.3h0M921.4 469.5h0M992.7 320.5h0M942.9 422.7h0M916.9 429.7h0M931.0 483.8h0M902.0 418.9h0M1006.7 296.1h0M989.0 321.9h0M996.5 352.0h0M921.2 428.8h0M911.0 488.5h0M980.6 468.5h0M993.4 350.0h0M990.4 452.3h0M952.7 490.7h0M915.8 441.0h0" stroke="#f28f70" stroke-width="5.20"/>
<path d="M911.3 416.0h0M910.0 504.2h0M990.2 223.1h0M975.8 385.2h0M944.9 424.4h0M917.8 387.3h0M892.5 419.7h0M932.0 445.6h0M920.3 473.6h0M1009.3 389.8h0M995.8 334.1h0M961.5 378.6h0M932.2 548.0h0M1000.8 320.3h0M926.1 450.7h0M941.2 438.8h0M991.3 402.6h0M935.9 387.4h0M923.5 405.8h0M906.1 430.2h0M980.5 225.5h0M934.4 430.2h0M950.6 405.3h0M937.6 401.3h0M944.2 418.8h0M995.6 265.2h0M903.6 455.4h0M926.3 424.7h0M902.6 493.3h0M966.9 401.7h0M925.1 406.3h0M899.6 394.8h0M965.3 400.1h0M946.8 387.6h0M921.9 463.3h0M914.0 495.6h0M960.6 417.7h0M901.3 458.6h0M961.5 423.4h0M928.4 429.7h0M964.8 413.2h0M951.0 423.3h0M915.8 478.0h0M926.4 460.9h0M992.1 327.8h0M947.8 399.5h0M970.9 414.5h0M921.2 478.2h0M928.0 430.2h0M998.0 353.0h0M911.1 395.7h0M915.7 420.1h0M995.3 404.9h0M929.3 452.5h0M952.7 451.7h0M936.8 531.7h0M995.1 461.4h0M966.3 415.4h0M952.4 385.4h0M972.3 380.6h0M995.6 332.4h0M933.9 445.7h0M912.9 491.3h0M959.9 345.7h0M949.1 377.9h0M986.1 345.7h0M956.1 421.7h0M982.4 337.9h0M908.6 435.4h0M970.2 370.1h0M941.0 471.9h0M879.9 441.2h0M958.1 424.4h0M986.6 368.3h0M920.4 493.4h0M897.2 424.4h0M945.5 382.2h0M917.1 407.7h0M955.0 414.8h0M943.7 486.5h0M898.7 448.2h0M927.8 399.6h0M903.0 466.5h0M956.4 449.4h0M902.6 433.3h0M936.4 402.9h0M915.7 464.4h0M953.8 411.7h0M951.8 433.3h0M922.9 428.0h0M918.7 433.2h0M995.7 374.5h0M912.3 401.3h0M900.5 491.3h0M962.5 225.6h0M950.7 375.3h0M922.2 449.2h0M926.5 455.2h0M980.3 334.8h0M918.1 399.6h0M988.5 343.4h0M920.5 356.0h0M971.7 446.4h0M914.5 431.6h0M897.8 442.0h0M921.3 524.9h0M962.7 408.9h0M923.3 447.9h0M945.9 390.0h0M996.1 317.3h0M931.1 352.9h0M947.8 431.9h0M912.9 441.1h0M906.0 458.2h0M926.9 426.3h0M938.3 420.0h0M977.6 351.6h0M904.6 457.9h0M911.0 421.0h0M936.4 424.4h0M883.6 461.4h0M900.5 482.5h0M894.4 404.3h0M896.1 411.5h0M951.7 387.3h0M930.0 469.1h0M896.1 486.6h0M953.4 481.3h0M943.1 406.0h0M918.3 393.5h0M899.5 437.0h0M922.5 413.5h0M960.3 385.6h0M902.8 443.7h0M902.8 462.6h0M928.2 422.2h0M981.5 298.7h0M899.5 487.7h0M945.1 414.1h0M883.3 451.1h0M896.4 477.5h0M950.0 400.3h0M929.2 429.4h0M902.6 410.3h0M888.2 435.8h0M983.1 356.2h0M910.6 421.8h0M912.7 384.8h0M901.0 475.6h0M915.6 382.7h0M1013.0 319.5h0M948.8 353.8h0M873.9 442.7h0M998.6 344.7h0M950.8 469.9h0M940.6 391.9h0M901.0 409.5h0M942.3 369.9h0M920.8 390.5h0M927.6 464.0h0M951.8 505.9h0M971.3 408.3h0M890.4 411.7h0M928.1 404.1h0M916.1 418.5h0M889.1 440.6h0M924.7 407.7h0M917.7 425.8h0M1000.0 333.4h0M932.0 408.6h0M1005.9 328.7h0M979.5 278.9h0M895.9 457.7h0M938.3 406.7h0M1002.4 261.5h0M896.3 470.7h0M925.5 399.5h0M919.4 471.4h0M996.5 260.6h0M932.9 382.4h0M894.6 444.9h0M904.8 408.2h0M908.5 486.3h0M908.5 472.9h0M935.0 478.9h0M948.8 371.7h0M956.9 436.4h0M985.6 295.3h0M917.0 471.4h0M959.0 391.7h0M906.9 426.7h0M908.1 462.4h0" stroke="#ce765e" stroke-width="6.00"/>
<path d="M911.3 416.0h0M910.0 504.2h0M990.2 223.1h0M975.8 385.2h0M944.9 424.4h0M917.8 387.3h0M892.5 419.7h0M932.0 445.6h0M920.3 473.6h0M1009.3 389.8h0M995.8 334.1h0M961.5 378.6h0M932.2 548.0h0M1000.8 320.3h0M926.1 450.7h0M941.2 438.8h0M991.3 402.6h0M935.9 387.4h0M923.5 405.8h0M906.1 430.2h0M980.5 225.5h0M934.4 430.2h0M950.6 405.3h0M937.6 401.3h0M944.2 418.8h0M995.6 265.2h0M903.6 455.4h0M926.3 424.7h0M902.6 493.3h0M966.9 401.7h0M925.1 406.3h0M899.6 394.8h0M965.3 400.1h0M946.8 387.6h0M921.9 463.3h0M914.0 495.6h0M960.6 417.7h0M901.3 458.6h0M961.5 423.4h0M928.4 429.7h0M964.8 413.2h0M951.0 423.3h0M915.8 478.0h0M926.4 460.9h0M992.1 327.8h0M947.8 399.5h0M970.9 414.5h0M921.2 478.2h0M928.0 430.2h0M998.0 353.0h0M911.1 395.7h0M915.7 420.1h0M995.3 404.9h0M929.3 452.5h0M952.7 451.7h0M936.8 531.7h0M995.1 461.4h0M966.3 415.4h0M952.4 385.4h0M972.3 380.6h0M995.6 332.4h0M933.9 445.7h0M912.9 491.3h0M959.9 345.7h0M949.1 377.9h0M986.1 345.7h0M956.1 421.7h0M982.4 337.9h0M908.6 435.4h0M970.2 370.1h0M941.0 471.9h0M879.9 441.2h0M958.1 424.4h0M986.6 368.3h0M920.4 493.4h0M897.2 424.4h0M945.5 382.2h0M917.1 407.7h0M955.0 414.8h0M943.7 486.5h0M898.7 448.2h0M927.8 399.6h0M903.0 466.5h0M956.4 449.4h0M902.6 433.3h0M936.4 402.9h0M915.7 464.4h0M953.8 411.7h0M951.8 433.3h0M922.9 428.0h0M918.7 433.2h0M995.7 374.5h0M912.3 401.3h0M900.5 491.3h0M962.5 225.6h0M950.7 375.3h0M922.2 449.2h0M926.5 455.2h0M980.3 334.8h0M918.1 399.6h0M988.5 343.4h0M920.5 356.0h0M971.7 446.4h0M914.5 431.6h0M897.8 442.0h0M921.3 524.9h0M962.7 408.9h0M923.3 447.9h0M945.9 390.0h0M996.1 317.3h0M931.1 352.9h0M947.8 431.9h0M912.9 441.1h0M906.0 458.2h0M926.9 426.3h0M938.3 420.0h0M977.6 351.6h0M904.6 457.9h0M911.0 421.0h0M936.4 424.4h0M883.6 461.4h0M900.5 482.5h0M894.4 404.3h0M896.1 411.5h0M951.7 387.3h0M930.0 469.1h0M896.1 486.6h0M953.4 481.3h0M943.1 406.0h0M918.3 393.5h0M899.5 437.0h0M922.5 413.5h0M960.3 385.6h0M902.8 443.7h0M902.8 462.6h0M928.2 422.2h0M981.5 298.7h0M899.5 487.7h0M945.1 414.1h0M883.3 451.1h0M896.4 477.5h0M950.0 400.3h0M929.2 429.4h0M902.6 410.3h0M888.2 435.8h0M983.1 356.2h0M910.6 421.8h0M912.7 384.8h0M901.0 475.6h0M915.6 382.7h0M1013.0 319.5h0M948.8 353.8h0M873.9 442.7h0M998.6 344.7h0M950.8 469.9h0M940.6 391.9h0M901.0 409.5h0M942.3 369.9h0M920.8 390.5h0M927.6 464.0h0M951.8 505.9h0M971.3 408.3h0M890.4 411.7h0M928.1 404.1h0M916.1 418.5h0M889.1 440.6h0M924.7 407.7h0M917.7 425.8h0M1000.0 333.4h0M932.0 408.6h0M1005.9 328.7h0M979.5 278.9h0M895.9 457.7h0M938.3 406.7h0M1002.4 261.5h0M896.3 470.7h0M925.5 399.5h0M919.4 471.4h0M996.5 260.6h0M932.9 382.4h0M894.6 444.9h0M904.8 408.2h0M908.5 486.3h0M908.5 472.9h0M935.0 478.9h0M948.8 371.7h0M956.9 436.4h0M985.6 295.3h0M917.0 471.4h0M959.0 391.7h0M906.9 426.7h0M908.1 462.4h0" stroke="#f08a6e" stroke-width="5.20"/>
<path d="M892.8 421.1h0M893.8 415.1h0M946.7 385.7h0M936.6 454.8h0M909.9 392.7h0M964.7 409.0h0M955.6 431.7h0M914.5 388.2h0M933.6 480.2h0M905.7 461.9h0M888.2 419.9h0M906.5 375.8h0M914.5 486.2h0M955.8 462.6h0M944.2 383.7h0M902.7 463.1h0M953.6 482.9h0M942.3 424.3h0M914.2 487.2h0M894.4 470.1h0M954.7 371.3h0M908.9 461.9h0M921.0 417.6h0M911.6 402.7h0M952.2 428.1h0M878.3 448.3h0M967.5 341.6h0M923.3 442.0h0M981.5 380.0h0M886.9 445.4h0M910.3 407.4h0M941.4 445.5h0M964.9 410.4h0M924.1 444.7h0M923.6 457.0h0M914.3 441.7h0M906.1 447.2h0M897.5 390.9h0M939.8 451.5h0M930.5 370.1h0M915.3 444.3h0M921.2 411.4h0M991.8 360.5h0M984.8 436.0h0M937.2 420.0h0M886.0 454.9h0M994.3 385.4h0M896.4 438.6h0M970.3 446.4h0M897.7 407.0h0M909.2 427.1h0M958.1 250.2h0M954.0 370.2h0M946.8 417.1h0M961.7 420.0h0M902.8 388.4h0M928.8 448.7h0M958.8 395.0h0M882.3 454.0h0M904.4 470.8h0M927.2 403.1h0M980.2 324.4h0M944.2 421.8h0M897.1 420.5h0M986.5 286.0h0M963.4 301.5h0M890.3 411.7h0M935.8 380.4h0M903.4 385.0h0M987.3 319.7h0M892.2 408.6h0M939.1 411.1h0M887.4 470.7h0M896.6 418.4h0M979.2 322.3h0M907.4 403.6h0M901.6 457.8h0M905.9 422.2h0M889.7 432.9h0M935.0 380.4h0M907.5 431.4h0M914.9 427.3h0M981.8 436.0h0M901.7 485.5h0M906.3 474.6h0M972.0 341.0h0M913.3 435.9h0M948.8 410.2h0M953.9 423.7h0M939.0 410.1h0M924.8 444.1h0M872.5 425.3h0M943.5 437.9h0M925.0 403.0h0M976.9 237.9h0M903.3 457.6h0M916.9 416.4h0M984.3 343.7h0M959.3 396.6h0M959.3 404.9h0M943.8 336.2h0M895.1 446.9h0M925.9 355.9h0M916.9 471.5h0M942.6 407.7h0M987.1 208.2h0M924.4 462.6h0M921.6 477.7h0M956.1 471.6h0M934.0 477.3h0M911.3 433.4h0M912.7 454.6h0M992.5 493.0h0M912.6 454.9h0M872.6 404.4h0M953.8 444.9h0M923.0 408.6h0M919.4 443.8h0M996.7 324.0h0M906.7 456.3h0M918.4 408.5h0M949.9 402.9h0M888.8 462.4h0M922.7 478.4h0M968.1 222.4h0M930.1 459.7h0M916.5 426.8h0M926.8 439.1h0M943.8 403.5h0M914.2 502.1h0M970.5 227.2h0M915.3 395.1h0M958.0 374.7h0M926.6 447.6h0M940.4 407.2h0M979.9 341.0h0M990.5 349.9h0M919.7 435.2h0M1006.7 333.8h0M992.9 292.4h0M931.4 376.3h0M894.3 451.3h0M892.0 419.5h0M929.9 392.8h0M889.2 403.9h0M933.0 407.0h0M946.1 365.7h0M1002.5 235.8h0M939.1 396.0h0M934.2 434.1h0M930.9 465.0h0M923.5 392.2h0M907.1 455.8h0M930.7 475.2h0M908.0 437.6h0M893.6 463.7h0M918.7 470.5h0M964.8 376.7h0M895.2 428.3h0M986.7 261.7h0M933.3 405.7h0M911.9 445.1h0M914.9 399.8h0M972.1 430.4h0M907.3 465.0h0M931.3 419.8h0M890.6 459.3h0M902.7 452.9h0M923.3 380.3h0M914.3 425.8h0M995.5 250.0h0M906.2 471.1h0M920.1 433.3h0M919.6 420.1h0M986.7 269.8h0M913.2 404.7h0M933.6 475.5h0M934.1 413.1h0M908.9 413.8h0M897.8 402.8h0M932.3 540.1h0M919.0 436.6h0M904.0 390.3h0M911.0 401.2h0M922.5 361.8h0M883.6 412.6h0M974.8 306.5h0M952.4 369.6h0M892.9 409.2h0M936.8 409.5h0M958.7 475.6h0M913.4 458.7h0M893.8 391.6h0M952.6 439.1h0M991.6 347.5h0M949.2 438.5h0M922.6 380.7h0M923.1 423.1h0M919.0 424.5h0M926.9 416.4h0M964.0 407.7h0M942.3 417.3h0M892.8 427.5h0M895.9 435.1h0M916.0 368.5h0M907.1 470.1h0M1000.8 374.4h0M918.4 466.2h0M885.6 455.0h0M906.4 472.2h0M943.7 398.0h0M935.1 405.7h0M887.0 422.3h0M949.2 410.3h0M924.5 441.2h0M928.0 441.6h0M991.0 338.8h0M936.8 431.2h0M897.5 485.0h0M901.7 417.4h0M909.0 450.8h0M910.8 421.3h0M943.4 416.2h0M885.0 459.6h0M933.6 459.2h0M923.2 397.0h0M921.9 410.8h0M967.5 466.6h0M949.5 336.5h0M928.0 368.3h0M917.5 434.6h0M898.8 428.1h0M902.2 444.9h0M975.9 251.5h0M960.1 432.4h0M899.4 413.8h0M873.0 444.7h0M905.6 402.9h0M921.1 318.2h0M923.6 419.6h0M945.5 443.5h0M907.3 466.1h0M931.2 405.6h0M914.3 388.7h0" stroke="#cc715d" stroke-width="6.00"/>
<path d="M892.8 421.1h0M893.8 415.1h0M946.7 385.7h0M936.6 454.8h0M909.9 392.7h0M964.7 409.0h0M955.6 431.7h0M914.5 388.2h0M933.6 480.2h0M905.7 461.9h0M888.2 419.9h0M906.5 375.8h0M914.5 486.2h0M955.8 462.6h0M944.2 383.7h0M902.7 463.1h0M953.6 482.9h0M942.3 424.3h0M914.2 487.2h0M894.4 470.1h0M954.7 371.3h0M908.9 461.9h0M921.0 417.6h0M911.6 402.7h0M952.2 428.1h0M878.3 448.3h0M967.5 341.6h0M923.3 442.0h0M981.5 380.0h0M886.9 445.4h0M910.3 407.4h0M941.4 445.5h0M964.9 410.4h0M924.1 444.7h0M923.6 457.0h0M914.3 441.7h0M906.1 447.2h0M897.5 390.9h0M939.8 451.5h0M930.5 370.1h0M915.3 444.3h0M921.2 411.4h0M991.8 360.5h0M984.8 436.0h0M937.2 420.0h0M886.0 454.9h0M994.3 385.4h0M896.4 438.6h0M970.3 446.4h0M897.7 407.0h0M909.2 427.1h0M958.1 250.2h0M954.0 370.2h0M946.8 417.1h0M961.7 420.0h0M902.8 388.4h0M928.8 448.7h0M958.8 395.0h0M882.3 454.0h0M904.4 470.8h0M927.2 403.1h0M980.2 324.4h0M944.2 421.8h0M897.1 420.5h0M986.5 286.0h0M963.4 301.5h0M890.3 411.7h0M935.8 380.4h0M903.4 385.0h0M987.3 319.7h0M892.2 408.6h0M939.1 411.1h0M887.4 470.7h0M896.6 418.4h0M979.2 322.3h0M907.4 403.6h0M901.6 457.8h0M905.9 422.2h0M889.7 432.9h0M935.0 380.4h0M907.5 431.4h0M914.9 427.3h0M981.8 436.0h0M901.7 485.5h0M906.3 474.6h0M972.0 341.0h0M913.3 435.9h0M948.8 410.2h0M953.9 423.7h0M939.0 410.1h0M924.8 444.1h0M872.5 425.3h0M943.5 437.9h0M925.0 403.0h0M976.9 237.9h0M903.3 457.6h0M916.9 416.4h0M984.3 343.7h0M959.3 396.6h0M959.3 404.9h0M943.8 336.2h0M895.1 446.9h0M925.9 355.9h0M916.9 471.5h0M942.6 407.7h0M987.1 208.2h0M924.4 462.6h0M921.6 477.7h0M956.1 471.6h0M934.0 477.3h0M911.3 433.4h0M912.7 454.6h0M992.5 493.0h0M912.6 454.9h0M872.6 404.4h0M953.8 444.9h0M923.0 408.6h0M919.4 443.8h0M996.7 324.0h0M906.7 456.3h0M918.4 408.5h0M949.9 402.9h0M888.8 462.4h0M922.7 478.4h0M968.1 222.4h0M930.1 459.7h0M916.5 426.8h0M926.8 439.1h0M943.8 403.5h0M914.2 502.1h0M970.5 227.2h0M915.3 395.1h0M958.0 374.7h0M926.6 447.6h0M940.4 407.2h0M979.9 341.0h0M990.5 349.9h0M919.7 435.2h0M1006.7 333.8h0M992.9 292.4h0M931.4 376.3h0M894.3 451.3h0M892.0 419.5h0M929.9 392.8h0M889.2 403.9h0M933.0 407.0h0M946.1 365.7h0M1002.5 235.8h0M939.1 396.0h0M934.2 434.1h0M930.9 465.0h0M923.5 392.2h0M907.1 455.8h0M930.7 475.2h0M908.0 437.6h0M893.6 463.7h0M918.7 470.5h0M964.8 376.7h0M895.2 428.3h0M986.7 261.7h0M933.3 405.7h0M911.9 445.1h0M914.9 399.8h0M972.1 430.4h0M907.3 465.0h0M931.3 419.8h0M890.6 459.3h0M902.7 452.9h0M923.3 380.3h0M914.3 425.8h0M995.5 250.0h0M906.2 471.1h0M920.1 433.3h0M919.6 420.1h0M986.7 269.8h0M913.2 404.7h0M933.6 475.5h0M934.1 413.1h0M908.9 413.8h0M897.8 402.8h0M932.3 540.1h0M919.0 436.6h0M904.0 390.3h0M911.0 401.2h0M922.5 361.8h0M883.6 412.6h0M974.8 306.5h0M952.4 369.6h0M892.9 409.2h0M936.8 409.5h0M958.7 475.6h0M913.4 458.7h0M893.8 391.6h0M952.6 439.1h0M991.6 347.5h0M949.2 438.5h0M922.6 380.7h0M923.1 423.1h0M919.0 424.5h0M926.9 416.4h0M964.0 407.7h0M942.3 417.3h0M892.8 427.5h0M895.9 435.1h0M916.0 368.5h0M907.1 470.1h0M1000.8 374.4h0M918.4 466.2h0M885.6 455.0h0M906.4 472.2h0M943.7 398.0h0M935.1 405.7h0M887.0 422.3h0M949.2 410.3h0M924.5 441.2h0M928.0 441.6h0M991.0 338.8h0M936.8 431.2h0M897.5 485.0h0M901.7 417.4h0M909.0 450.8h0M910.8 421.3h0M943.4 416.2h0M885.0 459.6h0M933.6 459.2h0M923.2 397.0h0M921.9 410.8h0M967.5 466.6h0M949.5 336.5h0M928.0 368.3h0M917.5 434.6h0M898.8 428.1h0M902.2 444.9h0M975.9 251.5h0M960.1 432.4h0M899.4 413.8h0M873.0 444.7h0M905.6 402.9h0M921.1 318.2h0M923.6 419.6h0M945.5 443.5h0M907.3 466.1h0M931.2 405.6h0M914.3 388.7h0" stroke="#ee846d" stroke-width="5.20"/>
<path d="M992.9 217.7h0M901.4 404.3h0M922.4 429.1h0M950.9 492.7h0M932.5 447.1h0M928.5 439.3h0M914.1 421.1h0M928.1 348.1h0M897.1 376.4h0M992.4 255.5h0M978.7 360.6h0M890.4 457.6h0M914.8 468.7h0M939.5 425.8h0M983.9 236.9h0M871.2 418.7h0M881.3 444.9h0M944.2 380.2h0M887.9 399.1h0M908.9 365.6h0M914.0 381.9h0M894.3 423.4h0M910.9 473.0h0M905.9 395.7h0M933.0 263.1h0M881.8 421.3h0M874.7 453.6h0M938.1 335.3h0M905.3 415.4h0M910.2 424.8h0M925.8 449.2h0M950.0 423.4h0M936.6 381.0h0M934.5 364.1h0M975.2 460.4h0M898.2 478.4h0M910.7 414.0h0M939.6 357.1h0M887.3 438.0h0M923.9 408.3h0M887.0 455.4h0M871.4 422.7h0M869.0 408.9h0M892.2 413.1h0M949.3 408.4h0M891.1 447.2h0M918.3 431.1h0M893.7 400.5h0M964.2 458.7h0M886.7 427.4h0M946.1 223.6h0M932.2 365.3h0M928.7 473.9h0M926.5 350.7h0M923.2 394.9h0M896.0 436.5h0M891.4 405.7h0M923.4 417.7h0M946.1 424.3h0M869.8 393.5h0M942.3 450.8h0M932.6 337.9h0M905.7 385.6h0M929.7 359.5h0M967.0 372.8h0M918.8 340.8h0M904.8 403.7h0M914.6 387.3h0M924.8 423.8h0M915.8 421.3h0M877.8 453.4h0M905.8 404.0h0M909.0 477.9h0M896.6 443.9h0M886.0 442.6h0M925.5 483.3h0M976.5 255.8h0M912.2 445.1h0M932.6 327.2h0M878.2 420.2h0M930.7 557.7h0M985.0 266.3h0M912.5 478.6h0M889.7 414.1h0M940.2 329.8h0M936.7 454.1h0M858.6 406.0h0M895.7 425.9h0M936.1 412.1h0M919.0 414.3h0M923.5 348.3h0M992.6 264.9h0M883.4 440.8h0M957.8 361.5h0M923.7 454.4h0M908.7 418.8h0M872.2 446.1h0M907.7 441.3h0M926.3 381.5h0M893.1 444.6h0M872.3 446.9h0M896.0 403.2h0M900.7 326.9h0M920.0 453.3h0M947.2 426.0h0M922.7 398.9h0M902.3 449.4h0M907.7 481.0h0M868.9 419.6h0M887.3 405.4h0M989.8 338.1h0M913.9 446.3h0M896.2 486.6h0M917.2 349.6h0M943.1 408.4h0M923.1 447.1h0M901.0 393.6h0M877.5 397.0h0M916.3 464.1h0M941.5 401.9h0M892.5 415.7h0M956.7 388.8h0M919.6 417.0h0M899.3 473.4h0M923.2 489.0h0M887.0 427.5h0M914.3 478.7h0M889.2 394.3h0M921.2 366.9h0M927.3 447.5h0M917.6 483.6h0M927.2 397.1h0M889.3 415.6h0M929.9 304.9h0M906.6 415.3h0M890.1 453.4h0M919.7 372.8h0M895.6 390.2h0M894.5 407.9h0M882.3 414.1h0M927.6 438.6h0M935.6 330.9h0M996.4 258.2h0M925.6 421.7h0M886.8 457.7h0M936.4 411.0h0M882.5 391.1h0M992.7 260.5h0M903.6 349.8h0M954.7 312.2h0M926.4 249.6h0M895.3 444.3h0M921.6 424.3h0M883.8 431.7h0M895.0 399.3h0M908.0 440.7h0M899.0 413.8h0M946.8 421.3h0M923.8 478.9h0M910.4 386.3h0M925.8 446.2h0M987.1 351.2h0M934.2 342.6h0M890.7 397.3h0M925.6 553.4h0M984.4 331.8h0M944.7 404.5h0M1005.5 271.2h0M937.3 420.4h0M918.9 390.2h0M931.3 388.4h0M902.1 433.7h0M904.1 405.6h0M883.6 443.3h0M936.9 440.4h0M889.3 454.7h0M927.8 465.2h0M904.4 396.7h0M907.8 411.1h0M888.7 414.5h0M1008.9 296.0h0M885.6 404.1h0M890.3 403.6h0M895.7 387.9h0M931.1 406.1h0M918.1 379.9h0M893.3 433.5h0M899.0 406.3h0M909.0 436.1h0M905.2 392.8h0M926.8 392.8h0M930.0 384.4h0M928.8 469.1h0M891.5 377.5h0M940.1 512.2h0M933.0 461.7h0M926.9 426.4h0M946.1 379.1h0M994.4 366.4h0M985.5 229.6h0M976.8 335.7h0M900.8 392.9h0M903.2 403.3h0M987.3 352.5h0M919.2 477.3h0M893.4 409.2h0M929.6 466.4h0" stroke="#ca6c5c" stroke-width="6.00"/>
<path d="M992.9 217.7h0M901.4 404.3h0M922.4 429.1h0M950.9 492.7h0M932.5 447.1h0M928.5 439.3h0M914.1 421.1h0M928.1 348.1h0M897.1 376.4h0M992.4 255.5h0M978.7 360.6h0M890.4 457.6h0M914.8 468.7h0M939.5 425.8h0M983.9 236.9h0M871.2 418.7h0M881.3 444.9h0M944.2 380.2h0M887.9 399.1h0M908.9 365.6h0M914.0 381.9h0M894.3 423.4h0M910.9 473.0h0M905.9 395.7h0M933.0 263.1h0M881.8 421.3h0M874.7 453.6h0M938.1 335.3h0M905.3 415.4h0M910.2 424.8h0M925.8 449.2h0M950.0 423.4h0M936.6 381.0h0M934.5 364.1h0M975.2 460.4h0M898.2 478.4h0M910.7 414.0h0M939.6 357.1h0M887.3 438.0h0M923.9 408.3h0M887.0 455.4h0M871.4 422.7h0M869.0 408.9h0M892.2 413.1h0M949.3 408.4h0M891.1 447.2h0M918.3 431.1h0M893.7 400.5h0M964.2 458.7h0M886.7 427.4h0M946.1 223.6h0M932.2 365.3h0M928.7 473.9h0M926.5 350.7h0M923.2 394.9h0M896.0 436.5h0M891.4 405.7h0M923.4 417.7h0M946.1 424.3h0M869.8 393.5h0M942.3 450.8h0M932.6 337.9h0M905.7 385.6h0M929.7 359.5h0M967.0 372.8h0M918.8 340.8h0M904.8 403.7h0M914.6 387.3h0M924.8 423.8h0M915.8 421.3h0M877.8 453.4h0M905.8 404.0h0M909.0 477.9h0M896.6 443.9h0M886.0 442.6h0M925.5 483.3h0M976.5 255.8h0M912.2 445.1h0M932.6 327.2h0M878.2 420.2h0M930.7 557.7h0M985.0 266.3h0M912.5 478.6h0M889.7 414.1h0M940.2 329.8h0M936.7 454.1h0M858.6 406.0h0M895.7 425.9h0M936.1 412.1h0M919.0 414.3h0M923.5 348.3h0M992.6 264.9h0M883.4 440.8h0M957.8 361.5h0M923.7 454.4h0M908.7 418.8h0M872.2 446.1h0M907.7 441.3h0M926.3 381.5h0M893.1 444.6h0M872.3 446.9h0M896.0 403.2h0M900.7 326.9h0M920.0 453.3h0M947.2 426.0h0M922.7 398.9h0M902.3 449.4h0M907.7 481.0h0M868.9 419.6h0M887.3 405.4h0M989.8 338.1h0M913.9 446.3h0M896.2 486.6h0M917.2 349.6h0M943.1 408.4h0M923.1 447.1h0M901.0 393.6h0M877.5 397.0h0M916.3 464.1h0M941.5 401.9h0M892.5 415.7h0M956.7 388.8h0M919.6 417.0h0M899.3 473.4h0M923.2 489.0h0M887.0 427.5h0M914.3 478.7h0M889.2 394.3h0M921.2 366.9h0M927.3 447.5h0M917.6 483.6h0M927.2 397.1h0M889.3 415.6h0M929.9 304.9h0M906.6 415.3h0M890.1 453.4h0M919.7 372.8h0M895.6 390.2h0M894.5 407.9h0M882.3 414.1h0M927.6 438.6h0M935.6 330.9h0M996.4 258.2h0M925.6 421.7h0M886.8 457.7h0M936.4 411.0h0M882.5 391.1h0M992.7 260.5h0M903.6 349.8h0M954.7 312.2h0M926.4 249.6h0M895.3 444.3h0M921.6 424.3h0M883.8 431.7h0M895.0 399.3h0M908.0 440.7h0M899.0 413.8h0M946.8 421.3h0M923.8 478.9h0M910.4 386.3h0M925.8 446.2h0M987.1 351.2h0M934.2 342.6h0M890.7 397.3h0M925.6 553.4h0M984.4 331.8h0M944.7 404.5h0M1005.5 271.2h0M937.3 420.4h0M918.9 390.2h0M931.3 388.4h0M902.1 433.7h0M904.1 405.6h0M883.6 443.3h0M936.9 440.4h0M889.3 454.7h0M927.8 465.2h0M904.4 396.7h0M907.8 411.1h0M888.7 414.5h0M1008.9 296.0h0M885.6 404.1h0M890.3 403.6h0M895.7 387.9h0M931.1 406.1h0M918.1 379.9h0M893.3 433.5h0M899.0 406.3h0M909.0 436.1h0M905.2 392.8h0M926.8 392.8h0M930.0 384.4h0M928.8 469.1h0M891.5 377.5h0M940.1 512.2h0M933.0 461.7h0M926.9 426.4h0M946.1 379.1h0M994.4 366.4h0M985.5 229.6h0M976.8 335.7h0M900.8 392.9h0M903.2 403.3h0M987.3 352.5h0M919.2 477.3h0M893.4 409.2h0M929.6 466.4h0" stroke="#eb7e6c" stroke-width="5.20"/>
<path d="M917.6 338.3h0M893.1 448.5h0M902.3 387.8h0M876.9 407.4h0M927.0 333.0h0M945.3 304.2h0M888.4 411.4h0M884.9 453.5h0M894.6 430.6h0M929.3 327.9h0M906.5 434.0h0M942.2 374.7h0M923.9 385.0h0M916.6 449.1h0M897.6 470.4h0M910.7 458.5h0M899.5 487.9h0M879.9 399.4h0M915.3 374.0h0M928.9 354.1h0M917.0 406.7h0M886.2 452.9h0M925.7 360.2h0M915.9 449.0h0M944.6 327.9h0M946.7 400.7h0M881.3 417.3h0M908.1 461.3h0M914.4 437.7h0M910.4 389.2h0M879.9 395.9h0M890.9 391.5h0M922.9 471.1h0M877.9 419.2h0M955.7 342.5h0M908.4 375.1h0M871.8 398.5h0M878.9 437.1h0M902.6 490.2h0M902.5 447.4h0M899.2 370.2h0M918.9 442.9h0M928.2 279.1h0M937.8 285.4h0M873.8 419.2h0M879.1 420.8h0M927.1 477.6h0M904.5 378.1h0M891.8 467.0h0M911.8 435.4h0M887.8 412.2h0M946.0 316.4h0M878.0 437.4h0M907.8 396.2h0M893.3 371.3h0M875.9 416.6h0M910.3 387.4h0M933.2 320.1h0M878.4 432.3h0M900.6 374.2h0M887.6 377.5h0M867.8 398.9h0M913.4 376.2h0M881.5 397.1h0M879.2 416.9h0M923.5 338.8h0M865.4 394.5h0M905.0 418.1h0M917.6 325.4h0M914.5 383.7h0M897.6 391.6h0M919.3 363.2h0M928.8 368.1h0M895.4 363.1h0M880.5 428.2h0M953.2 342.6h0M890.2 392.3h0M884.1 436.3h0M929.8 389.3h0M881.7 455.3h0M918.2 439.0h0M891.2 387.2h0M880.8 442.3h0M943.0 252.0h0M928.6 435.8h0M898.8 362.8h0M919.3 429.4h0M913.9 321.1h0M864.9 410.8h0M970.4 289.3h0M924.2 326.7h0M889.0 472.9h0M897.7 384.4h0M976.6 275.2h0M924.9 329.2h0M921.0 393.9h0M883.1 455.2h0M923.5 427.7h0M897.3 419.4h0M918.0 399.8h0M862.7 409.7h0M932.9 285.4h0M906.6 500.8h0M922.0 391.1h0M924.6 410.8h0M897.5 386.8h0M932.2 406.6h0M921.3 357.2h0M933.8 401.4h0M879.9 434.8h0M866.4 408.3h0M935.2 429.9h0M886.7 437.2h0M936.3 377.3h0M884.0 396.3h0M933.6 382.5h0M937.7 313.2h0M962.0 351.1h0M918.1 376.3h0M937.6 236.8h0M896.9 410.0h0M936.2 410.0h0M888.2 402.6h0M914.1 460.5h0M966.1 315.4h0M892.6 391.2h0M890.4 458.1h0M876.5 400.8h0M904.3 398.0h0M897.6 361.4h0M967.2 342.9h0M921.0 365.7h0M925.9 368.8h0M913.4 409.7h0M876.0 437.8h0M881.2 382.5h0M916.4 464.3h0M911.9 405.7h0M863.8 407.2h0M894.3 369.8h0M907.0 397.3h0M964.8 364.9h0M918.5 284.3h0M943.5 332.6h0M901.4 400.8h0M901.7 413.3h0M950.8 395.7h0M949.0 299.3h0M928.3 364.8h0M915.7 388.0h0M888.5 383.4h0M873.3 412.7h0M942.9 223.5h0M910.9 382.1h0M876.7 425.4h0M923.6 244.9h0M898.0 444.6h0M879.6 439.8h0M912.7 510.9h0M927.2 369.3h0M879.6 426.6h0M931.7 277.9h0M893.5 454.9h0M916.2 424.0h0M932.8 236.7h0M901.3 433.0h0M884.4 419.8h0M902.6 441.1h0M873.6 441.6h0M893.2 461.0h0M924.7 367.9h0M906.7 341.1h0M913.3 363.4h0M924.7 416.1h0M934.8 348.2h0M905.4 357.6h0M912.8 373.8h0M920.1 394.0h0M890.4 418.9h0M917.7 397.0h0M905.2 391.0h0M945.6 420.9h0M889.6 388.7h0M907.2 356.6h0M936.9 371.3h0M923.6 440.7h0M875.4 421.9h0M953.2 384.6h0M874.7 402.6h0M872.4 444.7h0M942.9 261.2h0M882.8 419.8h0M896.8 437.8h0M913.0 448.6h0M872.8 425.9h0M883.4 397.2h0M889.4 430.5h0M896.2 441.5h0M873.4 435.8h0M876.8 388.3h0M907.9 426.3h0M892.1 385.3h0M903.4 380.5h0M906.8 393.0h0M907.6 383.0h0M907.0 385.4h0M911.5 406.5h0M921.4 380.7h0M896.3 436.2h0M891.4 453.0h0M919.8 393.0h0M875.1 425.8h0M883.4 429.0h0M887.9 465.6h0M933.8 321.5h0M941.5 387.3h0M885.5 422.3h0M927.2 406.9h0M933.0 309.9h0M891.5 432.1h0M874.8 426.2h0M961.1 461.1h0M904.1 444.4h0M928.3 228.0h0M925.9 441.3h0M926.8 370.1h0" stroke="#c9675c" stroke-width="6.00"/>
<path d="M917.6 338.3h0M893.1 448.5h0M902.3 387.8h0M876.9 407.4h0M927.0 333.0h0M945.3 304.2h0M888.4 411.4h0M884.9 453.5h0M894.6 430.6h0M929.3 327.9h0M906.5 434.0h0M942.2 374.7h0M923.9 385.0h0M916.6 449.1h0M897.6 470.4h0M910.7 458.5h0M899.5 487.9h0M879.9 399.4h0M915.3 374.0h0M928.9 354.1h0M917.0 406.7h0M886.2 452.9h0M925.7 360.2h0M915.9 449.0h0M944.6 327.9h0M946.7 400.7h0M881.3 417.3h0M908.1 461.3h0M914.4 437.7h0M910.4 389.2h0M879.9 395.9h0M890.9 391.5h0M922.9 471.1h0M877.9 419.2h0M955.7 342.5h0M908.4 375.1h0M871.8 398.5h0M878.9 437.1h0M902.6 490.2h0M902.5 447.4h0M899.2 370.2h0M918.9 442.9h0M928.2 279.1h0M937.8 285.4h0M873.8 419.2h0M879.1 420.8h0M927.1 477.6h0M904.5 378.1h0M891.8 467.0h0M911.8 435.4h0M887.8 412.2h0M946.0 316.4h0M878.0 437.4h0M907.8 396.2h0M893.3 371.3h0M875.9 416.6h0M910.3 387.4h0M933.2 320.1h0M878.4 432.3h0M900.6 374.2h0M887.6 377.5h0M867.8 398.9h0M913.4 376.2h0M881.5 397.1h0M879.2 416.9h0M923.5 338.8h0M865.4 394.5h0M905.0 418.1h0M917.6 325.4h0M914.5 383.7h0M897.6 391.6h0M919.3 363.2h0M928.8 368.1h0M895.4 363.1h0M880.5 428.2h0M953.2 342.6h0M890.2 392.3h0M884.1 436.3h0M929.8 389.3h0M881.7 455.3h0M918.2 439.0h0M891.2 387.2h0M880.8 442.3h0M943.0 252.0h0M928.6 435.8h0M898.8 362.8h0M919.3 429.4h0M913.9 321.1h0M864.9 410.8h0M970.4 289.3h0M924.2 326.7h0M889.0 472.9h0M897.7 384.4h0M976.6 275.2h0M924.9 329.2h0M921.0 393.9h0M883.1 455.2h0M923.5 427.7h0M897.3 419.4h0M918.0 399.8h0M862.7 409.7h0M932.9 285.4h0M906.6 500.8h0M922.0 391.1h0M924.6 410.8h0M897.5 386.8h0M932.2 406.6h0M921.3 357.2h0M933.8 401.4h0M879.9 434.8h0M866.4 408.3h0M935.2 429.9h0M886.7 437.2h0M936.3 377.3h0M884.0 396.3h0M933.6 382.5h0M937.7 313.2h0M962.0 351.1h0M918.1 376.3h0M937.6 236.8h0M896.9 410.0h0M936.2 410.0h0M888.2 402.6h0M914.1 460.5h0M966.1 315.4h0M892.6 391.2h0M890.4 458.1h0M876.5 400.8h0M904.3 398.0h0M897.6 361.4h0M967.2 342.9h0M921.0 365.7h0M925.9 368.8h0M913.4 409.7h0M876.0 437.8h0M881.2 382.5h0M916.4 464.3h0M911.9 405.7h0M863.8 407.2h0M894.3 369.8h0M907.0 397.3h0M964.8 364.9h0M918.5 284.3h0M943.5 332.6h0M901.4 400.8h0M901.7 413.3h0M950.8 395.7h0M949.0 299.3h0M928.3 364.8h0M915.7 388.0h0M888.5 383.4h0M873.3 412.7h0M942.9 223.5h0M910.9 382.1h0M876.7 425.4h0M923.6 244.9h0M898.0 444.6h0M879.6 439.8h0M912.7 510.9h0M927.2 369.3h0M879.6 426.6h0M931.7 277.9h0M893.5 454.9h0M916.2 424.0h0M932.8 236.7h0M901.3 433.0h0M884.4 419.8h0M902.6 441.1h0M873.6 441.6h0M893.2 461.0h0M924.7 367.9h0M906.7 341.1h0M913.3 363.4h0M924.7 416.1h0M934.8 348.2h0M905.4 357.6h0M912.8 373.8h0M920.1 394.0h0M890.4 418.9h0M917.7 397.0h0M905.2 391.0h0M945.6 420.9h0M889.6 388.7h0M907.2 356.6h0M936.9 371.3h0M923.6 440.7h0M875.4 421.9h0M953.2 384.6h0M874.7 402.6h0M872.4 444.7h0M942.9 261.2h0M882.8 419.8h0M896.8 437.8h0M913.0 448.6h0M872.8 425.9h0M883.4 397.2h0M889.4 430.5h0M896.2 441.5h0M873.4 435.8h0M876.8 388.3h0M907.9 426.3h0M892.1 385.3h0M903.4 380.5h0M906.8 393.0h0M907.6 383.0h0M907.0 385.4h0M911.5 406.5h0M921.4 380.7h0M896.3 436.2h0M891.4 453.0h0M919.8 393.0h0M875.1 425.8h0M883.4 429.0h0M887.9 465.6h0M933.8 321.5h0M941.5 387.3h0M885.5 422.3h0M927.2 406.9h0M933.0 309.9h0M891.5 432.1h0M874.8 426.2h0M961.1 461.1h0M904.1 444.4h0M928.3 228.0h0M925.9 441.3h0M926.8 370.1h0" stroke="#ea786b" stroke-width="5.20"/>
<path d="M857.7 394.1h0M966.7 206.4h0M893.5 396.1h0M946.5 333.2h0M895.5 381.0h0M882.6 406.4h0M929.8 337.5h0M870.5 393.0h0M899.3 390.3h0M892.7 342.5h0M887.4 444.3h0M939.3 328.5h0M891.0 362.1h0M931.4 411.4h0M912.6 413.7h0M881.8 460.3h0M929.6 291.5h0M876.1 391.1h0M990.9 253.7h0M879.1 443.0h0M929.2 370.2h0M871.4 404.1h0M927.8 321.7h0M892.0 373.1h0M910.5 466.9h0M919.6 315.9h0M876.5 408.0h0M906.2 454.9h0M896.8 392.4h0M964.4 324.1h0M931.5 324.6h0M925.8 372.9h0M923.4 343.3h0M922.5 427.0h0M916.4 398.3h0M888.0 442.5h0M859.5 396.0h0M923.3 366.0h0M919.8 342.4h0M872.6 384.2h0M864.3 402.4h0M910.5 432.7h0M865.0 390.6h0M922.0 249.6h0M874.8 389.2h0M955.3 259.3h0M895.1 482.8h0M936.5 351.9h0M879.7 430.4h0M903.6 357.3h0M901.9 378.5h0M922.9 476.4h0M901.7 396.4h0M927.2 286.4h0M900.0 348.0h0M918.3 325.5h0M896.0 399.5h0M864.7 406.9h0M890.3 371.8h0M927.6 315.0h0M925.3 307.7h0M923.6 461.4h0M935.6 329.0h0M898.2 392.1h0M867.0 405.5h0M924.0 340.0h0M889.2 399.7h0M879.0 446.9h0M932.2 348.6h0M870.5 405.4h0M886.2 316.2h0M906.4 330.5h0M881.1 456.4h0M916.1 329.3h0M916.6 387.4h0M907.4 360.7h0M921.0 350.3h0M873.5 394.7h0M899.7 331.3h0M918.8 344.2h0M901.6 368.6h0M856.9 402.1h0M937.2 320.9h0M861.2 396.1h0M901.1 383.0h0M910.7 353.4h0M917.3 354.4h0M873.5 432.3h0M902.5 358.7h0M919.6 341.1h0M926.2 379.1h0M919.2 265.2h0M934.1 440.6h0M920.1 280.4h0M876.8 423.1h0M910.5 323.6h0M932.9 359.5h0M898.4 372.0h0M867.8 403.4h0M908.1 375.7h0M903.8 379.1h0M923.0 347.9h0M923.4 293.2h0M911.1 413.4h0M896.7 373.3h0M930.9 434.1h0M926.6 342.5h0M911.1 398.2h0M900.8 291.8h0M918.7 432.9h0M878.3 455.8h0M910.3 349.8h0M901.4 461.6h0M931.5 423.8h0M866.9 405.2h0M918.3 393.9h0M902.8 332.6h0M906.8 433.3h0M886.4 390.1h0M905.7 370.7h0M952.6 293.8h0M916.2 315.4h0M898.5 479.1h0M880.6 365.8h0M906.5 386.8h0M897.8 364.3h0M883.2 408.8h0M920.2 343.2h0M919.5 358.0h0M883.9 430.2h0M878.1 375.5h0M930.2 363.6h0M927.3 266.9h0M934.1 358.7h0M886.4 438.3h0M930.4 336.3h0M893.5 375.7h0M881.5 387.3h0M925.0 234.4h0M903.6 458.3h0M872.3 435.3h0M863.0 318.0h0M890.5 366.0h0M887.3 382.8h0M903.5 380.3h0M918.0 380.3h0M937.0 434.5h0M886.3 395.8h0M898.0 368.9h0M897.6 467.0h0" stroke="#c7625c" stroke-width="6.00"/>
<path d="M857.7 394.1h0M966.7 206.4h0M893.5 396.1h0M946.5 333.2h0M895.5 381.0h0M882.6 406.4h0M929.8 337.5h0M870.5 393.0h0M899.3 390.3h0M892.7 342.5h0M887.4 444.3h0M939.3 328.5h0M891.0 362.1h0M931.4 411.4h0M912.6 413.7h0M881.8 460.3h0M929.6 291.5h0M876.1 391.1h0M990.9 253.7h0M879.1 443.0h0M929.2 370.2h0M871.4 404.1h0M927.8 321.7h0M892.0 373.1h0M910.5 466.9h0M919.6 315.9h0M876.5 408.0h0M906.2 454.9h0M896.8 392.4h0M964.4 324.1h0M931.5 324.6h0M925.8 372.9h0M923.4 343.3h0M922.5 427.0h0M916.4 398.3h0M888.0 442.5h0M859.5 396.0h0M923.3 366.0h0M919.8 342.4h0M872.6 384.2h0M864.3 402.4h0M910.5 432.7h0M865.0 390.6h0M922.0 249.6h0M874.8 389.2h0M955.3 259.3h0M895.1 482.8h0M936.5 351.9h0M879.7 430.4h0M903.6 357.3h0M901.9 378.5h0M922.9 476.4h0M901.7 396.4h0M927.2 286.4h0M900.0 348.0h0M918.3 325.5h0M896.0 399.5h0M864.7 406.9h0M890.3 371.8h0M927.6 315.0h0M925.3 307.7h0M923.6 461.4h0M935.6 329.0h0M898.2 392.1h0M867.0 405.5h0M924.0 340.0h0M889.2 399.7h0M879.0 446.9h0M932.2 348.6h0M870.5 405.4h0M886.2 316.2h0M906.4 330.5h0M881.1 456.4h0M916.1 329.3h0M916.6 387.4h0M907.4 360.7h0M921.0 350.3h0M873.5 394.7h0M899.7 331.3h0M918.8 344.2h0M901.6 368.6h0M856.9 402.1h0M937.2 320.9h0M861.2 396.1h0M901.1 383.0h0M910.7 353.4h0M917.3 354.4h0M873.5 432.3h0M902.5 358.7h0M919.6 341.1h0M926.2 379.1h0M919.2 265.2h0M934.1 440.6h0M920.1 280.4h0M876.8 423.1h0M910.5 323.6h0M932.9 359.5h0M898.4 372.0h0M867.8 403.4h0M908.1 375.7h0M903.8 379.1h0M923.0 347.9h0M923.4 293.2h0M911.1 413.4h0M896.7 373.3h0M930.9 434.1h0M926.6 342.5h0M911.1 398.2h0M900.8 291.8h0M918.7 432.9h0M878.3 455.8h0M910.3 349.8h0M901.4 461.6h0M931.5 423.8h0M866.9 405.2h0M918.3 393.9h0M902.8 332.6h0M906.8 433.3h0M886.4 390.1h0M905.7 370.7h0M952.6 293.8h0M916.2 315.4h0M898.5 479.1h0M880.6 365.8h0M906.5 386.8h0M897.8 364.3h0M883.2 408.8h0M920.2 343.2h0M919.5 358.0h0M883.9 430.2h0M878.1 375.5h0M930.2 363.6h0M927.3 266.9h0M934.1 358.7h0M886.4 438.3h0M930.4 336.3h0M893.5 375.7h0M881.5 387.3h0M925.0 234.4h0M903.6 458.3h0M872.3 435.3h0M863.0 318.0h0M890.5 366.0h0M887.3 382.8h0M903.5 380.3h0M918.0 380.3h0M937.0 434.5h0M886.3 395.8h0M898.0 368.9h0M897.6 467.0h0" stroke="#e8726b" stroke-width="5.20"/>
<path d="M920.7 380.2h0M900.7 396.6h0M902.6 374.1h0M942.5 302.5h0M911.3 291.2h0M915.6 330.5h0M883.0 448.2h0M898.6 396.0h0M876.6 375.5h0M913.1 294.7h0M896.1 235.4h0M894.1 354.4h0M913.2 430.3h0M894.2 396.5h0M905.9 394.2h0M911.6 255.4h0M878.9 416.7h0M912.4 464.4h0M939.7 260.5h0M874.2 450.4h0M881.6 362.2h0M930.9 281.4h0M878.6 342.8h0M874.4 420.4h0M891.8 299.9h0M900.6 346.2h0M883.4 395.4h0M941.6 328.1h0M892.2 334.7h0M916.9 202.7h0M910.4 256.8h0M903.0 345.1h0M872.1 337.7h0M896.6 369.8h0M884.2 414.2h0M880.2 436.4h0M866.2 382.8h0M920.6 401.1h0M929.2 335.0h0M878.8 368.5h0M887.0 342.5h0M854.9 399.9h0M953.6 292.5h0M942.8 338.6h0M884.1 325.2h0M891.4 356.5h0M921.2 338.3h0M867.7 345.2h0M920.6 324.6h0M862.4 410.8h0M882.5 404.1h0M890.3 376.1h0M898.2 367.4h0M892.1 346.0h0M923.4 311.3h0M907.3 361.2h0M861.0 405.2h0M898.4 377.3h0M886.4 342.9h0M895.8 423.0h0M881.0 351.3h0M935.7 272.1h0M882.8 410.2h0M909.9 338.6h0M901.5 301.9h0M892.0 332.2h0M909.8 250.1h0M876.1 451.9h0M938.9 245.9h0M923.7 295.8h0M883.7 384.6h0M912.4 446.4h0M898.8 380.7h0M938.2 307.6h0M906.5 377.2h0M869.0 419.1h0M877.4 317.6h0M919.4 329.9h0M874.7 373.5h0M937.4 260.3h0M910.8 328.8h0M883.1 334.1h0M877.3 404.8h0M870.1 355.6h0M910.4 343.0h0M883.9 321.1h0M936.5 335.7h0M883.4 348.3h0M898.6 410.5h0M859.3 352.5h0M888.4 398.9h0M871.3 364.1h0M918.1 298.9h0M937.4 286.1h0M882.4 301.6h0M853.6 390.2h0M928.2 303.4h0M875.2 423.5h0M868.4 385.1h0M879.7 401.8h0M910.4 329.5h0M878.1 392.3h0M905.4 344.5h0M929.4 297.2h0M891.9 390.6h0M876.9 380.8h0M886.5 457.8h0M864.2 400.0h0M895.3 289.5h0M916.4 288.3h0M924.0 326.0h0M872.7 360.4h0M890.7 394.2h0M880.7 294.4h0M870.6 386.8h0M919.9 314.4h0M893.2 352.6h0M874.9 367.0h0M938.6 350.6h0M911.4 252.7h0M869.3 399.5h0M879.4 415.0h0M884.6 370.6h0M910.7 316.4h0M930.0 337.8h0M871.9 390.1h0M899.7 316.1h0M899.1 357.2h0M888.2 364.3h0M898.3 396.0h0M861.3 391.8h0M928.6 198.1h0M887.6 341.0h0M869.6 399.2h0M908.6 335.0h0M899.8 282.2h0M934.0 306.9h0M915.4 229.0h0M920.0 388.9h0M874.4 334.8h0M878.5 419.5h0M851.7 365.2h0M907.4 286.6h0M879.5 372.2h0M872.9 412.8h0M913.8 438.7h0M857.6 397.5h0M914.8 348.3h0M872.7 303.9h0M874.9 365.1h0M921.2 367.2h0M896.4 405.8h0M910.2 305.6h0M941.4 395.7h0M890.5 381.6h0M872.9 450.9h0M908.0 376.4h0M876.2 340.0h0M928.9 316.2h0M877.8 449.8h0M922.9 249.2h0M866.4 392.7h0M914.5 337.2h0M921.9 252.9h0M873.9 325.9h0M877.2 403.4h0M862.2 395.3h0" stroke="#c55c5b" stroke-width="6.00"/>
<path d="M920.7 380.2h0M900.7 396.6h0M902.6 374.1h0M942.5 302.5h0M911.3 291.2h0M915.6 330.5h0M883.0 448.2h0M898.6 396.0h0M876.6 375.5h0M913.1 294.7h0M896.1 235.4h0M894.1 354.4h0M913.2 430.3h0M894.2 396.5h0M905.9 394.2h0M911.6 255.4h0M878.9 416.7h0M912.4 464.4h0M939.7 260.5h0M874.2 450.4h0M881.6 362.2h0M930.9 281.4h0M878.6 342.8h0M874.4 420.4h0M891.8 299.9h0M900.6 346.2h0M883.4 395.4h0M941.6 328.1h0M892.2 334.7h0M916.9 202.7h0M910.4 256.8h0M903.0 345.1h0M872.1 337.7h0M896.6 369.8h0M884.2 414.2h0M880.2 436.4h0M866.2 382.8h0M920.6 401.1h0M929.2 335.0h0M878.8 368.5h0M887.0 342.5h0M854.9 399.9h0M953.6 292.5h0M942.8 338.6h0M884.1 325.2h0M891.4 356.5h0M921.2 338.3h0M867.7 345.2h0M920.6 324.6h0M862.4 410.8h0M882.5 404.1h0M890.3 376.1h0M898.2 367.4h0M892.1 346.0h0M923.4 311.3h0M907.3 361.2h0M861.0 405.2h0M898.4 377.3h0M886.4 342.9h0M895.8 423.0h0M881.0 351.3h0M935.7 272.1h0M882.8 410.2h0M909.9 338.6h0M901.5 301.9h0M892.0 332.2h0M909.8 250.1h0M876.1 451.9h0M938.9 245.9h0M923.7 295.8h0M883.7 384.6h0M912.4 446.4h0M898.8 380.7h0M938.2 307.6h0M906.5 377.2h0M869.0 419.1h0M877.4 317.6h0M919.4 329.9h0M874.7 373.5h0M937.4 260.3h0M910.8 328.8h0M883.1 334.1h0M877.3 404.8h0M870.1 355.6h0M910.4 343.0h0M883.9 321.1h0M936.5 335.7h0M883.4 348.3h0M898.6 410.5h0M859.3 352.5h0M888.4 398.9h0M871.3 364.1h0M918.1 298.9h0M937.4 286.1h0M882.4 301.6h0M853.6 390.2h0M928.2 303.4h0M875.2 423.5h0M868.4 385.1h0M879.7 401.8h0M910.4 329.5h0M878.1 392.3h0M905.4 344.5h0M929.4 297.2h0M891.9 390.6h0M876.9 380.8h0M886.5 457.8h0M864.2 400.0h0M895.3 289.5h0M916.4 288.3h0M924.0 326.0h0M872.7 360.4h0M890.7 394.2h0M880.7 294.4h0M870.6 386.8h0M919.9 314.4h0M893.2 352.6h0M874.9 367.0h0M938.6 350.6h0M911.4 252.7h0M869.3 399.5h0M879.4 415.0h0M884.6 370.6h0M910.7 316.4h0M930.0 337.8h0M871.9 390.1h0M899.7 316.1h0M899.1 357.2h0M888.2 364.3h0M898.3 396.0h0M861.3 391.8h0M928.6 198.1h0M887.6 341.0h0M869.6 399.2h0M908.6 335.0h0M899.8 282.2h0M934.0 306.9h0M915.4 229.0h0M920.0 388.9h0M874.4 334.8h0M878.5 419.5h0M851.7 365.2h0M907.4 286.6h0M879.5 372.2h0M872.9 412.8h0M913.8 438.7h0M857.6 397.5h0M914.8 348.3h0M872.7 303.9h0M874.9 365.1h0M921.2 367.2h0M896.4 405.8h0M910.2 305.6h0M941.4 395.7h0M890.5 381.6h0M872.9 450.9h0M908.0 376.4h0M876.2 340.0h0M928.9 316.2h0M877.8 449.8h0M922.9 249.2h0M866.4 392.7h0M914.5 337.2h0M921.9 252.9h0M873.9 325.9h0M877.2 403.4h0M862.2 395.3h0" stroke="#e66c6a" stroke-width="5.20"/>
<path d="M875.1 368.4h0M868.0 335.6h0M861.1 385.5h0M910.8 299.9h0M868.0 392.8h0M872.1 292.0h0M876.8 374.8h0M878.0 327.5h0M861.6 349.5h0M873.8 367.3h0M920.5 319.7h0M928.8 329.8h0M947.6 319.7h0M879.4 355.7h0M915.0 273.9h0M875.8 345.2h0M921.1 310.0h0M879.1 305.9h0M916.2 277.0h0M894.1 359.6h0M872.9 433.3h0M896.1 370.8h0M874.2 372.4h0M880.5 365.9h0M913.5 343.4h0M888.3 300.1h0M872.8 317.6h0M858.0 374.9h0M904.8 317.5h0M870.9 306.4h0M867.5 391.0h0M869.9 362.9h0M920.8 267.9h0M906.0 318.2h0M905.8 225.9h0M922.3 331.0h0M873.5 371.7h0M874.7 359.8h0M867.9 308.1h0M860.0 385.0h0M911.2 351.8h0M841.6 378.4h0M925.0 276.8h0M878.0 355.1h0M898.1 353.8h0M881.9 374.5h0M870.6 410.1h0M937.7 265.8h0M876.6 360.7h0M843.5 377.9h0M845.2 359.0h0M887.3 370.3h0M878.0 397.7h0M894.3 321.6h0M865.4 389.8h0M921.4 326.5h0M908.9 398.2h0M921.2 259.2h0M896.1 346.1h0M916.9 312.4h0M936.4 311.6h0M919.4 331.1h0M888.7 325.5h0M859.7 325.7h0M935.5 252.3h0M871.6 333.1h0M900.3 313.7h0M872.8 348.2h0M882.7 463.1h0M919.7 288.2h0M865.7 343.5h0M927.2 347.2h0M864.9 391.7h0M880.9 349.8h0M867.3 384.5h0M864.4 324.2h0M866.0 294.4h0M866.7 352.9h0M918.8 351.4h0M881.1 372.4h0M874.8 309.9h0M876.0 333.2h0M869.2 405.3h0M903.0 301.0h0M913.2 351.2h0M870.9 320.4h0M836.8 374.3h0M909.1 356.2h0M930.1 265.0h0M874.1 426.4h0M867.3 389.6h0M917.9 322.1h0M934.3 291.2h0M926.5 294.3h0M908.6 301.6h0M880.3 338.7h0M873.9 383.4h0M888.3 377.8h0M878.9 420.4h0M914.6 294.1h0M875.0 343.6h0M850.1 356.6h0M895.5 244.1h0M882.2 374.5h0M874.3 449.9h0M897.9 352.9h0M872.7 427.1h0M871.1 346.0h0M862.4 326.8h0M871.9 330.4h0M902.5 468.1h0M883.3 349.0h0M928.3 221.0h0M895.1 338.7h0M868.5 369.8h0M947.9 344.0h0M928.4 350.2h0M901.2 341.5h0M864.3 376.4h0M933.5 259.9h0M837.6 368.0h0M883.7 322.7h0M929.4 266.6h0M880.3 366.8h0M827.3 363.6h0M879.9 412.7h0M907.7 337.4h0M914.7 339.6h0M932.5 291.7h0M879.0 361.3h0M890.2 318.5h0M858.2 388.9h0M854.4 355.0h0M876.1 383.3h0M869.2 340.7h0M885.1 367.3h0M924.3 283.5h0M889.6 337.8h0M858.7 390.2h0M912.3 337.2h0M883.3 375.0h0M867.1 352.0h0M886.5 353.0h0M852.2 354.4h0M878.9 344.2h0M847.9 337.3h0M885.5 384.1h0M844.7 353.8h0M874.0 388.1h0M915.4 341.9h0M946.2 256.2h0M933.6 367.9h0M886.8 361.5h0M863.6 393.4h0M866.2 337.7h0M952.2 250.6h0M877.1 381.2h0M898.9 334.3h0M866.4 396.6h0M878.3 371.4h0M899.0 335.9h0M874.0 386.6h0M922.6 290.6h0M912.5 310.5h0M943.6 348.2h0M866.1 386.6h0M873.4 398.8h0M863.4 397.7h0M888.2 359.4h0M897.7 388.7h0" stroke="#c4575b" stroke-width="6.00"/>
<path d="M875.1 368.4h0M868.0 335.6h0M861.1 385.5h0M910.8 299.9h0M868.0 392.8h0M872.1 292.0h0M876.8 374.8h0M878.0 327.5h0M861.6 349.5h0M873.8 367.3h0M920.5 319.7h0M928.8 329.8h0M947.6 319.7h0M879.4 355.7h0M915.0 273.9h0M875.8 345.2h0M921.1 310.0h0M879.1 305.9h0M916.2 277.0h0M894.1 359.6h0M872.9 433.3h0M896.1 370.8h0M874.2 372.4h0M880.5 365.9h0M913.5 343.4h0M888.3 300.1h0M872.8 317.6h0M858.0 374.9h0M904.8 317.5h0M870.9 306.4h0M867.5 391.0h0M869.9 362.9h0M920.8 267.9h0M906.0 318.2h0M905.8 225.9h0M922.3 331.0h0M873.5 371.7h0M874.7 359.8h0M867.9 308.1h0M860.0 385.0h0M911.2 351.8h0M841.6 378.4h0M925.0 276.8h0M878.0 355.1h0M898.1 353.8h0M881.9 374.5h0M870.6 410.1h0M937.7 265.8h0M876.6 360.7h0M843.5 377.9h0M845.2 359.0h0M887.3 370.3h0M878.0 397.7h0M894.3 321.6h0M865.4 389.8h0M921.4 326.5h0M908.9 398.2h0M921.2 259.2h0M896.1 346.1h0M916.9 312.4h0M936.4 311.6h0M919.4 331.1h0M888.7 325.5h0M859.7 325.7h0M935.5 252.3h0M871.6 333.1h0M900.3 313.7h0M872.8 348.2h0M882.7 463.1h0M919.7 288.2h0M865.7 343.5h0M927.2 347.2h0M864.9 391.7h0M880.9 349.8h0M867.3 384.5h0M864.4 324.2h0M866.0 294.4h0M866.7 352.9h0M918.8 351.4h0M881.1 372.4h0M874.8 309.9h0M876.0 333.2h0M869.2 405.3h0M903.0 301.0h0M913.2 351.2h0M870.9 320.4h0M836.8 374.3h0M909.1 356.2h0M930.1 265.0h0M874.1 426.4h0M867.3 389.6h0M917.9 322.1h0M934.3 291.2h0M926.5 294.3h0M908.6 301.6h0M880.3 338.7h0M873.9 383.4h0M888.3 377.8h0M878.9 420.4h0M914.6 294.1h0M875.0 343.6h0M850.1 356.6h0M895.5 244.1h0M882.2 374.5h0M874.3 449.9h0M897.9 352.9h0M872.7 427.1h0M871.1 346.0h0M862.4 326.8h0M871.9 330.4h0M902.5 468.1h0M883.3 349.0h0M928.3 221.0h0M895.1 338.7h0M868.5 369.8h0M947.9 344.0h0M928.4 350.2h0M901.2 341.5h0M864.3 376.4h0M933.5 259.9h0M837.6 368.0h0M883.7 322.7h0M929.4 266.6h0M880.3 366.8h0M827.3 363.6h0M879.9 412.7h0M907.7 337.4h0M914.7 339.6h0M932.5 291.7h0M879.0 361.3h0M890.2 318.5h0M858.2 388.9h0M854.4 355.0h0M876.1 383.3h0M869.2 340.7h0M885.1 367.3h0M924.3 283.5h0M889.6 337.8h0M858.7 390.2h0M912.3 337.2h0M883.3 375.0h0M867.1 352.0h0M886.5 353.0h0M852.2 354.4h0M878.9 344.2h0M847.9 337.3h0M885.5 384.1h0M844.7 353.8h0M874.0 388.1h0M915.4 341.9h0M946.2 256.2h0M933.6 367.9h0M886.8 361.5h0M863.6 393.4h0M866.2 337.7h0M952.2 250.6h0M877.1 381.2h0M898.9 334.3h0M866.4 396.6h0M878.3 371.4h0M899.0 335.9h0M874.0 386.6h0M922.6 290.6h0M912.5 310.5h0M943.6 348.2h0M866.1 386.6h0M873.4 398.8h0M863.4 397.7h0M888.2 359.4h0M897.7 388.7h0" stroke="#e4666a" stroke-width="5.20"/>
<path d="M872.4 359.1h0M873.2 305.5h0M879.3 339.0h0M867.2 393.3h0M917.2 297.9h0M870.5 382.0h0M851.5 330.0h0M923.0 201.0h0M888.7 323.7h0M853.4 392.1h0M901.9 354.9h0M925.7 288.1h0M920.1 352.6h0M859.6 347.5h0M914.1 302.0h0M884.0 357.3h0M876.0 340.5h0M845.2 355.8h0M864.9 323.3h0M859.0 339.1h0M860.9 354.6h0M872.4 386.3h0M872.5 324.6h0M870.2 349.3h0M856.2 339.8h0M886.2 341.2h0M883.1 337.9h0M850.2 375.6h0M874.2 323.3h0M861.4 385.1h0M932.1 276.3h0M885.8 398.0h0M871.4 369.4h0M873.1 302.2h0M865.6 336.1h0M883.4 339.4h0M948.9 317.0h0M886.3 324.0h0M932.7 279.9h0M855.6 392.4h0M894.4 331.5h0M869.5 378.5h0M917.6 348.1h0M864.8 367.8h0M869.5 342.2h0M874.7 370.4h0M840.9 378.2h0M889.9 375.3h0M949.5 284.3h0M894.6 315.3h0M847.8 369.8h0M887.4 325.0h0M889.4 327.7h0M874.7 329.8h0M902.9 253.0h0M884.0 381.6h0M907.7 312.0h0M858.2 380.0h0M877.7 386.8h0M899.7 289.1h0M864.5 347.8h0M890.4 319.6h0M842.7 377.7h0M912.8 334.6h0M921.4 295.8h0M878.0 273.9h0M898.4 365.2h0M896.3 330.5h0M918.5 359.4h0M865.6 389.4h0M845.3 369.3h0M862.3 354.2h0M871.2 338.1h0M835.6 373.8h0M901.7 353.8h0M898.4 328.0h0M858.8 344.2h0M861.0 377.0h0M863.4 382.6h0M929.1 317.3h0M906.7 362.3h0M882.0 316.0h0M859.8 377.0h0M851.8 289.6h0M858.3 312.3h0M854.6 361.6h0M883.9 354.9h0M873.2 331.6h0M867.7 384.0h0M844.1 369.4h0M851.6 333.2h0M872.7 357.2h0M858.3 377.8h0M911.2 281.3h0M861.8 337.3h0M899.3 332.2h0M900.4 307.9h0M856.5 363.4h0M871.7 317.4h0M871.1 344.0h0M862.8 361.4h0M923.6 231.5h0M877.3 355.3h0M922.0 284.6h0M869.8 318.7h0M901.2 330.8h0M879.0 365.8h0M928.9 270.9h0M849.2 353.1h0M845.7 366.9h0M904.4 299.1h0M892.6 310.2h0M894.7 331.6h0M855.9 359.4h0M871.4 325.2h0M898.6 341.9h0M911.5 311.4h0M865.5 375.7h0M858.0 357.8h0M848.3 301.5h0M898.2 259.7h0M878.1 348.4h0M831.4 368.5h0M923.4 253.5h0M873.8 271.5h0M890.0 321.0h0M877.3 300.5h0M934.4 295.5h0M908.6 357.8h0M874.6 376.9h0M893.2 362.2h0M852.7 393.3h0M874.6 345.2h0M874.3 343.7h0M934.7 258.0h0M859.3 345.7h0M857.4 360.7h0M888.3 401.4h0M941.7 230.4h0M867.5 327.9h0M888.6 305.0h0M915.5 307.9h0M863.4 375.6h0M932.4 241.4h0M874.4 356.4h0M872.1 353.5h0M884.4 330.7h0M859.3 362.9h0M892.0 330.5h0" stroke="#c0545a" stroke-width="6.00"/>
<path d="M872.4 359.1h0M873.2 305.5h0M879.3 339.0h0M867.2 393.3h0M917.2 297.9h0M870.5 382.0h0M851.5 330.0h0M923.0 201.0h0M888.7 323.7h0M853.4 392.1h0M901.9 354.9h0M925.7 288.1h0M920.1 352.6h0M859.6 347.5h0M914.1 302.0h0M884.0 357.3h0M876.0 340.5h0M845.2 355.8h0M864.9 323.3h0M859.0 339.1h0M860.9 354.6h0M872.4 386.3h0M872.5 324.6h0M870.2 349.3h0M856.2 339.8h0M886.2 341.2h0M883.1 337.9h0M850.2 375.6h0M874.2 323.3h0M861.4 385.1h0M932.1 276.3h0M885.8 398.0h0M871.4 369.4h0M873.1 302.2h0M865.6 336.1h0M883.4 339.4h0M948.9 317.0h0M886.3 324.0h0M932.7 279.9h0M855.6 392.4h0M894.4 331.5h0M869.5 378.5h0M917.6 348.1h0M864.8 367.8h0M869.5 342.2h0M874.7 370.4h0M840.9 378.2h0M889.9 375.3h0M949.5 284.3h0M894.6 315.3h0M847.8 369.8h0M887.4 325.0h0M889.4 327.7h0M874.7 329.8h0M902.9 253.0h0M884.0 381.6h0M907.7 312.0h0M858.2 380.0h0M877.7 386.8h0M899.7 289.1h0M864.5 347.8h0M890.4 319.6h0M842.7 377.7h0M912.8 334.6h0M921.4 295.8h0M878.0 273.9h0M898.4 365.2h0M896.3 330.5h0M918.5 359.4h0M865.6 389.4h0M845.3 369.3h0M862.3 354.2h0M871.2 338.1h0M835.6 373.8h0M901.7 353.8h0M898.4 328.0h0M858.8 344.2h0M861.0 377.0h0M863.4 382.6h0M929.1 317.3h0M906.7 362.3h0M882.0 316.0h0M859.8 377.0h0M851.8 289.6h0M858.3 312.3h0M854.6 361.6h0M883.9 354.9h0M873.2 331.6h0M867.7 384.0h0M844.1 369.4h0M851.6 333.2h0M872.7 357.2h0M858.3 377.8h0M911.2 281.3h0M861.8 337.3h0M899.3 332.2h0M900.4 307.9h0M856.5 363.4h0M871.7 317.4h0M871.1 344.0h0M862.8 361.4h0M923.6 231.5h0M877.3 355.3h0M922.0 284.6h0M869.8 318.7h0M901.2 330.8h0M879.0 365.8h0M928.9 270.9h0M849.2 353.1h0M845.7 366.9h0M904.4 299.1h0M892.6 310.2h0M894.7 331.6h0M855.9 359.4h0M871.4 325.2h0M898.6 341.9h0M911.5 311.4h0M865.5 375.7h0M858.0 357.8h0M848.3 301.5h0M898.2 259.7h0M878.1 348.4h0M831.4 368.5h0M923.4 253.5h0M873.8 271.5h0M890.0 321.0h0M877.3 300.5h0M934.4 295.5h0M908.6 357.8h0M874.6 376.9h0M893.2 362.2h0M852.7 393.3h0M874.6 345.2h0M874.3 343.7h0M934.7 258.0h0M859.3 345.7h0M857.4 360.7h0M888.3 401.4h0M941.7 230.4h0M867.5 327.9h0M888.6 305.0h0M915.5 307.9h0M863.4 375.6h0M932.4 241.4h0M874.4 356.4h0M872.1 353.5h0M884.4 330.7h0M859.3 362.9h0M892.0 330.5h0" stroke="#e06269" stroke-width="5.20"/>
<path d="M862.3 345.2h0M856.6 363.7h0M858.0 299.5h0M850.0 351.9h0M865.1 339.8h0M865.2 408.9h0M866.1 346.8h0M847.8 384.1h0M842.6 372.9h0M871.8 389.6h0M858.1 353.8h0M903.4 329.1h0M878.2 339.9h0M854.8 352.3h0M878.5 353.2h0M877.8 354.1h0M873.5 365.8h0M857.2 340.3h0M886.0 362.7h0M906.6 336.0h0M873.3 288.2h0M872.9 355.7h0M839.9 364.9h0M854.7 336.5h0M888.4 317.3h0M864.6 310.3h0M856.7 333.5h0M840.4 364.6h0M928.0 310.9h0M863.8 286.2h0M839.6 366.3h0M869.3 361.2h0M848.1 376.7h0M864.9 387.4h0M854.9 334.7h0M846.0 351.3h0M829.2 320.8h0M837.5 317.3h0M857.9 376.7h0M865.7 369.5h0M838.1 319.4h0M851.3 353.6h0M874.7 354.2h0M862.4 382.0h0M888.8 283.2h0M889.9 341.2h0M884.0 346.2h0M876.2 287.1h0M885.9 304.7h0M857.9 255.8h0M855.4 319.6h0M908.2 271.4h0M872.8 315.1h0M859.6 346.7h0M855.8 323.8h0M858.3 332.7h0M865.2 357.8h0M866.9 381.5h0M858.4 373.3h0M850.9 311.4h0M875.8 346.3h0M878.9 315.6h0M900.6 344.8h0M844.5 372.9h0M863.1 304.2h0M857.2 345.4h0M904.3 366.1h0M870.9 363.2h0M862.1 383.7h0M880.6 348.7h0M851.6 353.4h0M851.0 377.6h0M866.5 353.3h0M838.5 373.3h0M861.5 359.1h0M870.9 338.6h0M874.8 316.7h0M836.8 364.0h0M896.8 246.2h0M874.5 360.4h0M841.0 352.6h0M854.3 370.2h0M853.5 338.9h0M882.9 328.8h0M853.7 332.3h0M891.9 339.5h0M858.2 335.0h0M868.6 351.9h0M855.8 336.7h0M866.5 380.2h0M939.9 274.1h0M861.5 391.9h0M836.7 371.0h0M908.5 309.7h0M926.0 211.2h0M889.6 327.1h0M833.8 371.5h0M868.3 355.3h0M858.5 388.1h0M898.6 317.7h0M901.5 331.9h0M868.9 334.9h0M846.9 381.0h0M846.0 377.4h0M853.5 347.9h0M873.5 301.5h0M856.0 337.3h0M868.1 372.5h0M841.0 349.4h0M851.2 292.3h0M869.0 301.5h0M870.3 321.1h0M842.7 323.0h0M904.1 307.5h0M854.2 360.2h0M845.6 354.8h0M927.4 262.2h0M879.8 275.2h0M885.1 322.9h0M841.3 322.4h0M922.5 234.1h0M864.4 362.0h0" stroke="#be5059" stroke-width="6.00"/>
<path d="M862.3 345.2h0M856.6 363.7h0M858.0 299.5h0M850.0 351.9h0M865.1 339.8h0M865.2 408.9h0M866.1 346.8h0M847.8 384.1h0M842.6 372.9h0M871.8 389.6h0M858.1 353.8h0M903.4 329.1h0M878.2 339.9h0M854.8 352.3h0M878.5 353.2h0M877.8 354.1h0M873.5 365.8h0M857.2 340.3h0M886.0 362.7h0M906.6 336.0h0M873.3 288.2h0M872.9 355.7h0M839.9 364.9h0M854.7 336.5h0M888.4 317.3h0M864.6 310.3h0M856.7 333.5h0M840.4 364.6h0M928.0 310.9h0M863.8 286.2h0M839.6 366.3h0M869.3 361.2h0M848.1 376.7h0M864.9 387.4h0M854.9 334.7h0M846.0 351.3h0M829.2 320.8h0M837.5 317.3h0M857.9 376.7h0M865.7 369.5h0M838.1 319.4h0M851.3 353.6h0M874.7 354.2h0M862.4 382.0h0M888.8 283.2h0M889.9 341.2h0M884.0 346.2h0M876.2 287.1h0M885.9 304.7h0M857.9 255.8h0M855.4 319.6h0M908.2 271.4h0M872.8 315.1h0M859.6 346.7h0M855.8 323.8h0M858.3 332.7h0M865.2 357.8h0M866.9 381.5h0M858.4 373.3h0M850.9 311.4h0M875.8 346.3h0M878.9 315.6h0M900.6 344.8h0M844.5 372.9h0M863.1 304.2h0M857.2 345.4h0M904.3 366.1h0M870.9 363.2h0M862.1 383.7h0M880.6 348.7h0M851.6 353.4h0M851.0 377.6h0M866.5 353.3h0M838.5 373.3h0M861.5 359.1h0M870.9 338.6h0M874.8 316.7h0M836.8 364.0h0M896.8 246.2h0M874.5 360.4h0M841.0 352.6h0M854.3 370.2h0M853.5 338.9h0M882.9 328.8h0M853.7 332.3h0M891.9 339.5h0M858.2 335.0h0M868.6 351.9h0M855.8 336.7h0M866.5 380.2h0M939.9 274.1h0M861.5 391.9h0M836.7 371.0h0M908.5 309.7h0M926.0 211.2h0M889.6 327.1h0M833.8 371.5h0M868.3 355.3h0M858.5 388.1h0M898.6 317.7h0M901.5 331.9h0M868.9 334.9h0M846.9 381.0h0M846.0 377.4h0M853.5 347.9h0M873.5 301.5h0M856.0 337.3h0M868.1 372.5h0M841.0 349.4h0M851.2 292.3h0M869.0 301.5h0M870.3 321.1h0M842.7 323.0h0M904.1 307.5h0M854.2 360.2h0M845.6 354.8h0M927.4 262.2h0M879.8 275.2h0M885.1 322.9h0M841.3 322.4h0M922.5 234.1h0M864.4 362.0h0" stroke="#dd5e68" stroke-width="5.20"/>
<path d="M865.1 263.1h0M851.1 356.6h0M884.6 308.8h0M886.3 347.9h0M848.6 373.9h0M836.4 376.1h0M857.8 367.3h0M838.8 359.2h0M848.0 306.8h0M886.2 331.0h0M835.2 358.8h0M861.0 335.0h0M882.9 303.9h0M848.6 374.9h0M872.2 301.5h0M889.7 312.2h0M848.0 380.4h0M862.7 360.6h0M831.6 363.5h0M844.2 344.4h0M828.5 321.9h0M849.2 382.2h0M840.8 358.4h0M864.2 330.2h0M843.9 370.2h0M876.7 299.6h0M877.8 328.6h0M849.0 322.1h0M850.9 349.8h0M851.0 305.7h0M869.5 354.5h0M830.6 363.4h0M829.2 312.7h0M851.6 367.6h0M840.5 376.9h0M867.9 371.6h0M880.3 373.4h0M840.4 365.5h0M854.5 307.2h0M832.0 353.6h0M819.2 327.7h0M851.3 372.4h0M866.6 307.4h0M856.1 380.1h0M872.7 346.4h0M839.4 312.8h0M847.9 339.8h0M831.7 367.4h0M856.7 361.3h0M897.9 335.6h0M854.4 366.9h0M841.7 359.6h0M851.8 353.2h0M876.7 341.4h0M876.7 322.1h0M830.7 321.9h0M871.2 381.7h0M908.1 284.8h0M851.0 384.9h0M868.7 349.4h0M873.8 297.6h0M834.7 375.0h0M911.3 350.7h0M861.2 273.5h0M843.7 369.6h0M862.4 316.8h0M854.8 360.0h0M840.7 372.8h0M830.6 348.1h0M862.9 330.9h0M850.5 348.5h0M867.4 353.1h0M855.3 299.7h0M872.2 277.3h0M861.6 367.1h0M847.8 355.9h0M865.9 335.3h0M835.3 323.8h0M917.8 265.5h0M858.0 268.7h0M898.6 257.2h0M851.0 296.9h0M838.1 324.4h0M843.0 379.2h0M849.0 371.3h0M855.4 320.2h0M844.7 371.1h0M852.5 353.3h0M873.1 379.7h0M878.8 364.5h0M841.7 302.2h0M846.2 318.8h0M869.7 264.1h0M863.6 350.6h0M838.4 371.8h0M830.5 368.5h0M846.0 371.3h0M854.0 353.0h0M843.7 368.3h0M870.0 314.9h0M862.7 273.9h0M855.8 279.3h0M847.9 282.5h0M855.9 346.2h0M851.4 387.7h0M861.7 351.1h0M850.5 299.3h0M846.2 306.2h0" stroke="#ba4d58" stroke-width="6.00"/>
<path d="M865.1 263.1h0M851.1 356.6h0M884.6 308.8h0M886.3 347.9h0M848.6 373.9h0M836.4 376.1h0M857.8 367.3h0M838.8 359.2h0M848.0 306.8h0M886.2 331.0h0M835.2 358.8h0M861.0 335.0h0M882.9 303.9h0M848.6 374.9h0M872.2 301.5h0M889.7 312.2h0M848.0 380.4h0M862.7 360.6h0M831.6 363.5h0M844.2 344.4h0M828.5 321.9h0M849.2 382.2h0M840.8 358.4h0M864.2 330.2h0M843.9 370.2h0M876.7 299.6h0M877.8 328.6h0M849.0 322.1h0M850.9 349.8h0M851.0 305.7h0M869.5 354.5h0M830.6 363.4h0M829.2 312.7h0M851.6 367.6h0M840.5 376.9h0M867.9 371.6h0M880.3 373.4h0M840.4 365.5h0M854.5 307.2h0M832.0 353.6h0M819.2 327.7h0M851.3 372.4h0M866.6 307.4h0M856.1 380.1h0M872.7 346.4h0M839.4 312.8h0M847.9 339.8h0M831.7 367.4h0M856.7 361.3h0M897.9 335.6h0M854.4 366.9h0M841.7 359.6h0M851.8 353.2h0M876.7 341.4h0M876.7 322.1h0M830.7 321.9h0M871.2 381.7h0M908.1 284.8h0M851.0 384.9h0M868.7 349.4h0M873.8 297.6h0M834.7 375.0h0M911.3 350.7h0M861.2 273.5h0M843.7 369.6h0M862.4 316.8h0M854.8 360.0h0M840.7 372.8h0M830.6 348.1h0M862.9 330.9h0M850.5 348.5h0M867.4 353.1h0M855.3 299.7h0M872.2 277.3h0M861.6 367.1h0M847.8 355.9h0M865.9 335.3h0M835.3 323.8h0M917.8 265.5h0M858.0 268.7h0M898.6 257.2h0M851.0 296.9h0M838.1 324.4h0M843.0 379.2h0M849.0 371.3h0M855.4 320.2h0M844.7 371.1h0M852.5 353.3h0M873.1 379.7h0M878.8 364.5h0M841.7 302.2h0M846.2 318.8h0M869.7 264.1h0M863.6 350.6h0M838.4 371.8h0M830.5 368.5h0M846.0 371.3h0M854.0 353.0h0M843.7 368.3h0M870.0 314.9h0M862.7 273.9h0M855.8 279.3h0M847.9 282.5h0M855.9 346.2h0M851.4 387.7h0M861.7 351.1h0M850.5 299.3h0M846.2 306.2h0" stroke="#d95a67" stroke-width="5.20"/>
<path d="M882.0 336.2h0M856.5 252.5h0M872.6 217.4h0M852.9 236.1h0M850.2 308.7h0M862.5 256.0h0M855.2 379.3h0M849.3 307.4h0M861.7 317.8h0M843.3 261.4h0M855.2 341.1h0M850.8 346.9h0M847.9 294.3h0M827.8 353.9h0M862.0 250.9h0M858.0 345.9h0M837.6 352.1h0M869.3 274.3h0M832.4 332.6h0M858.3 325.9h0M850.0 295.6h0M837.8 295.1h0M833.4 298.9h0M844.6 359.5h0M834.1 348.5h0M877.2 307.3h0M820.2 321.5h0M836.8 260.7h0M838.0 217.8h0M846.1 313.1h0M850.0 346.9h0M844.5 299.4h0M853.3 315.8h0M856.2 332.9h0M836.7 354.1h0M835.7 292.8h0M848.6 363.1h0M859.7 262.1h0M838.0 342.7h0M853.1 326.7h0M865.1 265.5h0M848.5 306.1h0M839.3 329.6h0M853.0 320.3h0M905.6 238.6h0M854.7 313.6h0M855.7 344.2h0M862.3 222.5h0M851.0 320.8h0M879.3 248.0h0M852.7 258.7h0M826.3 284.9h0M865.4 280.3h0M876.6 325.7h0M835.3 350.6h0M845.0 373.7h0M847.8 279.2h0M847.6 344.7h0M857.7 359.1h0M827.7 360.5h0M839.1 355.9h0M841.5 369.0h0M842.3 326.7h0M875.5 288.3h0M868.1 295.3h0M842.1 378.0h0M901.4 269.4h0M828.1 314.8h0M844.9 380.8h0M840.0 289.0h0M821.2 316.2h0M827.9 359.2h0M834.4 305.6h0M857.8 277.9h0M870.0 316.6h0M871.8 232.4h0M836.2 363.1h0M838.6 352.0h0M858.4 284.4h0M837.7 355.2h0M827.8 307.3h0M853.0 355.7h0M849.7 348.3h0M831.2 355.0h0M853.3 306.8h0M838.2 307.8h0M854.2 298.3h0" stroke="#b74956" stroke-width="6.00"/>
<path d="M882.0 336.2h0M856.5 252.5h0M872.6 217.4h0M852.9 236.1h0M850.2 308.7h0M862.5 256.0h0M855.2 379.3h0M849.3 307.4h0M861.7 317.8h0M843.3 261.4h0M855.2 341.1h0M850.8 346.9h0M847.9 294.3h0M827.8 353.9h0M862.0 250.9h0M858.0 345.9h0M837.6 352.1h0M869.3 274.3h0M832.4 332.6h0M858.3 325.9h0M850.0 295.6h0M837.8 295.1h0M833.4 298.9h0M844.6 359.5h0M834.1 348.5h0M877.2 307.3h0M820.2 321.5h0M836.8 260.7h0M838.0 217.8h0M846.1 313.1h0M850.0 346.9h0M844.5 299.4h0M853.3 315.8h0M856.2 332.9h0M836.7 354.1h0M835.7 292.8h0M848.6 363.1h0M859.7 262.1h0M838.0 342.7h0M853.1 326.7h0M865.1 265.5h0M848.5 306.1h0M839.3 329.6h0M853.0 320.3h0M905.6 238.6h0M854.7 313.6h0M855.7 344.2h0M862.3 222.5h0M851.0 320.8h0M879.3 248.0h0M852.7 258.7h0M826.3 284.9h0M865.4 280.3h0M876.6 325.7h0M835.3 350.6h0M845.0 373.7h0M847.8 279.2h0M847.6 344.7h0M857.7 359.1h0M827.7 360.5h0M839.1 355.9h0M841.5 369.0h0M842.3 326.7h0M875.5 288.3h0M868.1 295.3h0M842.1 378.0h0M901.4 269.4h0M828.1 314.8h0M844.9 380.8h0M840.0 289.0h0M821.2 316.2h0M827.9 359.2h0M834.4 305.6h0M857.8 277.9h0M870.0 316.6h0M871.8 232.4h0M836.2 363.1h0M838.6 352.0h0M858.4 284.4h0M837.7 355.2h0M827.8 307.3h0M853.0 355.7h0M849.7 348.3h0M831.2 355.0h0M853.3 306.8h0M838.2 307.8h0M854.2 298.3h0" stroke="#d55665" stroke-width="5.20"/>
<path d="M855.2 276.9h0M863.0 347.2h0M838.8 301.1h0M853.1 366.1h0M855.3 359.9h0M834.9 301.1h0M834.7 320.2h0M848.4 226.3h0M842.0 353.8h0M850.3 295.7h0M829.5 297.0h0M831.3 346.2h0M846.4 251.6h0M808.7 274.9h0M836.6 337.2h0M843.6 254.1h0M864.7 224.4h0M835.1 341.3h0M851.7 345.9h0M827.1 344.4h0M869.7 267.1h0M862.8 371.9h0M829.2 352.1h0M860.4 273.6h0M857.8 322.0h0M842.1 291.3h0M868.7 241.6h0M836.5 302.3h0M837.5 252.8h0M828.4 321.9h0M822.2 316.7h0M835.6 292.3h0M843.1 308.3h0M841.3 340.5h0M825.6 297.8h0M845.0 262.4h0M863.8 302.0h0M840.9 347.5h0M870.2 276.9h0M862.5 252.7h0M845.2 283.4h0M863.4 261.8h0M831.6 329.4h0M834.8 361.7h0M833.3 334.3h0M838.0 320.4h0M843.4 346.5h0M858.9 349.5h0M827.5 283.0h0M846.7 336.9h0M872.1 301.9h0M834.6 347.3h0M848.7 301.0h0M857.8 265.2h0M853.5 342.3h0M851.0 372.0h0M859.6 307.3h0M849.5 267.4h0M856.4 286.1h0M855.3 279.1h0M841.8 357.6h0M849.8 258.1h0M851.0 256.6h0M839.7 308.4h0M850.7 241.0h0M838.3 291.1h0M860.8 289.0h0M865.2 361.4h0M837.9 331.4h0M830.8 282.1h0M837.5 316.3h0M824.1 327.6h0M846.6 273.8h0M835.5 297.5h0M841.9 320.6h0M838.8 322.4h0M855.5 329.4h0M827.8 316.5h0M841.2 352.3h0M866.8 277.3h0M834.0 353.3h0M875.5 311.8h0M846.3 291.3h0M863.1 302.1h0M845.1 306.8h0M839.7 334.3h0M864.8 245.3h0M814.3 317.0h0M828.7 282.3h0M864.1 271.6h0M863.9 375.2h0M850.9 291.1h0M845.9 353.7h0M857.9 214.5h0M846.7 279.7h0M864.8 265.7h0M858.7 267.0h0M849.5 326.7h0M849.2 321.8h0M867.6 254.7h0M869.7 237.3h0M843.8 352.1h0M831.6 311.8h0M838.1 309.8h0" stroke="#b34656" stroke-width="6.00"/>
<path d="M855.2 276.9h0M863.0 347.2h0M838.8 301.1h0M853.1 366.1h0M855.3 359.9h0M834.9 301.1h0M834.7 320.2h0M848.4 226.3h0M842.0 353.8h0M850.3 295.7h0M829.5 297.0h0M831.3 346.2h0M846.4 251.6h0M808.7 274.9h0M836.6 337.2h0M843.6 254.1h0M864.7 224.4h0M835.1 341.3h0M851.7 345.9h0M827.1 344.4h0M869.7 267.1h0M862.8 371.9h0M829.2 352.1h0M860.4 273.6h0M857.8 322.0h0M842.1 291.3h0M868.7 241.6h0M836.5 302.3h0M837.5 252.8h0M828.4 321.9h0M822.2 316.7h0M835.6 292.3h0M843.1 308.3h0M841.3 340.5h0M825.6 297.8h0M845.0 262.4h0M863.8 302.0h0M840.9 347.5h0M870.2 276.9h0M862.5 252.7h0M845.2 283.4h0M863.4 261.8h0M831.6 329.4h0M834.8 361.7h0M833.3 334.3h0M838.0 320.4h0M843.4 346.5h0M858.9 349.5h0M827.5 283.0h0M846.7 336.9h0M872.1 301.9h0M834.6 347.3h0M848.7 301.0h0M857.8 265.2h0M853.5 342.3h0M851.0 372.0h0M859.6 307.3h0M849.5 267.4h0M856.4 286.1h0M855.3 279.1h0M841.8 357.6h0M849.8 258.1h0M851.0 256.6h0M839.7 308.4h0M850.7 241.0h0M838.3 291.1h0M860.8 289.0h0M865.2 361.4h0M837.9 331.4h0M830.8 282.1h0M837.5 316.3h0M824.1 327.6h0M846.6 273.8h0M835.5 297.5h0M841.9 320.6h0M838.8 322.4h0M855.5 329.4h0M827.8 316.5h0M841.2 352.3h0M866.8 277.3h0M834.0 353.3h0M875.5 311.8h0M846.3 291.3h0M863.1 302.1h0M845.1 306.8h0M839.7 334.3h0M864.8 245.3h0M814.3 317.0h0M828.7 282.3h0M864.1 271.6h0M863.9 375.2h0M850.9 291.1h0M845.9 353.7h0M857.9 214.5h0M846.7 279.7h0M864.8 265.7h0M858.7 267.0h0M849.5 326.7h0M849.2 321.8h0M867.6 254.7h0M869.7 237.3h0M843.8 352.1h0M831.6 311.8h0M838.1 309.8h0" stroke="#d15264" stroke-width="5.20"/>
<path d="M869.1 353.3h0M841.8 340.2h0M850.4 306.4h0M864.3 287.5h0M860.3 240.1h0M859.8 268.4h0M827.4 342.6h0M832.2 311.6h0M852.3 289.7h0M817.4 318.5h0M831.6 270.8h0M842.5 325.1h0M847.9 308.7h0M817.4 304.2h0M854.9 238.9h0M821.0 276.1h0M831.4 332.3h0M853.0 318.4h0M841.8 349.0h0M850.9 311.6h0M834.7 340.8h0M849.9 244.7h0M856.8 246.2h0M828.2 346.8h0M830.8 342.2h0M832.5 367.7h0M833.4 310.2h0M849.8 249.9h0M852.2 261.4h0M836.3 372.6h0M839.0 350.1h0M851.2 241.4h0M819.8 276.7h0M829.2 340.8h0M857.4 299.9h0M836.4 309.9h0M823.6 318.4h0M814.6 320.5h0M845.3 353.3h0M834.7 332.5h0M838.9 346.9h0M855.2 280.0h0M840.4 338.1h0M835.1 297.1h0M832.3 305.3h0M831.9 257.6h0M839.5 351.0h0M817.4 313.7h0M840.9 312.9h0M834.6 343.3h0M833.0 337.5h0M842.2 281.3h0M830.2 295.9h0M813.9 302.1h0M835.1 306.8h0M825.1 330.1h0M828.3 352.7h0M840.4 305.3h0M848.6 315.6h0M831.1 309.9h0M850.5 262.7h0M822.3 300.4h0M818.3 271.2h0M831.1 267.2h0M836.8 348.2h0M842.5 256.8h0M832.4 323.1h0M828.9 348.5h0M856.5 258.1h0M841.7 331.8h0M834.5 294.2h0M842.6 267.2h0M823.8 294.8h0M827.9 311.8h0M864.2 271.9h0M844.7 342.5h0M843.7 315.5h0M847.3 251.9h0M839.0 290.2h0M874.8 270.5h0" stroke="#b14155" stroke-width="6.00"/>
<path d="M869.1 353.3h0M841.8 340.2h0M850.4 306.4h0M864.3 287.5h0M860.3 240.1h0M859.8 268.4h0M827.4 342.6h0M832.2 311.6h0M852.3 289.7h0M817.4 318.5h0M831.6 270.8h0M842.5 325.1h0M847.9 308.7h0M817.4 304.2h0M854.9 238.9h0M821.0 276.1h0M831.4 332.3h0M853.0 318.4h0M841.8 349.0h0M850.9 311.6h0M834.7 340.8h0M849.9 244.7h0M856.8 246.2h0M828.2 346.8h0M830.8 342.2h0M832.5 367.7h0M833.4 310.2h0M849.8 249.9h0M852.2 261.4h0M836.3 372.6h0M839.0 350.1h0M851.2 241.4h0M819.8 276.7h0M829.2 340.8h0M857.4 299.9h0M836.4 309.9h0M823.6 318.4h0M814.6 320.5h0M845.3 353.3h0M834.7 332.5h0M838.9 346.9h0M855.2 280.0h0M840.4 338.1h0M835.1 297.1h0M832.3 305.3h0M831.9 257.6h0M839.5 351.0h0M817.4 313.7h0M840.9 312.9h0M834.6 343.3h0M833.0 337.5h0M842.2 281.3h0M830.2 295.9h0M813.9 302.1h0M835.1 306.8h0M825.1 330.1h0M828.3 352.7h0M840.4 305.3h0M848.6 315.6h0M831.1 309.9h0M850.5 262.7h0M822.3 300.4h0M818.3 271.2h0M831.1 267.2h0M836.8 348.2h0M842.5 256.8h0M832.4 323.1h0M828.9 348.5h0M856.5 258.1h0M841.7 331.8h0M834.5 294.2h0M842.6 267.2h0M823.8 294.8h0M827.9 311.8h0M864.2 271.9h0M844.7 342.5h0M843.7 315.5h0M847.3 251.9h0M839.0 290.2h0M874.8 270.5h0" stroke="#ce4c63" stroke-width="5.20"/>
<path d="M833.1 274.8h0M823.4 288.6h0M854.2 300.2h0M835.6 306.5h0M836.7 278.4h0M832.7 243.7h0M834.3 330.0h0M848.0 262.6h0M819.2 305.3h0M821.1 260.6h0M815.2 310.2h0M837.4 213.0h0M844.7 287.3h0M825.2 335.6h0M831.2 266.2h0M832.4 259.2h0M818.9 285.1h0M840.8 350.5h0M827.3 314.9h0M828.4 278.6h0M808.7 257.6h0M828.6 315.4h0M807.3 257.3h0M838.1 299.3h0M819.7 317.4h0M835.9 293.3h0M797.7 248.8h0M843.8 283.4h0M844.6 235.4h0M828.4 317.5h0M837.1 304.2h0M835.1 349.8h0M834.2 300.0h0M847.4 248.4h0M835.5 332.8h0M801.5 281.4h0M855.3 253.7h0M824.6 333.4h0M846.2 343.6h0M849.9 238.5h0M823.7 293.4h0M848.0 332.7h0M828.8 295.4h0M817.0 304.0h0M837.9 343.8h0M823.2 276.8h0M815.7 300.2h0M835.3 362.3h0M830.4 329.6h0M817.7 324.4h0M822.0 318.1h0M859.1 279.4h0M835.6 245.1h0M811.6 307.4h0M829.4 259.0h0M815.7 318.0h0M835.4 341.9h0M852.4 254.7h0M822.4 319.5h0M820.9 248.8h0M824.1 310.9h0M827.1 289.2h0M823.1 284.2h0M817.6 294.0h0M820.9 277.9h0M810.7 248.8h0M834.8 276.1h0M836.3 231.6h0M844.7 209.3h0M815.4 273.9h0M848.2 262.5h0M838.7 268.2h0M812.6 242.9h0" stroke="#ad3d54" stroke-width="6.00"/>
<path d="M833.1 274.8h0M823.4 288.6h0M854.2 300.2h0M835.6 306.5h0M836.7 278.4h0M832.7 243.7h0M834.3 330.0h0M848.0 262.6h0M819.2 305.3h0M821.1 260.6h0M815.2 310.2h0M837.4 213.0h0M844.7 287.3h0M825.2 335.6h0M831.2 266.2h0M832.4 259.2h0M818.9 285.1h0M840.8 350.5h0M827.3 314.9h0M828.4 278.6h0M808.7 257.6h0M828.6 315.4h0M807.3 257.3h0M838.1 299.3h0M819.7 317.4h0M835.9 293.3h0M797.7 248.8h0M843.8 283.4h0M844.6 235.4h0M828.4 317.5h0M837.1 304.2h0M835.1 349.8h0M834.2 300.0h0M847.4 248.4h0M835.5 332.8h0M801.5 281.4h0M855.3 253.7h0M824.6 333.4h0M846.2 343.6h0M849.9 238.5h0M823.7 293.4h0M848.0 332.7h0M828.8 295.4h0M817.0 304.0h0M837.9 343.8h0M823.2 276.8h0M815.7 300.2h0M835.3 362.3h0M830.4 329.6h0M817.7 324.4h0M822.0 318.1h0M859.1 279.4h0M835.6 245.1h0M811.6 307.4h0M829.4 259.0h0M815.7 318.0h0M835.4 341.9h0M852.4 254.7h0M822.4 319.5h0M820.9 248.8h0M824.1 310.9h0M827.1 289.2h0M823.1 284.2h0M817.6 294.0h0M820.9 277.9h0M810.7 248.8h0M834.8 276.1h0M836.3 231.6h0M844.7 209.3h0M815.4 273.9h0M848.2 262.5h0M838.7 268.2h0M812.6 242.9h0" stroke="#ca4762" stroke-width="5.20"/>
<path d="M824.0 292.7h0M830.9 332.2h0M819.1 280.3h0M834.9 304.4h0M817.1 303.5h0M833.0 264.0h0M831.4 272.5h0M808.0 280.4h0M832.2 257.3h0M821.7 323.8h0M851.1 258.7h0M834.6 331.3h0M837.6 256.3h0M820.6 221.2h0M814.9 310.9h0M803.5 277.7h0M796.2 256.0h0M804.5 283.3h0M837.4 347.0h0M818.1 268.1h0M845.8 320.9h0M820.4 300.2h0M816.1 312.5h0M835.8 257.0h0M837.4 330.7h0M811.4 289.7h0M803.8 266.5h0M813.6 268.0h0M837.8 309.9h0M823.9 268.8h0M811.5 308.8h0M858.4 244.7h0M810.4 290.1h0M821.1 271.5h0M812.2 266.7h0M804.2 264.7h0M814.2 305.2h0M840.6 338.3h0M825.4 337.5h0M828.8 250.2h0M821.2 275.3h0M819.7 251.7h0M817.5 296.9h0M829.9 320.3h0M830.6 317.0h0M833.5 274.0h0M808.1 278.3h0M827.1 254.5h0M810.4 286.5h0M818.5 315.0h0M815.6 304.4h0M830.8 332.3h0M823.0 268.3h0M822.2 258.6h0M825.2 296.3h0M799.1 256.8h0M834.0 313.4h0M817.2 243.4h0M838.1 233.5h0M825.3 303.5h0M838.7 336.1h0M807.6 281.8h0M832.1 242.7h0M876.5 194.6h0M790.3 257.3h0M808.1 282.2h0M799.8 277.4h0M808.0 255.6h0M797.0 261.3h0M821.5 294.2h0M819.2 293.5h0M829.9 293.7h0M847.4 240.9h0M835.3 339.4h0M828.6 249.0h0M821.6 282.0h0M811.6 262.0h0" stroke="#aa3853" stroke-width="6.00"/>
<path d="M824.0 292.7h0M830.9 332.2h0M819.1 280.3h0M834.9 304.4h0M817.1 303.5h0M833.0 264.0h0M831.4 272.5h0M808.0 280.4h0M832.2 257.3h0M821.7 323.8h0M851.1 258.7h0M834.6 331.3h0M837.6 256.3h0M820.6 221.2h0M814.9 310.9h0M803.5 277.7h0M796.2 256.0h0M804.5 283.3h0M837.4 347.0h0M818.1 268.1h0M845.8 320.9h0M820.4 300.2h0M816.1 312.5h0M835.8 257.0h0M837.4 330.7h0M811.4 289.7h0M803.8 266.5h0M813.6 268.0h0M837.8 309.9h0M823.9 268.8h0M811.5 308.8h0M858.4 244.7h0M810.4 290.1h0M821.1 271.5h0M812.2 266.7h0M804.2 264.7h0M814.2 305.2h0M840.6 338.3h0M825.4 337.5h0M828.8 250.2h0M821.2 275.3h0M819.7 251.7h0M817.5 296.9h0M829.9 320.3h0M830.6 317.0h0M833.5 274.0h0M808.1 278.3h0M827.1 254.5h0M810.4 286.5h0M818.5 315.0h0M815.6 304.4h0M830.8 332.3h0M823.0 268.3h0M822.2 258.6h0M825.2 296.3h0M799.1 256.8h0M834.0 313.4h0M817.2 243.4h0M838.1 233.5h0M825.3 303.5h0M838.7 336.1h0M807.6 281.8h0M832.1 242.7h0M876.5 194.6h0M790.3 257.3h0M808.1 282.2h0M799.8 277.4h0M808.0 255.6h0M797.0 261.3h0M821.5 294.2h0M819.2 293.5h0M829.9 293.7h0M847.4 240.9h0M835.3 339.4h0M828.6 249.0h0M821.6 282.0h0M811.6 262.0h0" stroke="#c64261" stroke-width="5.20"/>
<path d="M841.7 193.7h0M815.7 296.2h0M808.5 291.4h0M801.0 270.3h0M832.7 325.7h0M811.0 232.2h0M834.3 337.5h0M815.4 299.1h0M813.7 276.6h0M805.1 281.5h0M809.1 291.1h0M832.2 285.1h0M825.5 260.3h0M810.8 297.6h0M807.3 286.1h0M822.8 244.9h0M809.0 248.4h0M825.9 287.6h0M837.0 299.2h0M818.8 278.4h0M815.8 264.9h0M808.9 281.8h0M815.6 286.0h0M809.6 292.3h0M821.6 272.3h0M820.6 306.3h0M808.3 278.5h0M814.1 285.7h0M816.3 268.3h0M824.3 332.8h0M796.9 246.8h0M794.6 249.3h0M846.8 213.3h0M798.7 277.4h0M829.5 321.4h0M804.9 268.3h0M822.9 267.8h0M811.5 303.6h0M804.9 267.7h0M818.5 308.5h0M864.3 275.4h0M809.0 269.5h0M826.4 303.2h0" stroke="#a63452" stroke-width="6.00"/>
<path d="M841.7 193.7h0M815.7 296.2h0M808.5 291.4h0M801.0 270.3h0M832.7 325.7h0M811.0 232.2h0M834.3 337.5h0M815.4 299.1h0M813.7 276.6h0M805.1 281.5h0M809.1 291.1h0M832.2 285.1h0M825.5 260.3h0M810.8 297.6h0M807.3 286.1h0M822.8 244.9h0M809.0 248.4h0M825.9 287.6h0M837.0 299.2h0M818.8 278.4h0M815.8 264.9h0M808.9 281.8h0M815.6 286.0h0M809.6 292.3h0M821.6 272.3h0M820.6 306.3h0M808.3 278.5h0M814.1 285.7h0M816.3 268.3h0M824.3 332.8h0M796.9 246.8h0M794.6 249.3h0M846.8 213.3h0M798.7 277.4h0M829.5 321.4h0M804.9 268.3h0M822.9 267.8h0M811.5 303.6h0M804.9 267.7h0M818.5 308.5h0M864.3 275.4h0M809.0 269.5h0M826.4 303.2h0" stroke="#c23d60" stroke-width="5.20"/>
<path d="M804.6 254.5h0M793.3 259.6h0M802.3 263.4h0M822.1 227.9h0M797.2 233.1h0M832.9 337.6h0M798.6 237.3h0M810.0 237.8h0M799.0 260.3h0M804.3 283.8h0M815.9 224.3h0M798.0 272.1h0M785.3 246.2h0M799.8 244.0h0M803.0 247.7h0M803.7 273.5h0M811.0 286.1h0M818.8 288.7h0M801.9 277.1h0M831.6 255.4h0M805.2 244.8h0M807.2 285.6h0M827.4 239.6h0M807.1 248.6h0M808.0 259.5h0M791.3 249.5h0" stroke="#a23051" stroke-width="6.00"/>
<path d="M804.6 254.5h0M793.3 259.6h0M802.3 263.4h0M822.1 227.9h0M797.2 233.1h0M832.9 337.6h0M798.6 237.3h0M810.0 237.8h0M799.0 260.3h0M804.3 283.8h0M815.9 224.3h0M798.0 272.1h0M785.3 246.2h0M799.8 244.0h0M803.0 247.7h0M803.7 273.5h0M811.0 286.1h0M818.8 288.7h0M801.9 277.1h0M831.6 255.4h0M805.2 244.8h0M807.2 285.6h0M827.4 239.6h0M807.1 248.6h0M808.0 259.5h0M791.3 249.5h0" stroke="#bd385f" stroke-width="5.20"/>
<path d="M799.8 208.4h0M784.8 240.7h0M817.2 298.5h0M810.6 296.9h0M810.7 279.3h0M804.9 274.1h0M796.4 245.8h0M790.0 255.9h0M822.4 259.7h0M796.8 248.9h0M807.7 269.7h0M806.4 270.3h0M816.2 293.2h0M796.3 242.7h0M813.4 284.4h0M800.5 247.1h0M786.6 228.1h0M820.4 303.8h0M799.9 260.0h0M808.5 283.8h0M785.4 230.8h0M800.2 250.9h0M811.3 251.4h0M786.8 207.9h0M793.1 261.2h0M795.1 239.4h0M810.1 232.9h0M816.5 298.4h0" stroke="#9f2b51" stroke-width="6.00"/>
<path d="M799.8 208.4h0M784.8 240.7h0M817.2 298.5h0M810.6 296.9h0M810.7 279.3h0M804.9 274.1h0M796.4 245.8h0M790.0 255.9h0M822.4 259.7h0M796.8 248.9h0M807.7 269.7h0M806.4 270.3h0M816.2 293.2h0M796.3 242.7h0M813.4 284.4h0M800.5 247.1h0M786.6 228.1h0M820.4 303.8h0M799.9 260.0h0M808.5 283.8h0M785.4 230.8h0M800.2 250.9h0M811.3 251.4h0M786.8 207.9h0M793.1 261.2h0M795.1 239.4h0M810.1 232.9h0M816.5 298.4h0" stroke="#b9335f" stroke-width="5.20"/>
<path d="M797.8 249.8h0M791.1 228.1h0M790.9 212.9h0M801.8 232.1h0M782.7 221.1h0M786.1 226.2h0M782.0 218.9h0M822.2 264.1h0M803.1 248.5h0M792.5 242.6h0M795.2 209.2h0M783.7 238.0h0M790.0 258.1h0M787.3 240.9h0M799.1 259.2h0M788.2 240.3h0M786.3 219.4h0M809.4 259.3h0M802.6 224.4h0" stroke="#9a2850" stroke-width="6.00"/>
<path d="M797.8 249.8h0M791.1 228.1h0M790.9 212.9h0M801.8 232.1h0M782.7 221.1h0M786.1 226.2h0M782.0 218.9h0M822.2 264.1h0M803.1 248.5h0M792.5 242.6h0M795.2 209.2h0M783.7 238.0h0M790.0 258.1h0M787.3 240.9h0M799.1 259.2h0M788.2 240.3h0M786.3 219.4h0M809.4 259.3h0M802.6 224.4h0" stroke="#b42f5e" stroke-width="5.20"/>
<path d="M792.4 229.2h0M782.0 206.5h0M799.2 215.8h0M798.9 203.6h0M781.2 216.4h0M783.0 237.4h0M807.3 212.6h0M784.1 219.3h0" stroke="#972450" stroke-width="6.00"/>
<path d="M792.4 229.2h0M782.0 206.5h0M799.2 215.8h0M798.9 203.6h0M781.2 216.4h0M783.0 237.4h0M807.3 212.6h0M784.1 219.3h0" stroke="#b02a5e" stroke-width="5.20"/>
<path d="M782.9 202.9h0M787.4 222.2h0M780.4 226.0h0M792.6 214.0h0" stroke="#932050" stroke-width="6.00"/>
<path d="M782.9 202.9h0M787.4 222.2h0M780.4 226.0h0M792.6 214.0h0" stroke="#ab265e" stroke-width="5.20"/>
<path d="M780.0 220.2h0M775.4 203.6h0" stroke="#8e1e50" stroke-width="6.00"/>
<path d="M780.0 220.2h0M775.4 203.6h0" stroke="#a6235e" stroke-width="5.20"/>
<path d="M930.0 541.0h0M932.4 549.7h0M933.7 557.4h0" stroke="#ce765e" stroke-width="6.00"/>
<path d="M930.0 541.0h0M932.4 549.7h0M933.7 557.4h0" stroke="#f08a6e" stroke-width="5.20"/>
<path d="M851.0 430.0h0M848.0 424.0h0M852.0 418.0h0M855.0 428.0h0M845.0 427.0h0" stroke="#c7625c" stroke-width="6.00"/>
<path d="M851.0 430.0h0M848.0 424.0h0M852.0 418.0h0M855.0 428.0h0M845.0 427.0h0" stroke="#e8726b" stroke-width="5.20"/>
<path d="M844.6 408.5h0M842.0 410.0h0M846.0 414.0h0M843.0 420.0h0M850.0 408.0h0" stroke="#c55c5b" stroke-width="6.00"/>
<path d="M844.6 408.5h0M842.0 410.0h0M846.0 414.0h0M843.0 420.0h0M850.0 408.0h0" stroke="#e66c6a" stroke-width="5.20"/>
<path d="M914.7 219.4h0M905.8 226.8h0M910.3 223.9h0M836.0 387.0h0M897.7 270.5h0M900.6 252.7h0" stroke="#c0545a" stroke-width="6.00"/>
<path d="M914.7 219.4h0M905.8 226.8h0M910.3 223.9h0M836.0 387.0h0M897.7 270.5h0M900.6 252.7h0" stroke="#e06269" stroke-width="5.20"/>
<path d="M889.5 253.5h0M891.8 262.3h0" stroke="#be5059" stroke-width="6.00"/>
<path d="M889.5 253.5h0M891.8 262.3h0" stroke="#dd5e68" stroke-width="5.20"/>
<path d="M891.0 214.0h0" stroke="#ba4d58" stroke-width="6.00"/>
<path d="M891.0 214.0h0" stroke="#d95a67" stroke-width="5.20"/>
<path d="M857.0 213.5h0" stroke="#b14155" stroke-width="6.00"/>
<path d="M857.0 213.5h0" stroke="#ce4c63" stroke-width="5.20"/>
<path d="M854.8 203.9h0" stroke="#ad3d54" stroke-width="6.00"/>
<path d="M854.8 203.9h0" stroke="#ca4762" stroke-width="5.20"/>
<path d="M832.2 193.6h0M836.7 190.8h0" stroke="#9f2b51" stroke-width="6.00"/>
<path d="M832.2 193.6h0M836.7 190.8h0" stroke="#b9335f" stroke-width="5.20"/>
<path d="M812.5 201.2h0" stroke="#9a2850" stroke-width="6.00"/>
<path d="M812.5 201.2h0" stroke="#b42f5e" stroke-width="5.20"/>
<path d="M790.0 202.2h0M805.6 201.2h0" stroke="#972450" stroke-width="6.00"/>
<path d="M790.0 202.2h0M805.6 201.2h0" stroke="#b02a5e" stroke-width="5.20"/>
<path d="M781.5 201.2h0" stroke="#932050" stroke-width="6.00"/>
<path d="M781.5 201.2h0" stroke="#ab265e" stroke-width="5.20"/>
<path d="M786.0 167.7h0M793.5 166.6h0M810.8 178.7h0M812.5 182.2h0M786.6 189.1h0M778.0 197.7h0" stroke="#8e1e50" stroke-width="6.00"/>
<path d="M786.0 167.7h0M793.5 166.6h0M810.8 178.7h0M812.5 182.2h0M786.6 189.1h0M778.0 197.7h0" stroke="#a6235e" stroke-width="5.20"/>
<path d="M772.8 164.9h0M786.6 161.5h0M772.8 181.5h0M774.5 185.6h0M777.0 189.1h0M795.3 185.6h0M799.8 185.6h0" stroke="#8a1a50" stroke-width="6.00"/>
<path d="M772.8 164.9h0M786.6 161.5h0M772.8 181.5h0M774.5 185.6h0M777.0 189.1h0M795.3 185.6h0M799.8 185.6h0" stroke="#a11f5e" stroke-width="5.20"/>
<path d="M772.1 137.3h0M820.5 155.2h0" stroke="#861750" stroke-width="6.00"/>
<path d="M772.1 137.3h0M820.5 155.2h0" stroke="#9c1b5e" stroke-width="5.20"/>
<path d="M822.9 149.4h0" stroke="#811350" stroke-width="6.00"/>
<path d="M822.9 149.4h0" stroke="#97175e" stroke-width="5.20"/>
</g>
<path d="M854.65 450.70 L861.90 457.95 L869.15 450.70 L876.40 457.95 L869.15 465.20 L876.40 472.45 L869.15 479.70 L861.90 472.45 L854.65 479.70 L847.40 472.45 L854.65 465.20 L847.40 457.95Z" fill="#ff7f0e" stroke="#000" stroke-width="1.6" stroke-linejoin="miter"/>
<path d="M1064.05 406.70 L1071.30 413.95 L1078.55 406.70 L1085.80 413.95 L1078.55 421.20 L1085.80 428.45 L1078.55 435.70 L1071.30 428.45 L1064.05 435.70 L1056.80 428.45 L1064.05 421.20 L1056.80 413.95Z" fill="#2ca02c" stroke="#000" stroke-width="1.6" stroke-linejoin="miter"/>
<path d="M904.58 505.75 L912.20 513.38 L919.83 505.75 L927.45 513.38 L919.83 521.00 L927.45 528.62 L919.83 536.25 L912.20 528.62 L904.58 536.25 L896.95 528.62 L904.58 521.00 L896.95 513.38Z" fill="#1f77b4" stroke="#000" stroke-width="3.8" stroke-linejoin="miter"/>
<rect x="759.0" y="13.3" width="410.40" height="557.20" fill="none" stroke="#000" stroke-width="2.8"/>
<line x1="759.0" y1="82.2" x2="768.0" y2="82.2" stroke="#000" stroke-width="2.8"/>
<line x1="759.0" y1="152.5" x2="768.0" y2="152.5" stroke="#000" stroke-width="2.8"/>
<line x1="759.0" y1="222.2" x2="768.0" y2="222.2" stroke="#000" stroke-width="2.8"/>
<line x1="759.0" y1="292.0" x2="768.0" y2="292.0" stroke="#000" stroke-width="2.8"/>
<line x1="759.0" y1="361.8" x2="768.0" y2="361.8" stroke="#000" stroke-width="2.8"/>
<line x1="759.0" y1="431.6" x2="768.0" y2="431.6" stroke="#000" stroke-width="2.8"/>
<line x1="759.0" y1="501.2" x2="768.0" y2="501.2" stroke="#000" stroke-width="2.8"/>
<line x1="923.1" y1="570.5" x2="923.1" y2="561.5" stroke="#000" stroke-width="2.8"/>
<line x1="1086.7" y1="570.5" x2="1086.7" y2="561.5" stroke="#000" stroke-width="2.8"/>
<text x="676.3" y="31" font-size="29" text-anchor="start" font-weight="bold">(b)</text>
<text x="0" y="0" font-size="30" text-anchor="middle" font-weight="normal" transform="translate(739 291.6) rotate(-90) scale(1 1.06)">PC 2</text>
<text x="0" y="0" font-size="30" text-anchor="middle" font-weight="normal" transform="translate(963 606.5) scale(1 1.06)">PC 1</text>
<rect x="882.5" y="26.5" width="273.7" height="177.6" fill="#fff" stroke="#000" stroke-width="2"/>
<circle cx="921.9" cy="48.4" r="4.3" fill="#000"/>
<path d="M914.33 77.15 L921.70 84.53 L929.08 77.15 L936.45 84.53 L929.08 91.90 L936.45 99.28 L929.08 106.65 L921.70 99.28 L914.33 106.65 L906.95 99.28 L914.33 91.90 L906.95 84.53Z" fill="#1f77b4" stroke="#000" stroke-width="1.6" stroke-linejoin="miter"/>
<path d="M914.33 121.95 L921.70 129.32 L929.08 121.95 L936.45 129.32 L929.08 136.70 L936.45 144.07 L929.08 151.45 L921.70 144.07 L914.33 151.45 L906.95 144.07 L914.33 136.70 L906.95 129.32Z" fill="#ff7f0e" stroke="#000" stroke-width="1.6" stroke-linejoin="miter"/>
<path d="M914.33 165.15 L921.70 172.53 L929.08 165.15 L936.45 172.53 L929.08 179.90 L936.45 187.28 L929.08 194.65 L921.70 187.28 L914.33 194.65 L906.95 187.28 L914.33 179.90 L906.95 172.53Z" fill="#2ca02c" stroke="#000" stroke-width="1.6" stroke-linejoin="miter"/>
<text x="972.5" y="58.3" font-size="27.7" text-anchor="start" font-weight="normal">Training data</text>
<text x="970.5" y="97.5" font-size="27.7" text-anchor="start" font-weight="normal">DL TiO<tspan font-size="19.7" dx="3.5" dy="8.8">2</tspan><tspan dy="-8.8" dx="2.2"> term.</tspan></text>
<text x="971" y="142.5" font-size="27.7" text-anchor="start" font-weight="normal">SL TiO<tspan font-size="19.7" dx="3.5" dy="8.8">2</tspan><tspan dy="-8.8" dx="2.2"> term.</tspan></text>
<text x="971" y="186.2" font-size="27.7" text-anchor="start" font-weight="normal">SL SrO term.</text>
<rect x="1194.8" y="12.9" width="28.2" height="557.9" fill="url(#gb)" stroke="#1a0a14" stroke-width="2.2"/>
<line x1="1223" y1="33.8" x2="1232" y2="33.8" stroke="#000" stroke-width="2.4"/>
<text x="1240.5" y="43.8" font-size="28" text-anchor="start" font-weight="normal">100</text>
<line x1="1223" y1="96.8" x2="1232" y2="96.8" stroke="#000" stroke-width="2.4"/>
<text x="1240.5" y="106.8" font-size="28" text-anchor="start" font-weight="normal">80</text>
<line x1="1223" y1="159.8" x2="1232" y2="159.8" stroke="#000" stroke-width="2.4"/>
<text x="1240.5" y="169.8" font-size="28" text-anchor="start" font-weight="normal">60</text>
<line x1="1223" y1="222.8" x2="1232" y2="222.8" stroke="#000" stroke-width="2.4"/>
<text x="1240.5" y="232.8" font-size="28" text-anchor="start" font-weight="normal">40</text>
<line x1="1223" y1="285.8" x2="1232" y2="285.8" stroke="#000" stroke-width="2.4"/>
<text x="1240.5" y="295.8" font-size="28" text-anchor="start" font-weight="normal">20</text>
<line x1="1223" y1="348.8" x2="1232" y2="348.8" stroke="#000" stroke-width="2.4"/>
<text x="1240.5" y="358.8" font-size="28" text-anchor="start" font-weight="normal">0</text>
<line x1="1223" y1="411.8" x2="1232" y2="411.8" stroke="#000" stroke-width="2.4"/>
<text x="1240.5" y="421.8" font-size="28" text-anchor="start" font-weight="normal">−20</text>
<line x1="1223" y1="474.8" x2="1232" y2="474.8" stroke="#000" stroke-width="2.4"/>
<text x="1240.5" y="484.8" font-size="28" text-anchor="start" font-weight="normal">−40</text>
<line x1="1223" y1="537.8" x2="1232" y2="537.8" stroke="#000" stroke-width="2.4"/>
<text x="1240.5" y="547.8" font-size="28" text-anchor="start" font-weight="normal">−60</text>
<text x="1313" y="298.6" font-size="28.6" text-anchor="middle" font-weight="normal" transform="rotate(-90 1313 298.6)">Predicted energy [eV]</text></svg>
</body></html>
